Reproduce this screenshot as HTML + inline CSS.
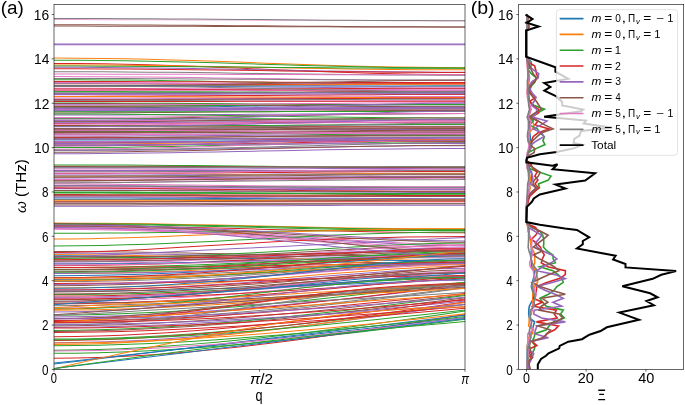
<!DOCTYPE html><html><head><meta charset="utf-8"><style>html,body{margin:0;padding:0;background:#fff;overflow:hidden}svg{display:block;will-change:transform}</style></head><body><svg width="685" height="405" viewBox="0 0 685 405" font-family='"Liberation Sans", sans-serif'>
<rect x="0" y="0" width="685" height="405" fill="#fff"/>
<defs>
<clipPath id="ca"><rect x="54.0" y="4.5" width="411.0" height="364.9"/></clipPath>
<clipPath id="cb"><rect x="518.7" y="4.5" width="165.0" height="364.9"/></clipPath>
</defs>
<g clip-path="url(#ca)" stroke="none">
<path d="M53.0,20.10 77.8,20.11 101.9,20.14 125.4,20.19 148.5,20.25 171.2,20.32 193.5,20.40 215.7,20.49 237.6,20.58 259.5,20.67 281.4,20.77 303.3,20.86 325.5,20.95 347.8,21.03 370.5,21.10 393.6,21.16 417.1,21.21 441.2,21.24 466.0,21.25 466.0,20.25 441.2,20.24 417.1,20.21 393.6,20.16 370.5,20.10 347.8,20.03 325.5,19.95 303.3,19.86 281.4,19.77 259.5,19.68 237.6,19.58 215.7,19.49 193.5,19.40 171.2,19.32 148.5,19.25 125.4,19.19 101.9,19.14 77.8,19.11 53.0,19.10Z" fill="#e9a8d8"/>
<path d="M53.0,19.00 77.8,19.02 101.9,19.08 125.4,19.16 148.5,19.28 171.2,19.41 193.5,19.57 215.7,19.74 237.6,19.92 259.5,20.10 281.4,20.28 303.3,20.46 325.5,20.63 347.8,20.79 370.5,20.92 393.6,21.04 417.1,21.12 441.2,21.18 466.0,21.20 466.0,20.20 441.2,20.18 417.1,20.12 393.6,20.04 370.5,19.92 347.8,19.79 325.5,19.63 303.3,19.46 281.4,19.28 259.5,19.10 237.6,18.92 215.7,18.74 193.5,18.57 171.2,18.41 148.5,18.28 125.4,18.16 101.9,18.08 77.8,18.02 53.0,18.00Z" fill="#7f7f7f"/>
<path d="M53.0,25.30 77.8,25.32 101.9,25.37 125.4,25.46 148.5,25.57 171.2,25.70 193.5,25.84 215.7,26.01 237.6,26.18 259.5,26.35 281.4,26.52 303.3,26.69 325.5,26.86 347.8,27.00 370.5,27.13 393.6,27.24 417.1,27.33 441.2,27.38 466.0,27.40 466.0,26.40 441.2,26.38 417.1,26.33 393.6,26.24 370.5,26.13 347.8,26.00 325.5,25.86 303.3,25.69 281.4,25.52 259.5,25.35 237.6,25.18 215.7,25.01 193.5,24.84 171.2,24.70 148.5,24.57 125.4,24.46 101.9,24.37 77.8,24.32 53.0,24.30Z" fill="#8c564b"/>
<path d="M53.0,26.60 77.8,26.61 101.9,26.63 125.4,26.67 148.5,26.73 171.2,26.79 193.5,26.86 215.7,26.94 237.6,27.02 259.5,27.10 281.4,27.18 303.3,27.26 325.5,27.34 347.8,27.41 370.5,27.47 393.6,27.53 417.1,27.57 441.2,27.59 466.0,27.60 466.0,26.60 441.2,26.59 417.1,26.57 393.6,26.53 370.5,26.47 347.8,26.41 325.5,26.34 303.3,26.26 281.4,26.18 259.5,26.10 237.6,26.02 215.7,25.94 193.5,25.86 171.2,25.79 148.5,25.73 125.4,25.67 101.9,25.63 77.8,25.61 53.0,25.60Z" fill="#8c564b"/>
<path d="M53.0,44.50 77.8,44.50 101.9,44.50 125.4,44.50 148.5,44.50 171.2,44.50 193.5,44.50 215.7,44.50 237.6,44.50 259.5,44.50 281.4,44.50 303.3,44.50 325.5,44.50 347.8,44.50 370.5,44.50 393.6,44.50 417.1,44.50 441.2,44.50 466.0,44.50 466.0,43.50 441.2,43.50 417.1,43.50 393.6,43.50 370.5,43.50 347.8,43.50 325.5,43.50 303.3,43.50 281.4,43.50 259.5,43.50 237.6,43.50 215.7,43.50 193.5,43.50 171.2,43.50 148.5,43.50 125.4,43.50 101.9,43.50 77.8,43.50 53.0,43.50Z" fill="#9467bd"/>
<path d="M53.0,45.35 77.8,45.35 101.9,45.35 125.4,45.35 148.5,45.34 171.2,45.34 193.5,45.34 215.7,45.33 237.6,45.33 259.5,45.32 281.4,45.32 303.3,45.32 325.5,45.31 347.8,45.31 370.5,45.31 393.6,45.30 417.1,45.30 441.2,45.30 466.0,45.30 466.0,44.30 441.2,44.30 417.1,44.30 393.6,44.30 370.5,44.31 347.8,44.31 325.5,44.31 303.3,44.32 281.4,44.32 259.5,44.33 237.6,44.33 215.7,44.33 193.5,44.34 171.2,44.34 148.5,44.34 125.4,44.35 101.9,44.35 77.8,44.35 53.0,44.35Z" fill="#9467bd"/>
<path d="M53.0,58.60 77.8,58.69 101.9,58.93 125.4,59.31 148.5,59.81 171.2,60.41 193.5,61.09 215.6,61.83 237.6,62.60 259.5,63.40 281.4,64.20 303.3,64.97 325.4,65.71 347.8,66.39 370.5,66.99 393.6,67.49 417.1,67.87 441.2,68.11 466.0,68.20 466.0,67.20 441.2,67.11 417.1,66.87 393.6,66.49 370.5,65.99 347.8,65.39 325.5,64.71 303.4,63.97 281.4,63.20 259.5,62.40 237.6,61.60 215.7,60.83 193.6,60.09 171.2,59.41 148.5,58.81 125.4,58.31 101.9,57.93 77.8,57.69 53.0,57.60Z" fill="#ff7f0e"/>
<path d="M53.0,60.70 77.8,60.77 101.9,60.97 125.4,61.28 148.5,61.69 171.2,62.19 193.5,62.74 215.6,63.35 237.6,63.99 259.5,64.64 281.4,65.30 303.3,65.93 325.4,66.54 347.8,67.10 370.5,67.59 393.6,68.00 417.1,68.31 441.2,68.51 466.0,68.58 466.0,67.58 441.2,67.51 417.1,67.31 393.6,67.00 370.5,66.59 347.8,66.10 325.5,65.54 303.4,64.93 281.4,64.30 259.5,63.64 237.6,62.99 215.7,62.35 193.6,61.74 171.2,61.19 148.5,60.70 125.4,60.28 101.9,59.97 77.8,59.77 53.0,59.70Z" fill="#2ca02c"/>
<path d="M53.0,63.90 77.8,64.00 101.9,64.29 125.4,64.73 148.5,65.32 171.2,66.02 193.5,66.82 215.6,67.68 237.6,68.59 259.5,69.53 281.4,70.46 303.3,71.37 325.4,72.23 347.8,73.03 370.5,73.73 393.6,74.32 417.1,74.77 441.2,75.05 466.0,75.15 466.0,74.15 441.2,74.05 417.1,73.77 393.6,73.32 370.5,72.73 347.8,72.03 325.5,71.24 303.4,70.37 281.4,69.46 259.5,68.53 237.6,67.59 215.7,66.68 193.6,65.82 171.2,65.02 148.5,64.32 125.4,63.73 101.9,63.29 77.8,63.00 53.0,62.90Z" fill="#d62728"/>
<path d="M53.0,65.40 77.8,65.44 101.9,65.57 125.4,65.76 148.5,66.02 171.2,66.33 193.5,66.67 215.7,67.05 237.6,67.45 259.5,67.86 281.4,68.27 303.3,68.66 325.5,69.04 347.8,69.39 370.5,69.70 393.6,69.95 417.1,70.15 441.2,70.27 466.0,70.32 466.0,69.32 441.2,69.27 417.1,69.15 393.6,68.95 370.5,68.70 347.8,68.39 325.5,68.04 303.3,67.66 281.4,67.27 259.5,66.86 237.6,66.45 215.7,66.05 193.5,65.67 171.2,65.33 148.5,65.02 125.4,64.76 101.9,64.57 77.8,64.44 53.0,64.40Z" fill="#ff7f0e"/>
<path d="M53.0,66.60 77.8,66.62 101.9,66.68 125.4,66.76 148.5,66.88 171.2,67.02 193.5,67.17 215.7,67.34 237.6,67.52 259.5,67.71 281.4,67.89 303.3,68.07 325.5,68.24 347.8,68.39 370.5,68.53 393.6,68.65 417.1,68.74 441.2,68.79 466.0,68.81 466.0,67.81 441.2,67.79 417.1,67.74 393.6,67.65 370.5,67.53 347.8,67.39 325.5,67.24 303.3,67.07 281.4,66.89 259.5,66.71 237.6,66.52 215.7,66.34 193.5,66.17 171.2,66.02 148.5,65.88 125.4,65.76 101.9,65.68 77.8,65.62 53.0,65.60Z" fill="#2ca02c"/>
<path d="M53.0,67.80 77.8,67.84 101.9,67.97 125.4,68.16 148.5,68.42 171.2,68.73 193.5,69.07 215.7,69.45 237.6,69.85 259.5,70.25 281.4,70.66 303.3,71.06 325.5,71.43 347.8,71.78 370.5,72.09 393.6,72.34 417.1,72.54 441.2,72.66 466.0,72.71 466.0,71.71 441.2,71.66 417.1,71.54 393.6,71.34 370.5,71.09 347.8,70.78 325.5,70.43 303.3,70.06 281.4,69.66 259.5,69.25 237.6,68.85 215.7,68.45 193.5,68.07 171.2,67.73 148.5,67.42 125.4,67.16 101.9,66.97 77.8,66.84 53.0,66.80Z" fill="#9467bd"/>
<path d="M53.0,69.30 77.8,69.33 101.9,69.42 125.4,69.57 148.5,69.76 171.2,69.98 193.5,70.24 215.7,70.51 237.6,70.81 259.5,71.11 281.4,71.41 303.3,71.70 325.5,71.98 347.8,72.23 370.5,72.46 393.6,72.65 417.1,72.79 441.2,72.88 466.0,72.91 466.0,71.91 441.2,71.88 417.1,71.79 393.6,71.65 370.5,71.46 347.8,71.23 325.5,70.98 303.3,70.70 281.4,70.41 259.5,70.11 237.6,69.81 215.7,69.51 193.5,69.24 171.2,68.98 148.5,68.76 125.4,68.57 101.9,68.42 77.8,68.33 53.0,68.30Z" fill="#d62728"/>
<path d="M53.0,72.20 77.8,72.23 101.9,72.32 125.4,72.46 148.5,72.64 171.2,72.85 193.5,73.10 215.7,73.36 237.6,73.64 259.5,73.93 281.4,74.21 303.3,74.49 325.5,74.76 347.8,75.00 370.5,75.22 393.6,75.40 417.1,75.54 441.2,75.63 466.0,75.66 466.0,74.66 441.2,74.63 417.1,74.54 393.6,74.40 370.5,74.22 347.8,74.00 325.5,73.76 303.3,73.49 281.4,73.21 259.5,72.93 237.6,72.64 215.7,72.36 193.5,72.10 171.2,71.85 148.5,71.64 125.4,71.46 101.9,71.32 77.8,71.23 53.0,71.20Z" fill="#7f7f7f"/>
<path d="M53.0,74.60 77.8,74.61 101.9,74.63 125.4,74.65 148.5,74.69 171.2,74.74 193.5,74.79 215.7,74.85 237.6,74.91 259.5,74.97 281.4,75.03 303.3,75.09 325.5,75.15 347.8,75.20 370.5,75.25 393.6,75.28 417.1,75.31 441.2,75.33 466.0,75.34 466.0,74.34 441.2,74.33 417.1,74.31 393.6,74.28 370.5,74.25 347.8,74.20 325.5,74.15 303.3,74.09 281.4,74.03 259.5,73.97 237.6,73.91 215.7,73.85 193.5,73.79 171.2,73.74 148.5,73.69 125.4,73.65 101.9,73.63 77.8,73.61 53.0,73.60Z" fill="#e377c2"/>
<path d="M53.0,77.10 77.8,77.13 101.9,77.23 125.4,77.38 148.5,77.58 171.2,77.82 193.5,78.09 215.7,78.39 237.6,78.70 259.5,79.02 281.4,79.33 303.3,79.64 325.5,79.94 347.8,80.21 370.5,80.45 393.6,80.65 417.1,80.80 441.2,80.90 466.0,80.93 466.0,79.93 441.2,79.90 417.1,79.80 393.6,79.65 370.5,79.45 347.8,79.21 325.5,78.94 303.3,78.64 281.4,78.33 259.5,78.02 237.6,77.70 215.7,77.39 193.5,77.09 171.2,76.82 148.5,76.58 125.4,76.38 101.9,76.23 77.8,76.13 53.0,76.10Z" fill="#e377c2"/>
<path d="M53.0,79.00 77.8,79.01 101.9,79.06 125.4,79.12 148.5,79.20 171.2,79.31 193.5,79.42 215.7,79.55 237.6,79.68 259.5,79.81 281.4,79.95 303.3,80.08 325.5,80.20 347.8,80.32 370.5,80.42 393.6,80.50 417.1,80.57 441.2,80.61 466.0,80.62 466.0,79.62 441.2,79.61 417.1,79.57 393.6,79.50 370.5,79.42 347.8,79.32 325.5,79.20 303.3,79.08 281.4,78.95 259.5,78.81 237.6,78.68 215.7,78.55 193.5,78.42 171.2,78.31 148.5,78.20 125.4,78.12 101.9,78.06 77.8,78.01 53.0,78.00Z" fill="#7f7f7f"/>
<path d="M53.0,80.20 77.8,80.25 101.9,80.38 125.4,80.59 148.5,80.86 171.2,81.19 193.5,81.56 215.7,81.96 237.6,82.39 259.5,82.83 281.4,83.26 303.3,83.69 325.4,84.09 347.8,84.46 370.5,84.79 393.6,85.06 417.1,85.27 441.2,85.40 466.0,85.45 466.0,84.45 441.2,84.40 417.1,84.27 393.6,84.06 370.5,83.79 347.8,83.46 325.5,83.09 303.3,82.69 281.4,82.26 259.5,81.83 237.6,81.39 215.7,80.97 193.6,80.56 171.2,80.19 148.5,79.86 125.4,79.59 101.9,79.38 77.8,79.25 53.0,79.20Z" fill="#2ca02c"/>
<path d="M53.0,82.00 77.8,82.01 101.9,82.04 125.4,82.08 148.5,82.14 171.2,82.21 193.5,82.29 215.7,82.37 237.6,82.46 259.5,82.55 281.4,82.65 303.3,82.74 325.5,82.82 347.8,82.90 370.5,82.97 393.6,83.03 417.1,83.07 441.2,83.10 466.0,83.11 466.0,82.11 441.2,82.10 417.1,82.07 393.6,82.03 370.5,81.97 347.8,81.90 325.5,81.82 303.3,81.74 281.4,81.65 259.5,81.55 237.6,81.46 215.7,81.37 193.5,81.29 171.2,81.21 148.5,81.14 125.4,81.08 101.9,81.04 77.8,81.01 53.0,81.00Z" fill="#d62728"/>
<path d="M53.0,84.10 77.8,84.10 101.9,84.11 125.4,84.13 148.5,84.15 171.2,84.17 193.5,84.20 215.7,84.23 237.6,84.26 259.5,84.29 281.4,84.32 303.3,84.35 325.5,84.38 347.8,84.41 370.5,84.43 393.6,84.45 417.1,84.47 441.2,84.48 466.0,84.48 466.0,83.48 441.2,83.48 417.1,83.47 393.6,83.45 370.5,83.43 347.8,83.41 325.5,83.38 303.3,83.35 281.4,83.32 259.5,83.29 237.6,83.26 215.7,83.23 193.5,83.20 171.2,83.17 148.5,83.15 125.4,83.13 101.9,83.11 77.8,83.10 53.0,83.10Z" fill="#7f7f7f"/>
<path d="M53.0,86.10 77.8,86.12 101.9,86.19 125.4,86.29 148.5,86.43 171.2,86.60 193.5,86.78 215.7,86.98 237.6,87.20 259.5,87.41 281.4,87.63 303.3,87.84 325.5,88.05 347.8,88.23 370.5,88.40 393.6,88.53 417.1,88.64 441.2,88.70 466.0,88.73 466.0,87.73 441.2,87.70 417.1,87.64 393.6,87.53 370.5,87.40 347.8,87.23 325.5,87.05 303.3,86.84 281.4,86.63 259.5,86.41 237.6,86.20 215.7,85.98 193.5,85.78 171.2,85.60 148.5,85.43 125.4,85.29 101.9,85.19 77.8,85.12 53.0,85.10Z" fill="#9467bd"/>
<path d="M53.0,88.80 77.8,88.81 101.9,88.85 125.4,88.90 148.5,88.98 171.2,89.06 193.5,89.16 215.7,89.27 237.6,89.38 259.5,89.50 281.4,89.62 303.3,89.73 325.5,89.84 347.8,89.94 370.5,90.02 393.6,90.10 417.1,90.15 441.2,90.19 466.0,90.20 466.0,89.20 441.2,89.19 417.1,89.15 393.6,89.10 370.5,89.02 347.8,88.94 325.5,88.84 303.3,88.73 281.4,88.62 259.5,88.50 237.6,88.38 215.7,88.27 193.5,88.16 171.2,88.06 148.5,87.98 125.4,87.90 101.9,87.85 77.8,87.81 53.0,87.80Z" fill="#e377c2"/>
<path d="M53.0,90.70 77.8,90.68 101.9,90.63 125.4,90.55 148.5,90.45 171.2,90.32 193.5,90.18 215.7,90.02 237.6,89.86 259.5,89.69 281.4,89.52 303.3,89.36 325.5,89.20 347.8,89.06 370.5,88.93 393.6,88.83 417.1,88.75 441.2,88.70 466.0,88.68 466.0,87.68 441.2,87.70 417.1,87.75 393.6,87.83 370.5,87.93 347.8,88.06 325.5,88.20 303.3,88.36 281.4,88.52 259.5,88.69 237.6,88.86 215.7,89.02 193.5,89.18 171.2,89.32 148.5,89.45 125.4,89.55 101.9,89.63 77.8,89.68 53.0,89.70Z" fill="#d62728"/>
<path d="M53.0,92.30 77.8,92.31 101.9,92.34 125.4,92.38 148.5,92.44 171.2,92.51 193.5,92.58 215.7,92.67 237.6,92.75 259.5,92.85 281.4,92.94 303.3,93.02 325.5,93.11 347.8,93.18 370.5,93.25 393.6,93.31 417.1,93.35 441.2,93.38 466.0,93.39 466.0,92.39 441.2,92.38 417.1,92.35 393.6,92.31 370.5,92.25 347.8,92.18 325.5,92.11 303.3,92.02 281.4,91.94 259.5,91.85 237.6,91.75 215.7,91.67 193.5,91.58 171.2,91.51 148.5,91.44 125.4,91.38 101.9,91.34 77.8,91.31 53.0,91.30Z" fill="#2ca02c"/>
<path d="M53.0,93.80 77.8,93.78 101.9,93.73 125.4,93.65 148.5,93.55 171.2,93.43 193.5,93.29 215.7,93.14 237.6,92.98 259.5,92.81 281.4,92.65 303.3,92.49 325.5,92.34 347.8,92.20 370.5,92.07 393.6,91.97 417.1,91.89 441.2,91.84 466.0,91.83 466.0,90.83 441.2,90.84 417.1,90.89 393.6,90.97 370.5,91.07 347.8,91.20 325.5,91.34 303.3,91.49 281.4,91.65 259.5,91.81 237.6,91.98 215.7,92.14 193.5,92.29 171.2,92.43 148.5,92.55 125.4,92.65 101.9,92.73 77.8,92.78 53.0,92.80Z" fill="#8c564b"/>
<path d="M53.0,95.30 77.8,95.32 101.9,95.36 125.4,95.43 148.5,95.53 171.2,95.64 193.5,95.76 215.7,95.90 237.6,96.05 259.5,96.19 281.4,96.34 303.3,96.49 325.5,96.63 347.8,96.75 370.5,96.86 393.6,96.96 417.1,97.03 441.2,97.07 466.0,97.09 466.0,96.09 441.2,96.07 417.1,96.03 393.6,95.96 370.5,95.86 347.8,95.75 325.5,95.63 303.3,95.49 281.4,95.34 259.5,95.20 237.6,95.05 215.7,94.90 193.5,94.76 171.2,94.64 148.5,94.53 125.4,94.43 101.9,94.36 77.8,94.32 53.0,94.30Z" fill="#e377c2"/>
<path d="M53.0,96.90 77.8,96.88 101.9,96.83 125.4,96.76 148.5,96.65 171.2,96.53 193.5,96.40 215.7,96.25 237.6,96.09 259.5,95.93 281.4,95.77 303.3,95.61 325.5,95.46 347.8,95.32 370.5,95.20 393.6,95.10 417.1,95.02 441.2,94.97 466.0,94.95 466.0,93.95 441.2,93.97 417.1,94.02 393.6,94.10 370.5,94.20 347.8,94.32 325.5,94.46 303.3,94.61 281.4,94.77 259.5,94.93 237.6,95.09 215.7,95.25 193.5,95.40 171.2,95.53 148.5,95.65 125.4,95.76 101.9,95.83 77.8,95.88 53.0,95.90Z" fill="#d62728"/>
<path d="M53.0,98.50 77.8,98.50 101.9,98.50 125.4,98.49 148.5,98.48 171.2,98.48 193.5,98.47 215.7,98.46 237.6,98.45 259.5,98.44 281.4,98.43 303.3,98.42 325.5,98.41 347.8,98.40 370.5,98.39 393.6,98.39 417.1,98.38 441.2,98.38 466.0,98.38 466.0,97.38 441.2,97.38 417.1,97.38 393.6,97.39 370.5,97.39 347.8,97.40 325.5,97.41 303.3,97.42 281.4,97.43 259.5,97.44 237.6,97.45 215.7,97.46 193.5,97.47 171.2,97.48 148.5,97.48 125.4,97.49 101.9,97.50 77.8,97.50 53.0,97.50Z" fill="#e377c2"/>
<path d="M53.0,100.10 77.8,100.08 101.9,100.01 125.4,99.91 148.5,99.78 171.2,99.62 193.5,99.45 215.7,99.25 237.6,99.05 259.5,98.84 281.4,98.63 303.3,98.43 325.5,98.23 347.8,98.05 370.5,97.90 393.6,97.76 417.1,97.66 441.2,97.60 466.0,97.58 466.0,96.58 441.2,96.60 417.1,96.66 393.6,96.76 370.5,96.90 347.8,97.05 325.5,97.23 303.3,97.43 281.4,97.63 259.5,97.84 237.6,98.05 215.7,98.25 193.5,98.45 171.2,98.62 148.5,98.78 125.4,98.91 101.9,99.01 77.8,99.08 53.0,99.10Z" fill="#e377c2"/>
<path d="M53.0,101.60 77.8,101.60 101.9,101.59 125.4,101.58 148.5,101.57 171.2,101.55 193.5,101.53 215.7,101.51 237.6,101.48 259.5,101.46 281.4,101.44 303.3,101.42 325.5,101.40 347.8,101.38 370.5,101.36 393.6,101.34 417.1,101.33 441.2,101.33 466.0,101.32 466.0,100.32 441.2,100.33 417.1,100.33 393.6,100.34 370.5,100.36 347.8,100.38 325.5,100.40 303.3,100.42 281.4,100.44 259.5,100.46 237.6,100.48 215.7,100.51 193.5,100.53 171.2,100.55 148.5,100.57 125.4,100.58 101.9,100.59 77.8,100.60 53.0,100.60Z" fill="#e377c2"/>
<path d="M53.0,103.50 77.8,103.52 101.9,103.56 125.4,103.64 148.5,103.73 171.2,103.85 193.5,103.98 215.7,104.12 237.6,104.27 259.5,104.43 281.4,104.58 303.3,104.73 325.5,104.88 347.8,105.01 370.5,105.12 393.6,105.22 417.1,105.29 441.2,105.34 466.0,105.36 466.0,104.36 441.2,104.34 417.1,104.29 393.6,104.22 370.5,104.12 347.8,104.01 325.5,103.88 303.3,103.73 281.4,103.58 259.5,103.43 237.6,103.27 215.7,103.12 193.5,102.98 171.2,102.85 148.5,102.73 125.4,102.64 101.9,102.56 77.8,102.52 53.0,102.50Z" fill="#2ca02c"/>
<path d="M53.0,105.30 77.8,105.31 101.9,105.35 125.4,105.40 148.5,105.48 171.2,105.56 193.5,105.66 215.7,105.77 237.6,105.88 259.5,105.99 281.4,106.11 303.3,106.22 325.5,106.33 347.8,106.43 370.5,106.51 393.6,106.59 417.1,106.64 441.2,106.68 466.0,106.69 466.0,105.69 441.2,105.68 417.1,105.64 393.6,105.59 370.5,105.51 347.8,105.43 325.5,105.33 303.3,105.22 281.4,105.11 259.5,104.99 237.6,104.88 215.7,104.77 193.5,104.66 171.2,104.56 148.5,104.48 125.4,104.40 101.9,104.35 77.8,104.31 53.0,104.30Z" fill="#9467bd"/>
<path d="M53.0,107.00 77.8,106.98 101.9,106.92 125.4,106.83 148.5,106.72 171.2,106.57 193.5,106.41 215.7,106.24 237.6,106.06 259.5,105.87 281.4,105.68 303.3,105.50 325.5,105.33 347.8,105.17 370.5,105.03 393.6,104.91 417.1,104.82 441.2,104.76 466.0,104.74 466.0,103.74 441.2,103.76 417.1,103.82 393.6,103.91 370.5,104.03 347.8,104.17 325.5,104.33 303.3,104.50 281.4,104.68 259.5,104.87 237.6,105.06 215.7,105.24 193.5,105.41 171.2,105.57 148.5,105.72 125.4,105.83 101.9,105.92 77.8,105.98 53.0,106.00Z" fill="#d62728"/>
<path d="M53.0,108.40 77.8,108.37 101.9,108.27 125.4,108.13 148.5,107.94 171.2,107.71 193.5,107.45 215.7,107.16 237.6,106.87 259.5,106.56 281.4,106.26 303.3,105.96 325.5,105.68 347.8,105.42 370.5,105.19 393.6,105.00 417.1,104.85 441.2,104.76 466.0,104.72 466.0,103.72 441.2,103.76 417.1,103.85 393.6,104.00 370.5,104.19 347.8,104.42 325.5,104.68 303.3,104.96 281.4,105.26 259.5,105.56 237.6,105.87 215.7,106.16 193.5,106.45 171.2,106.71 148.5,106.94 125.4,107.13 101.9,107.27 77.8,107.37 53.0,107.40Z" fill="#1f77b4"/>
<path d="M53.0,110.00 77.8,110.00 101.9,110.02 125.4,110.04 148.5,110.06 171.2,110.09 193.5,110.12 215.7,110.16 237.6,110.20 259.5,110.24 281.4,110.28 303.3,110.32 325.5,110.36 347.8,110.39 370.5,110.42 393.6,110.45 417.1,110.47 441.2,110.48 466.0,110.48 466.0,109.48 441.2,109.48 417.1,109.47 393.6,109.45 370.5,109.42 347.8,109.39 325.5,109.36 303.3,109.32 281.4,109.28 259.5,109.24 237.6,109.20 215.7,109.16 193.5,109.12 171.2,109.09 148.5,109.06 125.4,109.04 101.9,109.02 77.8,109.00 53.0,109.00Z" fill="#e377c2"/>
<path d="M53.0,111.60 77.8,111.58 101.9,111.52 125.4,111.43 148.5,111.30 171.2,111.16 193.5,110.99 215.7,110.81 237.6,110.62 259.5,110.43 281.4,110.23 303.3,110.04 325.5,109.86 347.8,109.69 370.5,109.55 393.6,109.42 417.1,109.33 441.2,109.27 466.0,109.25 466.0,108.25 441.2,108.27 417.1,108.33 393.6,108.42 370.5,108.55 347.8,108.69 325.5,108.86 303.3,109.04 281.4,109.23 259.5,109.43 237.6,109.62 215.7,109.81 193.5,109.99 171.2,110.16 148.5,110.30 125.4,110.43 101.9,110.52 77.8,110.58 53.0,110.60Z" fill="#9467bd"/>
<path d="M53.0,113.40 77.8,113.38 101.9,113.31 125.4,113.21 148.5,113.08 171.2,112.92 193.5,112.75 215.7,112.55 237.6,112.35 259.5,112.14 281.4,111.93 303.3,111.73 325.5,111.53 347.8,111.35 370.5,111.20 393.6,111.06 417.1,110.96 441.2,110.90 466.0,110.88 466.0,109.88 441.2,109.90 417.1,109.96 393.6,110.06 370.5,110.20 347.8,110.35 325.5,110.53 303.3,110.73 281.4,110.93 259.5,111.14 237.6,111.35 215.7,111.55 193.5,111.75 171.2,111.92 148.5,112.08 125.4,112.21 101.9,112.31 77.8,112.38 53.0,112.40Z" fill="#8c564b"/>
<path d="M53.0,115.50 77.8,115.49 101.9,115.45 125.4,115.40 148.5,115.32 171.2,115.24 193.5,115.14 215.7,115.03 237.6,114.92 259.5,114.80 281.4,114.68 303.3,114.57 325.5,114.46 347.8,114.36 370.5,114.28 393.6,114.20 417.1,114.15 441.2,114.11 466.0,114.10 466.0,113.10 441.2,113.11 417.1,113.15 393.6,113.20 370.5,113.28 347.8,113.36 325.5,113.46 303.3,113.57 281.4,113.68 259.5,113.80 237.6,113.92 215.7,114.03 193.5,114.14 171.2,114.24 148.5,114.32 125.4,114.40 101.9,114.45 77.8,114.49 53.0,114.50Z" fill="#9467bd"/>
<path d="M53.0,119.30 77.8,119.25 101.9,119.12 125.4,118.91 148.5,118.64 171.2,118.32 193.6,117.95 215.7,117.55 237.6,117.13 259.5,116.70 281.4,116.27 303.3,115.85 325.5,115.45 347.8,115.08 370.5,114.76 393.6,114.49 417.1,114.28 441.2,114.15 466.0,114.10 466.0,113.10 441.2,113.15 417.1,113.28 393.6,113.49 370.5,113.76 347.8,114.08 325.4,114.45 303.3,114.85 281.4,115.27 259.5,115.70 237.6,116.13 215.7,116.55 193.5,116.95 171.2,117.32 148.5,117.64 125.4,117.91 101.9,118.12 77.8,118.25 53.0,118.30Z" fill="#8c564b"/>
<path d="M53.0,120.90 77.8,120.91 101.9,120.92 125.4,120.95 148.5,120.98 171.2,121.02 193.5,121.07 215.7,121.12 237.6,121.17 259.5,121.23 281.4,121.28 303.3,121.34 325.5,121.39 347.8,121.43 370.5,121.48 393.6,121.51 417.1,121.54 441.2,121.55 466.0,121.56 466.0,120.56 441.2,120.55 417.1,120.54 393.6,120.51 370.5,120.48 347.8,120.43 325.5,120.39 303.3,120.34 281.4,120.28 259.5,120.23 237.6,120.17 215.7,120.12 193.5,120.07 171.2,120.02 148.5,119.98 125.4,119.95 101.9,119.92 77.8,119.91 53.0,119.90Z" fill="#e377c2"/>
<path d="M53.0,122.20 77.8,122.21 101.9,122.24 125.4,122.28 148.5,122.34 171.2,122.42 193.5,122.50 215.7,122.59 237.6,122.68 259.5,122.77 281.4,122.87 303.3,122.96 325.5,123.05 347.8,123.13 370.5,123.20 393.6,123.26 417.1,123.31 441.2,123.34 466.0,123.35 466.0,122.35 441.2,122.34 417.1,122.31 393.6,122.26 370.5,122.20 347.8,122.13 325.5,122.05 303.3,121.96 281.4,121.87 259.5,121.77 237.6,121.68 215.7,121.59 193.5,121.50 171.2,121.42 148.5,121.34 125.4,121.28 101.9,121.24 77.8,121.21 53.0,121.20Z" fill="#7f7f7f"/>
<path d="M53.0,123.90 77.8,123.89 101.9,123.86 125.4,123.82 148.5,123.76 171.2,123.70 193.5,123.62 215.7,123.54 237.6,123.45 259.5,123.36 281.4,123.27 303.3,123.18 325.5,123.10 347.8,123.02 370.5,122.96 393.6,122.90 417.1,122.86 441.2,122.83 466.0,122.82 466.0,121.82 441.2,121.83 417.1,121.86 393.6,121.90 370.5,121.96 347.8,122.02 325.5,122.10 303.3,122.18 281.4,122.27 259.5,122.36 237.6,122.45 215.7,122.54 193.5,122.62 171.2,122.70 148.5,122.76 125.4,122.82 101.9,122.86 77.8,122.89 53.0,122.90Z" fill="#d62728"/>
<path d="M53.0,125.60 77.8,125.57 101.9,125.50 125.4,125.37 148.5,125.21 171.2,125.02 193.5,124.81 215.7,124.57 237.6,124.33 259.5,124.07 281.4,123.82 303.3,123.57 325.5,123.34 347.8,123.12 370.5,122.93 393.6,122.77 417.1,122.65 441.2,122.58 466.0,122.55 466.0,121.55 441.2,121.58 417.1,121.65 393.6,121.77 370.5,121.93 347.8,122.12 325.5,122.34 303.3,122.57 281.4,122.82 259.5,123.07 237.6,123.33 215.7,123.57 193.5,123.81 171.2,124.02 148.5,124.21 125.4,124.37 101.9,124.50 77.8,124.57 53.0,124.60Z" fill="#e377c2"/>
<path d="M53.0,127.00 77.8,126.98 101.9,126.94 125.4,126.87 148.5,126.78 171.2,126.67 193.5,126.55 215.7,126.42 237.6,126.28 259.5,126.14 281.4,125.99 303.3,125.85 325.5,125.72 347.8,125.60 370.5,125.49 393.6,125.40 417.1,125.33 441.2,125.29 466.0,125.27 466.0,124.27 441.2,124.29 417.1,124.33 393.6,124.40 370.5,124.49 347.8,124.60 325.5,124.72 303.3,124.85 281.4,124.99 259.5,125.14 237.6,125.28 215.7,125.42 193.5,125.55 171.2,125.67 148.5,125.78 125.4,125.87 101.9,125.94 77.8,125.98 53.0,126.00Z" fill="#9467bd"/>
<path d="M53.0,129.00 77.8,129.01 101.9,129.06 125.4,129.12 148.5,129.21 171.2,129.31 193.5,129.43 215.7,129.56 237.6,129.70 259.5,129.83 281.4,129.97 303.3,130.11 325.5,130.24 347.8,130.35 370.5,130.46 393.6,130.55 417.1,130.61 441.2,130.65 466.0,130.67 466.0,129.67 441.2,129.65 417.1,129.61 393.6,129.55 370.5,129.46 347.8,129.35 325.5,129.24 303.3,129.11 281.4,128.97 259.5,128.83 237.6,128.70 215.7,128.56 193.5,128.43 171.2,128.31 148.5,128.21 125.4,128.12 101.9,128.06 77.8,128.01 53.0,128.00Z" fill="#9467bd"/>
<path d="M53.0,130.70 77.8,130.69 101.9,130.66 125.4,130.62 148.5,130.56 171.2,130.50 193.5,130.42 215.7,130.34 237.6,130.25 259.5,130.16 281.4,130.07 303.3,129.98 325.5,129.90 347.8,129.82 370.5,129.75 393.6,129.70 417.1,129.65 441.2,129.63 466.0,129.62 466.0,128.62 441.2,128.63 417.1,128.65 393.6,128.70 370.5,128.75 347.8,128.82 325.5,128.90 303.3,128.98 281.4,129.07 259.5,129.16 237.6,129.25 215.7,129.34 193.5,129.42 171.2,129.50 148.5,129.56 125.4,129.62 101.9,129.66 77.8,129.69 53.0,129.70Z" fill="#d62728"/>
<path d="M53.0,132.00 77.8,132.01 101.9,132.03 125.4,132.07 148.5,132.13 171.2,132.19 193.5,132.26 215.7,132.34 237.6,132.42 259.5,132.50 281.4,132.58 303.3,132.66 325.5,132.74 347.8,132.81 370.5,132.87 393.6,132.92 417.1,132.96 441.2,132.99 466.0,133.00 466.0,132.00 441.2,131.99 417.1,131.96 393.6,131.92 370.5,131.87 347.8,131.81 325.5,131.74 303.3,131.66 281.4,131.58 259.5,131.50 237.6,131.42 215.7,131.34 193.5,131.26 171.2,131.19 148.5,131.13 125.4,131.07 101.9,131.03 77.8,131.01 53.0,131.00Z" fill="#8c564b"/>
<path d="M53.0,133.80 77.8,133.79 101.9,133.75 125.4,133.69 148.5,133.61 171.2,133.51 193.5,133.41 215.7,133.29 237.6,133.17 259.5,133.04 281.4,132.92 303.3,132.80 325.5,132.68 347.8,132.57 370.5,132.48 393.6,132.40 417.1,132.34 441.2,132.30 466.0,132.29 466.0,131.29 441.2,131.30 417.1,131.34 393.6,131.40 370.5,131.48 347.8,131.57 325.5,131.68 303.3,131.80 281.4,131.92 259.5,132.04 237.6,132.17 215.7,132.29 193.5,132.41 171.2,132.51 148.5,132.61 125.4,132.69 101.9,132.75 77.8,132.79 53.0,132.80Z" fill="#e377c2"/>
<path d="M53.0,135.10 77.8,135.09 101.9,135.05 125.4,134.99 148.5,134.92 171.2,134.83 193.5,134.73 215.7,134.62 237.6,134.50 259.5,134.39 281.4,134.27 303.3,134.15 325.5,134.04 347.8,133.94 370.5,133.85 393.6,133.78 417.1,133.72 441.2,133.69 466.0,133.67 466.0,132.67 441.2,132.69 417.1,132.72 393.6,132.78 370.5,132.85 347.8,132.94 325.5,133.04 303.3,133.15 281.4,133.27 259.5,133.39 237.6,133.50 215.7,133.62 193.5,133.73 171.2,133.83 148.5,133.92 125.4,133.99 101.9,134.05 77.8,134.09 53.0,134.10Z" fill="#7f7f7f"/>
<path d="M53.0,136.50 77.8,136.49 101.9,136.45 125.4,136.40 148.5,136.33 171.2,136.24 193.5,136.15 215.7,136.04 237.6,135.93 259.5,135.82 281.4,135.70 303.3,135.59 325.5,135.49 347.8,135.39 370.5,135.31 393.6,135.24 417.1,135.18 441.2,135.15 466.0,135.14 466.0,134.14 441.2,134.15 417.1,134.18 393.6,134.24 370.5,134.31 347.8,134.39 325.5,134.49 303.3,134.59 281.4,134.70 259.5,134.82 237.6,134.93 215.7,135.04 193.5,135.15 171.2,135.24 148.5,135.33 125.4,135.40 101.9,135.45 77.8,135.49 53.0,135.50Z" fill="#9467bd"/>
<path d="M53.0,137.90 77.8,137.89 101.9,137.85 125.4,137.78 148.5,137.70 171.2,137.61 193.5,137.50 215.7,137.38 237.6,137.25 259.5,137.12 281.4,136.99 303.3,136.86 325.5,136.74 347.8,136.63 370.5,136.54 393.6,136.46 417.1,136.39 441.2,136.35 466.0,136.34 466.0,135.34 441.2,135.35 417.1,135.39 393.6,135.46 370.5,135.54 347.8,135.63 325.5,135.74 303.3,135.86 281.4,135.99 259.5,136.12 237.6,136.25 215.7,136.38 193.5,136.50 171.2,136.61 148.5,136.70 125.4,136.78 101.9,136.85 77.8,136.89 53.0,136.90Z" fill="#8c564b"/>
<path d="M53.0,139.30 77.8,139.29 101.9,139.26 125.4,139.21 148.5,139.14 171.2,139.06 193.5,138.97 215.7,138.87 237.6,138.77 259.5,138.66 281.4,138.56 303.3,138.46 325.5,138.36 347.8,138.27 370.5,138.19 393.6,138.12 417.1,138.07 441.2,138.04 466.0,138.03 466.0,137.03 441.2,137.04 417.1,137.07 393.6,137.12 370.5,137.19 347.8,137.27 325.5,137.36 303.3,137.46 281.4,137.56 259.5,137.66 237.6,137.77 215.7,137.87 193.5,137.97 171.2,138.06 148.5,138.14 125.4,138.21 101.9,138.26 77.8,138.29 53.0,138.30Z" fill="#e377c2"/>
<path d="M53.0,140.60 77.8,140.60 101.9,140.59 125.4,140.58 148.5,140.57 171.2,140.55 193.5,140.53 215.7,140.52 237.6,140.49 259.5,140.47 281.4,140.45 303.3,140.43 325.5,140.41 347.8,140.40 370.5,140.38 393.6,140.37 417.1,140.36 441.2,140.35 466.0,140.35 466.0,139.35 441.2,139.35 417.1,139.36 393.6,139.37 370.5,139.38 347.8,139.40 325.5,139.41 303.3,139.43 281.4,139.45 259.5,139.47 237.6,139.49 215.7,139.52 193.5,139.53 171.2,139.55 148.5,139.57 125.4,139.58 101.9,139.59 77.8,139.60 53.0,139.60Z" fill="#1f77b4"/>
<path d="M53.0,141.90 77.8,141.90 101.9,141.90 125.4,141.91 148.5,141.91 171.2,141.92 193.5,141.92 215.7,141.93 237.6,141.94 259.5,141.94 281.4,141.95 303.3,141.96 325.5,141.96 347.8,141.97 370.5,141.98 393.6,141.98 417.1,141.98 441.2,141.99 466.0,141.99 466.0,140.99 441.2,140.99 417.1,140.98 393.6,140.98 370.5,140.98 347.8,140.97 325.5,140.96 303.3,140.96 281.4,140.95 259.5,140.94 237.6,140.94 215.7,140.93 193.5,140.92 171.2,140.92 148.5,140.91 125.4,140.91 101.9,140.90 77.8,140.90 53.0,140.90Z" fill="#e377c2"/>
<path d="M53.0,143.30 77.8,143.27 101.9,143.20 125.4,143.08 148.5,142.92 171.2,142.73 193.5,142.52 215.7,142.29 237.6,142.04 259.5,141.79 281.4,141.54 303.3,141.30 325.5,141.06 347.8,140.85 370.5,140.66 393.6,140.51 417.1,140.39 441.2,140.31 466.0,140.28 466.0,139.28 441.2,139.31 417.1,139.39 393.6,139.51 370.5,139.66 347.8,139.85 325.5,140.06 303.3,140.30 281.4,140.54 259.5,140.79 237.6,141.04 215.7,141.29 193.5,141.52 171.2,141.73 148.5,141.92 125.4,142.08 101.9,142.20 77.8,142.27 53.0,142.30Z" fill="#d62728"/>
<path d="M53.0,144.70 77.8,144.66 101.9,144.53 125.4,144.33 148.5,144.07 171.2,143.75 193.5,143.40 215.7,143.01 237.6,142.61 259.5,142.19 281.4,141.77 303.3,141.37 325.5,140.98 347.8,140.63 370.5,140.31 393.6,140.05 417.1,139.85 441.2,139.72 466.0,139.68 466.0,138.68 441.2,138.72 417.1,138.85 393.6,139.05 370.5,139.31 347.8,139.63 325.5,139.98 303.3,140.37 281.4,140.77 259.5,141.19 237.6,141.61 215.7,142.01 193.5,142.40 171.2,142.75 148.5,143.07 125.4,143.33 101.9,143.53 77.8,143.66 53.0,143.70Z" fill="#ff7f0e"/>
<path d="M53.0,146.30 77.8,146.26 101.9,146.13 125.4,145.94 148.5,145.68 171.2,145.38 193.5,145.03 215.7,144.66 237.6,144.26 259.5,143.86 281.4,143.45 303.3,143.06 325.5,142.68 347.8,142.34 370.5,142.03 393.6,141.78 417.1,141.59 441.2,141.46 466.0,141.42 466.0,140.42 441.2,140.46 417.1,140.59 393.6,140.78 370.5,141.03 347.8,141.34 325.5,141.68 303.3,142.06 281.4,142.45 259.5,142.86 237.6,143.26 215.7,143.66 193.5,144.03 171.2,144.38 148.5,144.68 125.4,144.94 101.9,145.13 77.8,145.26 53.0,145.30Z" fill="#d62728"/>
<path d="M53.0,148.10 77.8,148.05 101.9,147.90 125.4,147.66 148.5,147.35 171.2,146.98 193.6,146.57 215.7,146.11 237.6,145.63 259.5,145.14 281.4,144.65 303.3,144.17 325.5,143.71 347.8,143.30 370.5,142.93 393.6,142.62 417.1,142.38 441.2,142.23 466.0,142.18 466.0,141.18 441.2,141.23 417.1,141.38 393.6,141.62 370.5,141.93 347.8,142.30 325.4,142.72 303.3,143.17 281.4,143.65 259.5,144.14 237.6,144.63 215.7,145.11 193.5,145.57 171.2,145.98 148.5,146.35 125.4,146.66 101.9,146.90 77.8,147.05 53.0,147.10Z" fill="#2ca02c"/>
<path d="M53.0,149.70 77.8,149.62 101.9,149.41 125.4,149.06 148.5,148.62 171.2,148.08 193.6,147.47 215.7,146.82 237.6,146.12 259.5,145.41 281.4,144.70 303.4,144.00 325.5,143.34 347.8,142.74 370.5,142.20 393.6,141.75 417.1,141.41 441.2,141.19 466.0,141.12 466.0,140.12 441.2,140.19 417.1,140.41 393.6,140.75 370.5,141.20 347.8,141.74 325.4,142.34 303.3,143.00 281.4,143.70 259.5,144.41 237.6,145.12 215.6,145.82 193.5,146.48 171.2,147.08 148.5,147.62 125.4,148.06 101.9,148.41 77.8,148.62 53.0,148.70Z" fill="#e377c2"/>
<path d="M53.0,151.00 77.8,150.96 101.9,150.84 125.4,150.64 148.5,150.39 171.2,150.09 193.5,149.75 215.7,149.38 237.6,148.99 259.5,148.59 281.4,148.20 303.3,147.81 325.5,147.44 347.8,147.10 370.5,146.80 393.6,146.55 417.1,146.35 441.2,146.23 466.0,146.19 466.0,145.19 441.2,145.23 417.1,145.35 393.6,145.55 370.5,145.80 347.8,146.10 325.5,146.44 303.3,146.81 281.4,147.20 259.5,147.59 237.6,147.99 215.7,148.38 193.5,148.75 171.2,149.09 148.5,149.39 125.4,149.64 101.9,149.84 77.8,149.96 53.0,150.00Z" fill="#9467bd"/>
<path d="M53.0,152.70 77.8,152.64 101.9,152.47 125.4,152.19 148.5,151.84 171.2,151.41 193.6,150.93 215.7,150.40 237.6,149.85 259.5,149.29 281.4,148.72 303.4,148.17 325.5,147.64 347.8,147.16 370.5,146.73 393.6,146.38 417.1,146.11 441.2,145.93 466.0,145.87 466.0,144.87 441.2,144.93 417.1,145.11 393.6,145.38 370.5,145.73 347.8,146.16 325.4,146.64 303.3,147.17 281.4,147.72 259.5,148.29 237.6,148.85 215.6,149.41 193.5,149.93 171.2,150.41 148.5,150.84 125.4,151.19 101.9,151.47 77.8,151.64 53.0,151.70Z" fill="#8c564b"/>
<path d="M53.0,154.20 77.8,154.15 101.9,154.02 125.4,153.81 148.5,153.54 171.2,153.22 193.6,152.85 215.7,152.45 237.6,152.03 259.5,151.60 281.4,151.17 303.3,150.75 325.5,150.35 347.8,149.98 370.5,149.66 393.6,149.39 417.1,149.18 441.2,149.05 466.0,149.00 466.0,148.00 441.2,148.05 417.1,148.18 393.6,148.39 370.5,148.66 347.8,148.98 325.4,149.35 303.3,149.75 281.4,150.17 259.5,150.60 237.6,151.03 215.7,151.45 193.5,151.85 171.2,152.22 148.5,152.54 125.4,152.81 101.9,153.02 77.8,153.15 53.0,153.20Z" fill="#9467bd"/>
<path d="M53.0,83.25 77.8,83.27 101.9,83.31 125.4,83.38 148.5,83.46 171.2,83.56 193.5,83.68 215.7,83.81 237.6,83.94 259.5,84.08 281.4,84.21 303.3,84.35 325.5,84.47 347.8,84.59 370.5,84.69 393.6,84.78 417.1,84.84 441.2,84.89 466.0,84.90 466.0,83.90 441.2,83.89 417.1,83.84 393.6,83.78 370.5,83.69 347.8,83.59 325.5,83.47 303.3,83.35 281.4,83.21 259.5,83.08 237.6,82.94 215.7,82.81 193.5,82.68 171.2,82.56 148.5,82.46 125.4,82.38 101.9,82.31 77.8,82.27 53.0,82.25Z" fill="#e377c2"/>
<path d="M53.0,83.06 77.8,83.10 101.9,83.20 125.4,83.37 148.5,83.59 171.2,83.86 193.5,84.16 215.7,84.48 237.6,84.83 259.5,85.18 281.4,85.53 303.3,85.87 325.5,86.20 347.8,86.50 370.5,86.76 393.6,86.99 417.1,87.15 441.2,87.26 466.0,87.30 466.0,86.30 441.2,86.26 417.1,86.15 393.6,85.99 370.5,85.76 347.8,85.50 325.5,85.20 303.3,84.87 281.4,84.53 259.5,84.18 237.6,83.83 215.7,83.48 193.5,83.16 171.2,82.86 148.5,82.59 125.4,82.37 101.9,82.20 77.8,82.10 53.0,82.06Z" fill="#e377c2"/>
<path d="M53.0,101.60 77.8,101.56 101.9,101.47 125.4,101.33 148.5,101.14 171.2,100.92 193.5,100.66 215.7,100.39 237.6,100.10 259.5,99.80 281.4,99.50 303.3,99.21 325.5,98.93 347.8,98.68 370.5,98.45 393.6,98.27 417.1,98.12 441.2,98.03 466.0,98.00 466.0,97.00 441.2,97.03 417.1,97.12 393.6,97.27 370.5,97.45 347.8,97.68 325.5,97.93 303.3,98.21 281.4,98.50 259.5,98.80 237.6,99.10 215.7,99.39 193.5,99.66 171.2,99.92 148.5,100.14 125.4,100.33 101.9,100.47 77.8,100.56 53.0,100.60Z" fill="#7f7f7f"/>
<path d="M53.0,106.58 77.8,106.57 101.9,106.53 125.4,106.46 148.5,106.38 171.2,106.28 193.5,106.17 215.7,106.05 237.6,105.92 259.5,105.79 281.4,105.66 303.3,105.53 325.5,105.41 347.8,105.30 370.5,105.20 393.6,105.12 417.1,105.05 441.2,105.01 466.0,105.00 466.0,104.00 441.2,104.01 417.1,104.05 393.6,104.12 370.5,104.20 347.8,104.30 325.5,104.41 303.3,104.53 281.4,104.66 259.5,104.79 237.6,104.92 215.7,105.05 193.5,105.17 171.2,105.28 148.5,105.38 125.4,105.46 101.9,105.53 77.8,105.57 53.0,105.58Z" fill="#2ca02c"/>
<path d="M53.0,117.97 77.8,117.93 101.9,117.83 125.4,117.67 148.5,117.46 171.2,117.20 193.5,116.91 215.7,116.60 237.6,116.27 259.5,115.93 281.4,115.60 303.3,115.27 325.5,114.95 347.8,114.67 370.5,114.41 393.6,114.20 417.1,114.04 441.2,113.94 466.0,113.90 466.0,112.90 441.2,112.94 417.1,113.04 393.6,113.20 370.5,113.41 347.8,113.67 325.5,113.96 303.3,114.27 281.4,114.60 259.5,114.93 237.6,115.27 215.7,115.60 193.5,115.91 171.2,116.20 148.5,116.46 125.4,116.67 101.9,116.83 77.8,116.93 53.0,116.97Z" fill="#e377c2"/>
<path d="M53.0,114.47 77.8,114.50 101.9,114.60 125.4,114.77 148.5,114.98 171.2,115.23 193.5,115.51 215.7,115.82 237.6,116.15 259.5,116.48 281.4,116.82 303.3,117.14 325.5,117.45 347.8,117.74 370.5,117.99 393.6,118.20 417.1,118.36 441.2,118.46 466.0,118.50 466.0,117.50 441.2,117.46 417.1,117.36 393.6,117.20 370.5,116.99 347.8,116.74 325.5,116.45 303.3,116.14 281.4,115.82 259.5,115.48 237.6,115.15 215.7,114.82 193.5,114.51 171.2,114.23 148.5,113.98 125.4,113.77 101.9,113.61 77.8,113.50 53.0,113.47Z" fill="#2ca02c"/>
<path d="M53.0,126.08 77.8,126.09 101.9,126.13 125.4,126.18 148.5,126.26 171.2,126.35 193.5,126.45 215.7,126.56 237.6,126.67 259.5,126.79 281.4,126.91 303.3,127.02 325.5,127.13 347.8,127.23 370.5,127.32 393.6,127.39 417.1,127.45 441.2,127.49 466.0,127.50 466.0,126.50 441.2,126.49 417.1,126.45 393.6,126.39 370.5,126.32 347.8,126.23 325.5,126.13 303.3,126.02 281.4,125.91 259.5,125.79 237.6,125.67 215.7,125.56 193.5,125.45 171.2,125.35 148.5,125.26 125.4,125.18 101.9,125.13 77.8,125.09 53.0,125.08Z" fill="#d62728"/>
<path d="M53.0,131.22 77.8,131.27 101.9,131.39 125.4,131.59 148.5,131.85 171.2,132.16 193.5,132.51 215.7,132.89 237.6,133.30 259.5,133.71 281.4,134.12 303.3,134.53 325.5,134.91 347.8,135.26 370.5,135.57 393.6,135.83 417.1,136.03 441.2,136.16 466.0,136.20 466.0,135.20 441.2,135.16 417.1,135.03 393.6,134.83 370.5,134.57 347.8,134.26 325.5,133.91 303.3,133.53 281.4,133.12 259.5,132.71 237.6,132.30 215.7,131.89 193.5,131.51 171.2,131.16 148.5,130.85 125.4,130.59 101.9,130.39 77.8,130.27 53.0,130.22Z" fill="#2ca02c"/>
<path d="M53.0,145.20 77.8,145.19 101.9,145.16 125.4,145.11 148.5,145.05 171.2,144.97 193.5,144.89 215.7,144.80 237.6,144.70 259.5,144.60 281.4,144.50 303.3,144.40 325.5,144.31 347.8,144.23 370.5,144.15 393.6,144.09 417.1,144.04 441.2,144.01 466.0,144.00 466.0,143.00 441.2,143.01 417.1,143.04 393.6,143.09 370.5,143.15 347.8,143.23 325.5,143.31 303.3,143.40 281.4,143.50 259.5,143.60 237.6,143.70 215.7,143.80 193.5,143.89 171.2,143.97 148.5,144.05 125.4,144.11 101.9,144.16 77.8,144.19 53.0,144.20Z" fill="#9467bd"/>
<path d="M53.0,85.82 83.4,85.80 112.7,85.75 141.0,85.68 168.2,85.58 194.4,85.47 219.7,85.34 244.1,85.20 267.6,85.05 290.3,84.89 312.3,84.74 333.6,84.59 354.1,84.45 374.1,84.32 393.5,84.21 412.3,84.11 430.6,84.04 448.5,83.99 466.0,83.97 466.0,82.97 448.5,82.99 430.6,83.04 412.3,83.11 393.5,83.21 374.1,83.32 354.1,83.45 333.6,83.59 312.3,83.74 290.3,83.89 267.6,84.05 244.0,84.20 219.7,84.34 194.4,84.47 168.2,84.58 141.0,84.68 112.7,84.75 83.4,84.80 53.0,84.82Z" fill="#d62728"/>
<path d="M53.0,86.91 77.8,86.89 101.9,86.83 125.4,86.73 148.5,86.61 171.2,86.47 193.5,86.30 215.7,86.12 237.6,85.93 259.5,85.73 281.4,85.54 303.3,85.35 325.5,85.17 347.8,85.00 370.5,84.86 393.6,84.74 417.1,84.64 441.2,84.58 466.0,84.56 466.0,83.56 441.2,83.58 417.1,83.64 393.6,83.74 370.5,83.86 347.8,84.00 325.5,84.17 303.3,84.35 281.4,84.54 259.5,84.73 237.6,84.93 215.7,85.12 193.5,85.30 171.2,85.47 148.5,85.61 125.4,85.73 101.9,85.83 77.8,85.89 53.0,85.91Z" fill="#ff7f0e"/>
<path d="M53.0,89.41 77.8,89.43 101.9,89.50 125.4,89.60 148.5,89.73 171.2,89.89 193.5,90.07 215.7,90.26 237.6,90.47 259.5,90.68 281.4,90.89 303.3,91.10 325.5,91.29 347.8,91.47 370.5,91.63 393.6,91.76 417.1,91.86 441.2,91.93 466.0,91.95 466.0,90.95 441.2,90.93 417.1,90.86 393.6,90.76 370.5,90.63 347.8,90.47 325.5,90.29 303.3,90.10 281.4,89.89 259.5,89.68 237.6,89.47 215.7,89.26 193.5,89.07 171.2,88.89 148.5,88.73 125.4,88.60 101.9,88.50 77.8,88.43 53.0,88.41Z" fill="#d62728"/>
<path d="M53.0,90.75 83.4,90.75 112.7,90.76 141.0,90.76 168.2,90.77 194.4,90.78 219.7,90.80 244.1,90.81 267.6,90.82 290.3,90.84 312.3,90.85 333.6,90.87 354.1,90.88 374.1,90.89 393.5,90.90 412.3,90.91 430.6,90.92 448.5,90.93 466.0,90.93 466.0,89.93 448.5,89.93 430.6,89.92 412.3,89.91 393.5,89.90 374.1,89.89 354.1,89.88 333.6,89.87 312.3,89.85 290.3,89.84 267.6,89.82 244.1,89.81 219.7,89.80 194.4,89.78 168.2,89.77 141.0,89.76 112.7,89.76 83.4,89.75 53.0,89.75Z" fill="#e377c2"/>
<path d="M53.0,92.29 77.8,92.30 101.9,92.32 125.4,92.36 148.5,92.41 171.2,92.46 193.5,92.53 215.7,92.60 237.6,92.67 259.5,92.75 281.4,92.83 303.3,92.90 325.5,92.97 347.8,93.04 370.5,93.09 393.6,93.14 417.1,93.18 441.2,93.20 466.0,93.21 466.0,92.21 441.2,92.20 417.1,92.18 393.6,92.14 370.5,92.09 347.8,92.04 325.5,91.97 303.3,91.90 281.4,91.83 259.5,91.75 237.6,91.67 215.7,91.60 193.5,91.53 171.2,91.46 148.5,91.41 125.4,91.36 101.9,91.32 77.8,91.30 53.0,91.29Z" fill="#2ca02c"/>
<path d="M53.0,94.39 83.4,94.37 112.7,94.32 141.0,94.22 168.2,94.10 194.4,93.96 219.7,93.79 244.1,93.61 267.6,93.42 290.3,93.23 312.3,93.04 333.6,92.85 354.1,92.67 374.1,92.51 393.5,92.36 412.3,92.24 430.6,92.15 448.5,92.09 466.0,92.07 466.0,91.07 448.5,91.09 430.6,91.15 412.3,91.24 393.5,91.36 374.1,91.51 354.1,91.67 333.5,91.85 312.3,92.04 290.3,92.23 267.6,92.42 244.0,92.61 219.7,92.79 194.4,92.96 168.2,93.10 141.0,93.22 112.7,93.32 83.4,93.37 53.0,93.39Z" fill="#7f7f7f"/>
<path d="M53.0,94.90 77.8,94.89 101.9,94.87 125.4,94.84 148.5,94.81 171.2,94.76 193.5,94.71 215.7,94.66 237.6,94.60 259.5,94.55 281.4,94.49 303.3,94.43 325.5,94.38 347.8,94.33 370.5,94.28 393.6,94.25 417.1,94.22 441.2,94.20 466.0,94.19 466.0,93.19 441.2,93.20 417.1,93.22 393.6,93.25 370.5,93.28 347.8,93.33 325.5,93.38 303.3,93.43 281.4,93.49 259.5,93.55 237.6,93.60 215.7,93.66 193.5,93.71 171.2,93.76 148.5,93.81 125.4,93.84 101.9,93.87 77.8,93.89 53.0,93.90Z" fill="#9467bd"/>
<path d="M53.0,97.02 77.8,97.03 101.9,97.06 125.4,97.10 148.5,97.16 171.2,97.23 193.5,97.30 215.7,97.39 237.6,97.48 259.5,97.57 281.4,97.66 303.3,97.75 325.5,97.83 347.8,97.91 370.5,97.97 393.6,98.03 417.1,98.07 441.2,98.10 466.0,98.11 466.0,97.11 441.2,97.10 417.1,97.07 393.6,97.03 370.5,96.97 347.8,96.91 325.5,96.83 303.3,96.75 281.4,96.66 259.5,96.57 237.6,96.48 215.7,96.39 193.5,96.30 171.2,96.23 148.5,96.16 125.4,96.10 101.9,96.06 77.8,96.03 53.0,96.02Z" fill="#ff7f0e"/>
<path d="M53.0,99.77 77.8,99.77 101.9,99.74 125.4,99.71 148.5,99.66 171.2,99.61 193.5,99.55 215.7,99.48 237.6,99.41 259.5,99.34 281.4,99.27 303.3,99.20 325.5,99.13 347.8,99.07 370.5,99.01 393.6,98.97 417.1,98.93 441.2,98.91 466.0,98.90 466.0,97.90 441.2,97.91 417.1,97.93 393.6,97.97 370.5,98.01 347.8,98.07 325.5,98.13 303.3,98.20 281.4,98.27 259.5,98.34 237.6,98.41 215.7,98.48 193.5,98.55 171.2,98.61 148.5,98.66 125.4,98.71 101.9,98.74 77.8,98.77 53.0,98.77Z" fill="#9467bd"/>
<path d="M53.0,100.37 77.8,100.35 101.9,100.31 125.4,100.24 148.5,100.15 171.2,100.05 193.5,99.93 215.7,99.80 237.6,99.66 259.5,99.52 281.4,99.38 303.3,99.24 325.5,99.12 347.8,99.00 370.5,98.89 393.6,98.80 417.1,98.74 441.2,98.69 466.0,98.68 466.0,97.68 441.2,97.69 417.1,97.74 393.6,97.80 370.5,97.89 347.8,98.00 325.5,98.12 303.3,98.25 281.4,98.38 259.5,98.52 237.6,98.66 215.7,98.80 193.5,98.93 171.2,99.05 148.5,99.15 125.4,99.24 101.9,99.31 77.8,99.35 53.0,99.37Z" fill="#d62728"/>
<path d="M53.0,101.94 77.8,101.94 101.9,101.94 125.4,101.93 148.5,101.92 171.2,101.91 193.5,101.89 215.7,101.88 237.6,101.86 259.5,101.85 281.4,101.83 303.3,101.82 325.5,101.80 347.8,101.79 370.5,101.78 393.6,101.77 417.1,101.76 441.2,101.75 466.0,101.75 466.0,100.75 441.2,100.75 417.1,100.76 393.6,100.77 370.5,100.78 347.8,100.79 325.5,100.80 303.3,100.82 281.4,100.83 259.5,100.85 237.6,100.86 215.7,100.88 193.5,100.89 171.2,100.91 148.5,100.92 125.4,100.93 101.9,100.94 77.8,100.94 53.0,100.94Z" fill="#d62728"/>
<path d="M53.0,103.98 77.8,104.01 101.9,104.09 125.4,104.22 148.5,104.40 171.2,104.61 193.5,104.84 215.7,105.10 237.6,105.37 259.5,105.65 281.4,105.93 303.3,106.20 325.5,106.46 347.8,106.69 370.5,106.90 393.6,107.08 417.1,107.21 441.2,107.29 466.0,107.32 466.0,106.32 441.2,106.29 417.1,106.21 393.6,106.08 370.5,105.90 347.8,105.69 325.5,105.46 303.3,105.20 281.4,104.93 259.5,104.65 237.6,104.37 215.7,104.10 193.5,103.84 171.2,103.61 148.5,103.40 125.4,103.22 101.9,103.09 77.8,103.01 53.0,102.98Z" fill="#8c564b"/>
<path d="M53.0,105.68 77.8,105.66 101.9,105.60 125.4,105.50 148.5,105.37 171.2,105.22 193.5,105.05 215.7,104.86 237.6,104.67 259.5,104.46 281.4,104.26 303.3,104.07 325.5,103.88 347.8,103.71 370.5,103.55 393.6,103.43 417.1,103.33 441.2,103.27 466.0,103.25 466.0,102.25 441.2,102.27 417.1,102.33 393.6,102.43 370.5,102.55 347.8,102.71 325.5,102.88 303.3,103.07 281.4,103.26 259.5,103.46 237.6,103.67 215.7,103.86 193.5,104.05 171.2,104.22 148.5,104.37 125.4,104.50 101.9,104.60 77.8,104.66 53.0,104.68Z" fill="#e377c2"/>
<path d="M53.0,108.21 77.8,108.23 101.9,108.26 125.4,108.32 148.5,108.39 171.2,108.47 193.5,108.57 215.7,108.68 237.6,108.79 259.5,108.90 281.4,109.02 303.3,109.13 325.5,109.23 347.8,109.33 370.5,109.42 393.6,109.49 417.1,109.54 441.2,109.58 466.0,109.59 466.0,108.59 441.2,108.58 417.1,108.54 393.6,108.49 370.5,108.42 347.8,108.33 325.5,108.23 303.3,108.13 281.4,108.02 259.5,107.90 237.6,107.79 215.7,107.68 193.5,107.57 171.2,107.47 148.5,107.39 125.4,107.32 101.9,107.26 77.8,107.23 53.0,107.21Z" fill="#8c564b"/>
<path d="M53.0,109.29 77.8,109.28 101.9,109.26 125.4,109.22 148.5,109.18 171.2,109.13 193.5,109.07 215.7,109.01 237.6,108.94 259.5,108.88 281.4,108.81 303.3,108.74 325.5,108.68 347.8,108.62 370.5,108.57 393.6,108.53 417.1,108.49 441.2,108.47 466.0,108.47 466.0,107.47 441.2,107.47 417.1,107.49 393.6,107.53 370.5,107.57 347.8,107.62 325.5,107.68 303.3,107.74 281.4,107.81 259.5,107.88 237.6,107.94 215.7,108.01 193.5,108.07 171.2,108.13 148.5,108.18 125.4,108.22 101.9,108.26 77.8,108.28 53.0,108.29Z" fill="#9467bd"/>
<path d="M53.0,111.29 77.8,111.26 101.9,111.18 125.4,111.05 148.5,110.87 171.2,110.67 193.5,110.44 215.7,110.18 237.6,109.92 259.5,109.64 281.4,109.37 303.3,109.10 325.5,108.85 347.8,108.61 370.5,108.41 393.6,108.24 417.1,108.11 441.2,108.02 466.0,107.99 466.0,106.99 441.2,107.02 417.1,107.11 393.6,107.24 370.5,107.41 347.8,107.61 325.5,107.85 303.3,108.10 281.4,108.37 259.5,108.64 237.6,108.92 215.7,109.18 193.5,109.44 171.2,109.67 148.5,109.87 125.4,110.05 101.9,110.18 77.8,110.26 53.0,110.29Z" fill="#9467bd"/>
<path d="M53.0,112.25 83.4,112.24 112.7,112.24 141.0,112.23 168.2,112.21 194.4,112.19 219.7,112.17 244.1,112.15 267.6,112.13 290.3,112.10 312.3,112.08 333.6,112.05 354.1,112.03 374.1,112.01 393.5,111.99 412.3,111.98 430.6,111.97 448.5,111.96 466.0,111.96 466.0,110.96 448.5,110.96 430.6,110.97 412.3,110.98 393.5,110.99 374.1,111.01 354.1,111.03 333.6,111.05 312.3,111.08 290.3,111.10 267.6,111.13 244.1,111.15 219.7,111.17 194.4,111.19 168.2,111.21 141.0,111.23 112.7,111.24 83.4,111.24 53.0,111.25Z" fill="#2ca02c"/>
<path d="M53.0,118.91 83.4,118.92 112.7,118.95 141.0,118.99 168.2,119.05 194.4,119.12 219.7,119.19 244.1,119.28 267.6,119.37 290.3,119.46 312.3,119.55 333.6,119.64 354.1,119.72 374.1,119.80 393.5,119.87 412.3,119.93 430.6,119.97 448.5,120.00 466.0,120.01 466.0,119.01 448.5,119.00 430.6,118.97 412.3,118.93 393.5,118.87 374.1,118.80 354.1,118.72 333.6,118.64 312.3,118.55 290.3,118.46 267.6,118.37 244.1,118.28 219.7,118.19 194.4,118.12 168.2,118.05 141.0,117.99 112.7,117.95 83.4,117.92 53.0,117.91Z" fill="#2ca02c"/>
<path d="M53.0,119.24 77.8,119.25 101.9,119.29 125.4,119.34 148.5,119.42 171.2,119.51 193.5,119.62 215.7,119.73 237.6,119.85 259.5,119.97 281.4,120.09 303.3,120.21 325.5,120.32 347.8,120.43 370.5,120.52 393.6,120.60 417.1,120.65 441.2,120.69 466.0,120.70 466.0,119.70 441.2,119.69 417.1,119.65 393.6,119.60 370.5,119.52 347.8,119.43 325.5,119.32 303.3,119.21 281.4,119.09 259.5,118.97 237.6,118.85 215.7,118.73 193.5,118.62 171.2,118.51 148.5,118.42 125.4,118.34 101.9,118.29 77.8,118.25 53.0,118.24Z" fill="#7f7f7f"/>
<path d="M53.0,122.37 77.8,122.34 101.9,122.24 125.4,122.08 148.5,121.88 171.2,121.63 193.5,121.35 215.7,121.05 237.6,120.73 259.5,120.41 281.4,120.08 303.3,119.76 325.5,119.46 347.8,119.18 370.5,118.94 393.6,118.73 417.1,118.58 441.2,118.48 466.0,118.44 466.0,117.44 441.2,117.48 417.1,117.58 393.6,117.73 370.5,117.94 347.8,118.18 325.5,118.46 303.3,118.76 281.4,119.08 259.5,119.41 237.6,119.73 215.7,120.05 193.5,120.35 171.2,120.63 148.5,120.88 125.4,121.08 101.9,121.24 77.8,121.34 53.0,121.37Z" fill="#8c564b"/>
<path d="M53.0,123.35 77.8,123.33 101.9,123.26 125.4,123.16 148.5,123.03 171.2,122.87 193.5,122.68 215.7,122.48 237.6,122.28 259.5,122.06 281.4,121.85 303.3,121.64 325.5,121.44 347.8,121.26 370.5,121.10 393.6,120.96 417.1,120.86 441.2,120.79 466.0,120.77 466.0,119.77 441.2,119.79 417.1,119.86 393.6,119.96 370.5,120.10 347.8,120.26 325.5,120.44 303.3,120.64 281.4,120.85 259.5,121.06 237.6,121.28 215.7,121.48 193.5,121.68 171.2,121.87 148.5,122.03 125.4,122.16 101.9,122.26 77.8,122.33 53.0,122.35Z" fill="#9467bd"/>
<path d="M53.0,124.41 77.8,124.38 101.9,124.28 125.4,124.14 148.5,123.95 171.2,123.73 193.5,123.47 215.7,123.20 237.6,122.91 259.5,122.61 281.4,122.31 303.3,122.02 325.5,121.74 347.8,121.49 370.5,121.26 393.6,121.07 417.1,120.93 441.2,120.84 466.0,120.81 466.0,119.81 441.2,119.84 417.1,119.93 393.6,120.07 370.5,120.26 347.8,120.49 325.5,120.74 303.3,121.02 281.4,121.31 259.5,121.61 237.6,121.91 215.7,122.20 193.5,122.47 171.2,122.73 148.5,122.95 125.4,123.14 101.9,123.28 77.8,123.38 53.0,123.41Z" fill="#e377c2"/>
<path d="M53.0,126.64 83.4,126.62 112.7,126.58 141.0,126.50 168.2,126.41 194.4,126.30 219.7,126.18 244.1,126.04 267.6,125.90 290.3,125.75 312.3,125.61 333.6,125.46 354.1,125.33 374.1,125.20 393.5,125.09 412.3,125.00 430.6,124.93 448.5,124.89 466.0,124.87 466.0,123.87 448.5,123.89 430.6,123.93 412.3,124.00 393.5,124.09 374.1,124.20 354.1,124.33 333.6,124.46 312.3,124.61 290.3,124.75 267.6,124.90 244.0,125.04 219.7,125.18 194.4,125.30 168.2,125.41 141.0,125.50 112.7,125.58 83.4,125.62 53.0,125.64Z" fill="#2ca02c"/>
<path d="M53.0,128.94 77.8,128.93 101.9,128.88 125.4,128.81 148.5,128.72 171.2,128.61 193.5,128.48 215.7,128.35 237.6,128.20 259.5,128.06 281.4,127.91 303.3,127.76 325.5,127.63 347.8,127.50 370.5,127.39 393.6,127.30 417.1,127.23 441.2,127.18 466.0,127.17 466.0,126.17 441.2,126.18 417.1,126.23 393.6,126.30 370.5,126.39 347.8,126.50 325.5,126.63 303.3,126.76 281.4,126.91 259.5,127.06 237.6,127.20 215.7,127.35 193.5,127.48 171.2,127.61 148.5,127.72 125.4,127.81 101.9,127.88 77.8,127.93 53.0,127.94Z" fill="#8c564b"/>
<path d="M53.0,130.66 77.8,130.66 101.9,130.64 125.4,130.60 148.5,130.56 171.2,130.51 193.5,130.45 215.7,130.39 237.6,130.32 259.5,130.26 281.4,130.19 303.3,130.12 325.5,130.06 347.8,130.00 370.5,129.95 393.6,129.91 417.1,129.88 441.2,129.86 466.0,129.85 466.0,128.85 441.2,128.86 417.1,128.88 393.6,128.91 370.5,128.95 347.8,129.00 325.5,129.06 303.3,129.12 281.4,129.19 259.5,129.26 237.6,129.32 215.7,129.39 193.5,129.45 171.2,129.51 148.5,129.56 125.4,129.60 101.9,129.64 77.8,129.66 53.0,129.66Z" fill="#9467bd"/>
<path d="M53.0,131.34 77.8,131.31 101.9,131.25 125.4,131.16 148.5,131.04 171.2,130.89 193.5,130.72 215.7,130.54 237.6,130.35 259.5,130.16 281.4,129.96 303.3,129.77 325.5,129.59 347.8,129.42 370.5,129.28 393.6,129.15 417.1,129.06 441.2,129.00 466.0,128.98 466.0,127.98 441.2,128.00 417.1,128.06 393.6,128.15 370.5,128.28 347.8,128.42 325.5,128.59 303.3,128.77 281.4,128.96 259.5,129.16 237.6,129.35 215.7,129.54 193.5,129.72 171.2,129.89 148.5,130.04 125.4,130.16 101.9,130.25 77.8,130.31 53.0,130.34Z" fill="#8c564b"/>
<path d="M53.0,133.08 77.8,133.06 101.9,133.00 125.4,132.91 148.5,132.79 171.2,132.64 193.5,132.48 215.7,132.31 237.6,132.12 259.5,131.93 281.4,131.74 303.3,131.55 325.5,131.38 347.8,131.22 370.5,131.07 393.6,130.95 417.1,130.86 441.2,130.80 466.0,130.78 466.0,129.78 441.2,129.80 417.1,129.86 393.6,129.95 370.5,130.07 347.8,130.22 325.5,130.38 303.3,130.55 281.4,130.74 259.5,130.93 237.6,131.12 215.7,131.31 193.5,131.48 171.2,131.64 148.5,131.79 125.4,131.91 101.9,132.00 77.8,132.06 53.0,132.08Z" fill="#8c564b"/>
<path d="M53.0,135.30 77.8,135.29 101.9,135.25 125.4,135.19 148.5,135.10 171.2,135.00 193.5,134.89 215.7,134.77 237.6,134.64 259.5,134.50 281.4,134.37 303.3,134.24 325.5,134.12 347.8,134.00 370.5,133.90 393.6,133.82 417.1,133.76 441.2,133.72 466.0,133.70 466.0,132.70 441.2,132.72 417.1,132.76 393.6,132.82 370.5,132.90 347.8,133.00 325.5,133.12 303.3,133.24 281.4,133.37 259.5,133.50 237.6,133.64 215.7,133.77 193.5,133.89 171.2,134.00 148.5,134.10 125.4,134.19 101.9,134.25 77.8,134.29 53.0,134.30Z" fill="#e377c2"/>
<path d="M53.0,137.63 77.8,137.67 101.9,137.77 125.4,137.92 148.5,138.13 171.2,138.38 193.5,138.66 215.7,138.96 237.6,139.28 259.5,139.61 281.4,139.94 303.3,140.26 325.5,140.56 347.8,140.84 370.5,141.09 393.6,141.29 417.1,141.45 441.2,141.55 466.0,141.59 466.0,140.59 441.2,140.55 417.1,140.45 393.6,140.29 370.5,140.09 347.8,139.84 325.5,139.56 303.3,139.26 281.4,138.94 259.5,138.61 237.6,138.28 215.7,137.96 193.5,137.66 171.2,137.38 148.5,137.13 125.4,136.92 101.9,136.77 77.8,136.67 53.0,136.63Z" fill="#d62728"/>
<path d="M53.0,138.67 77.8,138.64 101.9,138.56 125.4,138.44 148.5,138.27 171.2,138.07 193.5,137.85 215.7,137.61 237.6,137.35 259.5,137.09 281.4,136.82 303.3,136.57 325.5,136.32 347.8,136.10 370.5,135.90 393.6,135.73 417.1,135.61 441.2,135.53 466.0,135.50 466.0,134.50 441.2,134.53 417.1,134.61 393.6,134.73 370.5,134.90 347.8,135.10 325.5,135.32 303.3,135.57 281.4,135.82 259.5,136.09 237.6,136.35 215.7,136.61 193.5,136.85 171.2,137.07 148.5,137.27 125.4,137.44 101.9,137.56 77.8,137.64 53.0,137.67Z" fill="#8c564b"/>
<path d="M53.0,139.75 77.8,139.74 101.9,139.69 125.4,139.62 148.5,139.53 171.2,139.42 193.5,139.30 215.7,139.16 237.6,139.02 259.5,138.87 281.4,138.72 303.3,138.58 325.5,138.44 347.8,138.32 370.5,138.21 393.6,138.12 417.1,138.05 441.2,138.00 466.0,137.98 466.0,136.98 441.2,137.00 417.1,137.05 393.6,137.12 370.5,137.21 347.8,137.32 325.5,137.44 303.3,137.58 281.4,137.72 259.5,137.87 237.6,138.02 215.7,138.16 193.5,138.30 171.2,138.42 148.5,138.53 125.4,138.62 101.9,138.69 77.8,138.74 53.0,138.75Z" fill="#7f7f7f"/>
<path d="M53.0,142.45 83.4,142.43 112.7,142.39 141.0,142.31 168.2,142.22 194.4,142.10 219.7,141.98 244.1,141.84 267.6,141.69 290.3,141.54 312.3,141.39 333.6,141.24 354.1,141.10 374.1,140.97 393.5,140.86 412.3,140.76 430.6,140.69 448.5,140.64 466.0,140.63 466.0,139.63 448.5,139.64 430.6,139.69 412.3,139.76 393.5,139.86 374.1,139.97 354.1,140.10 333.6,140.24 312.3,140.39 290.3,140.54 267.6,140.69 244.0,140.84 219.7,140.98 194.4,141.10 168.2,141.22 141.0,141.31 112.7,141.39 83.4,141.43 53.0,141.45Z" fill="#9467bd"/>
<path d="M53.0,144.08 77.8,144.02 101.9,143.86 125.4,143.61 148.5,143.28 171.2,142.89 193.6,142.44 215.7,141.95 237.6,141.44 259.5,140.92 281.4,140.39 303.4,139.88 325.5,139.39 347.8,138.95 370.5,138.55 393.6,138.22 417.1,137.97 441.2,137.81 466.0,137.75 466.0,136.75 441.2,136.81 417.1,136.97 393.6,137.22 370.5,137.55 347.8,137.95 325.4,138.39 303.3,138.88 281.4,139.39 259.5,139.92 237.6,140.44 215.6,140.95 193.5,141.44 171.2,141.89 148.5,142.28 125.4,142.61 101.9,142.86 77.8,143.02 53.0,143.08Z" fill="#9467bd"/>
<path d="M53.0,146.40 77.8,146.33 101.9,146.13 125.4,145.82 148.5,145.42 171.2,144.93 193.6,144.39 215.7,143.79 237.6,143.16 259.5,142.52 281.4,141.88 303.4,141.25 325.5,140.65 347.8,140.10 370.5,139.62 393.6,139.22 417.1,138.91 441.2,138.71 466.0,138.64 466.0,137.64 441.2,137.71 417.1,137.91 393.6,138.22 370.5,138.62 347.8,139.11 325.4,139.65 303.3,140.25 281.4,140.88 259.5,141.52 237.6,142.16 215.6,142.79 193.5,143.39 171.2,143.93 148.5,144.42 125.4,144.82 101.9,145.13 77.8,145.33 53.0,145.40Z" fill="#9467bd"/>
<path d="M53.0,86.50 83.4,86.45 112.7,86.30 141.0,86.06 168.2,85.75 194.4,85.38 219.7,84.96 244.1,84.51 267.6,84.03 290.3,83.54 312.3,83.04 333.6,82.56 354.1,82.11 374.1,81.69 393.5,81.32 412.3,81.01 430.6,80.78 448.5,80.63 466.0,80.57 466.0,79.57 448.5,79.63 430.6,79.78 412.3,80.01 393.5,80.32 374.1,80.69 354.1,81.11 333.5,81.56 312.3,82.04 290.3,82.54 267.6,83.03 244.0,83.51 219.7,83.96 194.4,84.38 168.2,84.75 140.9,85.06 112.7,85.30 83.4,85.45 53.0,85.50Z" fill="#8c564b"/>
<path d="M53.0,86.50 83.4,86.50 112.7,86.50 141.0,86.50 168.2,86.50 194.4,86.51 219.7,86.51 244.1,86.51 267.6,86.52 290.3,86.52 312.3,86.52 333.6,86.53 354.1,86.53 374.1,86.53 393.5,86.53 412.3,86.53 430.6,86.54 448.5,86.54 466.0,86.54 466.0,85.54 448.5,85.54 430.6,85.54 412.3,85.53 393.5,85.53 374.1,85.53 354.1,85.53 333.6,85.53 312.3,85.52 290.3,85.52 267.6,85.52 244.1,85.51 219.7,85.51 194.4,85.51 168.2,85.50 141.0,85.50 112.7,85.50 83.4,85.50 53.0,85.50Z" fill="#1f77b4"/>
<path d="M53.0,86.50 83.4,86.55 112.7,86.70 140.9,86.94 168.2,87.24 194.4,87.61 219.7,88.03 244.0,88.48 267.6,88.96 290.3,89.45 312.3,89.94 333.5,90.42 354.1,90.87 374.1,91.29 393.5,91.66 412.3,91.97 430.6,92.20 448.5,92.35 466.0,92.40 466.0,91.40 448.5,91.35 430.6,91.20 412.3,90.97 393.5,90.66 374.1,90.29 354.1,89.87 333.6,89.42 312.3,88.94 290.3,88.45 267.6,87.96 244.1,87.48 219.7,87.03 194.4,86.61 168.2,86.24 141.0,85.94 112.7,85.70 83.4,85.55 53.0,85.50Z" fill="#7f7f7f"/>
<path d="M53.0,93.70 83.4,93.70 112.7,93.69 141.0,93.67 168.2,93.65 194.4,93.63 219.7,93.61 244.1,93.58 267.6,93.55 290.3,93.52 312.3,93.49 333.6,93.46 354.1,93.43 374.1,93.41 393.5,93.38 412.3,93.36 430.6,93.35 448.5,93.34 466.0,93.34 466.0,92.34 448.5,92.34 430.6,92.35 412.3,92.36 393.5,92.38 374.1,92.41 354.1,92.43 333.6,92.46 312.3,92.49 290.3,92.52 267.6,92.55 244.1,92.58 219.7,92.61 194.4,92.63 168.2,92.65 141.0,92.67 112.7,92.69 83.4,92.70 53.0,92.70Z" fill="#9467bd"/>
<path d="M53.0,100.64 83.4,100.63 112.7,100.60 141.0,100.56 168.2,100.51 194.4,100.45 219.7,100.37 244.1,100.29 267.6,100.21 290.3,100.13 312.3,100.04 333.6,99.96 354.1,99.88 374.1,99.81 393.5,99.75 412.3,99.69 430.6,99.65 448.5,99.63 466.0,99.62 466.0,98.62 448.5,98.63 430.6,98.65 412.3,98.69 393.5,98.75 374.1,98.81 354.1,98.88 333.6,98.96 312.3,99.04 290.3,99.13 267.6,99.21 244.1,99.29 219.7,99.37 194.4,99.45 168.2,99.51 141.0,99.56 112.7,99.60 83.4,99.63 53.0,99.64Z" fill="#7f7f7f"/>
<path d="M53.0,110.81 83.4,110.74 112.7,110.56 141.0,110.27 168.2,109.90 194.4,109.45 219.7,108.94 244.1,108.38 267.6,107.80 290.3,107.20 312.3,106.60 333.6,106.02 354.2,105.46 374.1,104.95 393.5,104.50 412.3,104.13 430.6,103.84 448.5,103.66 466.0,103.59 466.0,102.59 448.5,102.66 430.6,102.84 412.3,103.13 393.5,103.50 374.1,103.95 354.1,104.46 333.5,105.02 312.3,105.60 290.3,106.20 267.6,106.80 244.0,107.38 219.7,107.94 194.4,108.45 168.2,108.90 140.9,109.27 112.7,109.56 83.4,109.74 53.0,109.81Z" fill="#9467bd"/>
<path d="M53.0,108.82 83.4,108.81 112.7,108.78 141.0,108.75 168.2,108.70 194.4,108.65 219.7,108.58 244.1,108.51 267.6,108.44 290.3,108.37 312.3,108.29 333.6,108.22 354.1,108.15 374.1,108.09 393.5,108.03 412.3,107.98 430.6,107.95 448.5,107.93 466.0,107.92 466.0,106.92 448.5,106.93 430.6,106.95 412.3,106.98 393.5,107.03 374.1,107.09 354.1,107.15 333.6,107.22 312.3,107.29 290.3,107.37 267.6,107.44 244.1,107.51 219.7,107.58 194.4,107.65 168.2,107.70 141.0,107.75 112.7,107.78 83.4,107.81 53.0,107.82Z" fill="#9467bd"/>
<path d="M53.0,120.87 83.4,120.79 112.7,120.56 141.0,120.19 168.2,119.71 194.4,119.14 219.7,118.48 244.1,117.78 267.6,117.03 290.3,116.26 312.3,115.50 333.6,114.75 354.2,114.04 374.1,113.39 393.5,112.82 412.3,112.34 430.6,111.97 448.5,111.74 466.0,111.66 466.0,110.66 448.5,110.74 430.6,110.97 412.3,111.34 393.5,111.82 374.1,112.39 354.1,113.05 333.5,113.75 312.3,114.50 290.3,115.26 267.6,116.03 244.0,116.78 219.6,117.48 194.4,118.14 168.1,118.71 140.9,119.19 112.7,119.56 83.4,119.79 53.0,119.87Z" fill="#9467bd"/>
<path d="M53.0,127.29 83.4,127.22 112.7,127.02 141.0,126.72 168.2,126.32 194.4,125.85 219.7,125.31 244.1,124.72 267.6,124.11 290.3,123.48 312.3,122.84 333.6,122.23 354.2,121.64 374.1,121.10 393.5,120.63 412.3,120.23 430.6,119.93 448.5,119.73 466.0,119.67 466.0,118.67 448.5,118.73 430.6,118.93 412.3,119.23 393.5,119.63 374.1,120.10 354.1,120.64 333.5,121.23 312.3,121.84 290.3,122.48 267.6,123.11 244.0,123.73 219.7,124.31 194.4,124.85 168.1,125.32 140.9,125.72 112.7,126.02 83.4,126.22 53.0,126.29Z" fill="#9467bd"/>
<path d="M53.0,129.75 83.4,129.69 112.7,129.54 141.0,129.30 168.2,128.98 194.4,128.60 219.7,128.17 244.1,127.70 267.6,127.21 290.3,126.70 312.3,126.20 333.6,125.70 354.1,125.23 374.1,124.80 393.5,124.42 412.3,124.11 430.6,123.86 448.5,123.71 466.0,123.65 466.0,122.65 448.5,122.71 430.6,122.86 412.3,123.11 393.5,123.42 374.1,123.80 354.1,124.23 333.5,124.70 312.3,125.20 290.3,125.70 267.6,126.21 244.0,126.70 219.7,127.17 194.4,127.60 168.2,127.98 140.9,128.30 112.7,128.54 83.4,128.69 53.0,128.75Z" fill="#7f7f7f"/>
<path d="M53.0,129.72 83.4,129.71 112.7,129.68 141.0,129.62 168.2,129.55 194.4,129.47 219.7,129.38 244.1,129.28 267.6,129.17 290.3,129.06 312.3,128.95 333.6,128.84 354.1,128.74 374.1,128.65 393.5,128.56 412.3,128.50 430.6,128.44 448.5,128.41 466.0,128.40 466.0,127.40 448.5,127.41 430.6,127.44 412.3,127.50 393.5,127.56 374.1,127.65 354.1,127.74 333.6,127.84 312.3,127.95 290.3,128.06 267.6,128.17 244.0,128.28 219.7,128.38 194.4,128.47 168.2,128.55 141.0,128.62 112.7,128.68 83.4,128.71 53.0,128.72Z" fill="#8c564b"/>
<path d="M53.0,133.39 83.4,133.37 112.7,133.32 141.0,133.24 168.2,133.13 194.4,133.01 219.7,132.87 244.1,132.71 267.6,132.55 290.3,132.39 312.3,132.22 333.6,132.06 354.1,131.90 374.1,131.76 393.5,131.64 412.3,131.53 430.6,131.46 448.5,131.40 466.0,131.39 466.0,130.39 448.5,130.40 430.6,130.46 412.3,130.53 393.5,130.64 374.1,130.76 354.1,130.90 333.5,131.06 312.3,131.22 290.3,131.39 267.6,131.55 244.0,131.71 219.7,131.87 194.4,132.01 168.2,132.13 141.0,132.24 112.7,132.32 83.4,132.37 53.0,132.39Z" fill="#8c564b"/>
<path d="M53.0,130.63 83.4,130.66 112.7,130.75 141.0,130.89 168.2,131.07 194.4,131.29 219.7,131.54 244.0,131.81 267.6,132.10 290.3,132.39 312.3,132.68 333.5,132.97 354.1,133.24 374.1,133.49 393.5,133.70 412.3,133.89 430.6,134.03 448.5,134.12 466.0,134.15 466.0,133.15 448.5,133.12 430.6,133.03 412.3,132.89 393.5,132.71 374.1,132.49 354.1,132.24 333.6,131.97 312.3,131.68 290.3,131.39 267.6,131.10 244.1,130.81 219.7,130.54 194.4,130.29 168.2,130.07 141.0,129.89 112.7,129.75 83.4,129.66 53.0,129.63Z" fill="#e377c2"/>
<path d="M53.0,139.63 83.4,139.62 112.7,139.59 141.0,139.55 168.2,139.49 194.4,139.42 219.7,139.34 244.1,139.25 267.6,139.16 290.3,139.06 312.3,138.97 333.6,138.87 354.1,138.79 374.1,138.71 393.5,138.63 412.3,138.58 430.6,138.53 448.5,138.50 466.0,138.49 466.0,137.49 448.5,137.50 430.6,137.53 412.3,137.58 393.5,137.63 374.1,137.71 354.1,137.79 333.6,137.87 312.3,137.97 290.3,138.06 267.6,138.16 244.1,138.25 219.7,138.34 194.4,138.42 168.2,138.49 141.0,138.55 112.7,138.59 83.4,138.62 53.0,138.63Z" fill="#9467bd"/>
<path d="M53.0,150.50 83.4,150.43 112.7,150.24 141.0,149.95 168.2,149.56 194.4,149.09 219.7,148.56 244.1,147.99 267.6,147.38 290.3,146.76 312.3,146.14 333.6,145.54 354.2,144.97 374.1,144.44 393.5,143.97 412.3,143.58 430.6,143.29 448.5,143.10 466.0,143.03 466.0,142.03 448.5,142.10 430.6,142.29 412.3,142.58 393.5,142.97 374.1,143.44 354.1,143.97 333.5,144.54 312.3,145.14 290.3,145.76 267.6,146.38 244.0,146.99 219.7,147.56 194.4,148.09 168.2,148.56 140.9,148.95 112.7,149.24 83.4,149.43 53.0,149.50Z" fill="#7f7f7f"/>
<path d="M53.0,165.40 77.8,165.42 101.9,165.49 125.4,165.60 148.5,165.75 171.2,165.92 193.5,166.12 215.7,166.33 237.6,166.55 259.5,166.78 281.4,167.01 303.3,167.24 325.5,167.45 347.8,167.64 370.5,167.82 393.6,167.96 417.1,168.07 441.2,168.14 466.0,168.17 466.0,167.17 441.2,167.14 417.1,167.07 393.6,166.96 370.5,166.82 347.8,166.64 325.5,166.45 303.3,166.24 281.4,166.01 259.5,165.78 237.6,165.55 215.7,165.33 193.5,165.12 171.2,164.92 148.5,164.75 125.4,164.60 101.9,164.49 77.8,164.42 53.0,164.40Z" fill="#2ca02c"/>
<path d="M53.0,166.70 77.8,166.71 101.9,166.73 125.4,166.76 148.5,166.80 171.2,166.86 193.5,166.91 215.7,166.98 237.6,167.04 259.5,167.11 281.4,167.18 303.3,167.25 325.5,167.31 347.8,167.37 370.5,167.42 393.6,167.46 417.1,167.49 441.2,167.52 466.0,167.52 466.0,166.52 441.2,166.52 417.1,166.49 393.6,166.46 370.5,166.42 347.8,166.37 325.5,166.31 303.3,166.25 281.4,166.18 259.5,166.11 237.6,166.04 215.7,165.98 193.5,165.91 171.2,165.86 148.5,165.80 125.4,165.76 101.9,165.73 77.8,165.71 53.0,165.70Z" fill="#8c564b"/>
<path d="M53.0,168.20 77.8,168.21 101.9,168.23 125.4,168.27 148.5,168.32 171.2,168.38 193.5,168.44 215.7,168.52 237.6,168.59 259.5,168.67 281.4,168.75 303.3,168.83 325.5,168.90 347.8,168.96 370.5,169.02 393.6,169.07 417.1,169.11 441.2,169.13 466.0,169.14 466.0,168.14 441.2,168.13 417.1,168.11 393.6,168.07 370.5,168.02 347.8,167.96 325.5,167.90 303.3,167.83 281.4,167.75 259.5,167.67 237.6,167.59 215.7,167.52 193.5,167.44 171.2,167.38 148.5,167.32 125.4,167.27 101.9,167.23 77.8,167.21 53.0,167.20Z" fill="#9467bd"/>
<path d="M53.0,169.40 77.8,169.42 101.9,169.48 125.4,169.56 148.5,169.68 171.2,169.82 193.5,169.98 215.7,170.15 237.6,170.33 259.5,170.51 281.4,170.69 303.3,170.87 325.5,171.04 347.8,171.20 370.5,171.34 393.6,171.46 417.1,171.54 441.2,171.60 466.0,171.62 466.0,170.62 441.2,170.60 417.1,170.54 393.6,170.46 370.5,170.34 347.8,170.20 325.5,170.04 303.3,169.87 281.4,169.69 259.5,169.51 237.6,169.33 215.7,169.15 193.5,168.98 171.2,168.82 148.5,168.68 125.4,168.56 101.9,168.48 77.8,168.42 53.0,168.40Z" fill="#e377c2"/>
<path d="M53.0,171.00 77.8,171.00 101.9,171.00 125.4,171.00 148.5,171.00 171.2,171.00 193.5,171.01 215.7,171.01 237.6,171.01 259.5,171.01 281.4,171.01 303.3,171.01 325.5,171.01 347.8,171.02 370.5,171.02 393.6,171.02 417.1,171.02 441.2,171.02 466.0,171.02 466.0,170.02 441.2,170.02 417.1,170.02 393.6,170.02 370.5,170.02 347.8,170.02 325.5,170.01 303.3,170.01 281.4,170.01 259.5,170.01 237.6,170.01 215.7,170.01 193.5,170.01 171.2,170.00 148.5,170.00 125.4,170.00 101.9,170.00 77.8,170.00 53.0,170.00Z" fill="#9467bd"/>
<path d="M53.0,172.50 77.8,172.49 101.9,172.46 125.4,172.42 148.5,172.36 171.2,172.29 193.5,172.21 215.7,172.13 237.6,172.04 259.5,171.95 281.4,171.85 303.3,171.77 325.5,171.68 347.8,171.60 370.5,171.53 393.6,171.48 417.1,171.43 441.2,171.40 466.0,171.39 466.0,170.39 441.2,170.40 417.1,170.43 393.6,170.48 370.5,170.53 347.8,170.60 325.5,170.68 303.3,170.77 281.4,170.85 259.5,170.95 237.6,171.04 215.7,171.13 193.5,171.21 171.2,171.29 148.5,171.36 125.4,171.42 101.9,171.46 77.8,171.49 53.0,171.50Z" fill="#e377c2"/>
<path d="M53.0,174.10 77.8,174.08 101.9,174.03 125.4,173.95 148.5,173.84 171.2,173.71 193.5,173.56 215.7,173.41 237.6,173.24 259.5,173.07 281.4,172.90 303.3,172.73 325.5,172.57 347.8,172.42 370.5,172.29 393.6,172.19 417.1,172.10 441.2,172.05 466.0,172.03 466.0,171.03 441.2,171.05 417.1,171.10 393.6,171.19 370.5,171.29 347.8,171.42 325.5,171.57 303.3,171.73 281.4,171.90 259.5,172.07 237.6,172.24 215.7,172.41 193.5,172.56 171.2,172.71 148.5,172.84 125.4,172.95 101.9,173.03 77.8,173.08 53.0,173.10Z" fill="#d62728"/>
<path d="M53.0,175.60 77.8,175.58 101.9,175.54 125.4,175.48 148.5,175.39 171.2,175.28 193.5,175.16 215.7,175.03 237.6,174.90 259.5,174.76 281.4,174.62 303.3,174.48 325.5,174.35 347.8,174.23 370.5,174.13 393.6,174.04 417.1,173.97 441.2,173.93 466.0,173.91 466.0,172.91 441.2,172.93 417.1,172.97 393.6,173.04 370.5,173.13 347.8,173.23 325.5,173.35 303.3,173.48 281.4,173.62 259.5,173.76 237.6,173.90 215.7,174.03 193.5,174.16 171.2,174.28 148.5,174.39 125.4,174.48 101.9,174.54 77.8,174.58 53.0,174.60Z" fill="#9467bd"/>
<path d="M53.0,176.80 77.8,176.77 101.9,176.69 125.4,176.57 148.5,176.41 171.2,176.22 193.5,176.01 215.7,175.77 237.6,175.52 259.5,175.27 281.4,175.01 303.3,174.76 325.5,174.53 347.8,174.31 370.5,174.12 393.6,173.96 417.1,173.84 441.2,173.76 466.0,173.73 466.0,172.73 441.2,172.76 417.1,172.84 393.6,172.96 370.5,173.12 347.8,173.31 325.5,173.53 303.3,173.76 281.4,174.01 259.5,174.27 237.6,174.52 215.7,174.77 193.5,175.01 171.2,175.22 148.5,175.41 125.4,175.57 101.9,175.69 77.8,175.77 53.0,175.80Z" fill="#ff7f0e"/>
<path d="M53.0,178.40 77.8,178.39 101.9,178.35 125.4,178.29 148.5,178.21 171.2,178.12 193.5,178.02 215.7,177.90 237.6,177.78 259.5,177.66 281.4,177.54 303.3,177.42 325.5,177.31 347.8,177.20 370.5,177.11 393.6,177.03 417.1,176.97 441.2,176.94 466.0,176.92 466.0,175.92 441.2,175.94 417.1,175.97 393.6,176.03 370.5,176.11 347.8,176.20 325.5,176.31 303.3,176.42 281.4,176.54 259.5,176.66 237.6,176.78 215.7,176.90 193.5,177.02 171.2,177.12 148.5,177.21 125.4,177.29 101.9,177.35 77.8,177.39 53.0,177.40Z" fill="#9467bd"/>
<path d="M53.0,180.00 70.5,179.98 88.4,179.92 106.7,179.83 125.5,179.71 144.9,179.56 164.9,179.40 185.5,179.22 206.7,179.04 228.7,178.85 251.4,178.65 275.0,178.47 299.3,178.29 324.6,178.13 350.8,177.98 378.0,177.86 406.3,177.77 435.6,177.71 466.0,177.69 466.0,176.69 435.6,176.71 406.3,176.77 378.0,176.86 350.8,176.98 324.6,177.13 299.3,177.29 274.9,177.47 251.4,177.65 228.7,177.85 206.7,178.04 185.4,178.22 164.9,178.40 144.9,178.56 125.5,178.71 106.7,178.83 88.4,178.92 70.5,178.98 53.0,179.00Z" fill="#e377c2"/>
<path d="M53.0,181.50 70.5,181.47 88.4,181.38 106.7,181.24 125.5,181.06 144.9,180.84 164.9,180.60 185.5,180.33 206.7,180.05 228.7,179.76 251.4,179.47 275.0,179.19 299.3,178.92 324.6,178.68 350.8,178.46 378.0,178.28 406.3,178.14 435.6,178.05 466.0,178.02 466.0,177.02 435.6,177.05 406.3,177.14 378.0,177.28 350.8,177.46 324.6,177.68 299.3,177.92 274.9,178.19 251.4,178.47 228.7,178.76 206.7,179.05 185.4,179.33 164.9,179.60 144.9,179.84 125.5,180.06 106.7,180.24 88.4,180.38 70.5,180.47 53.0,180.50Z" fill="#8c564b"/>
<path d="M53.0,183.30 70.5,183.26 88.4,183.15 106.7,182.97 125.5,182.73 144.9,182.45 164.9,182.13 185.5,181.78 206.7,181.42 228.7,181.04 251.4,180.67 275.0,180.30 299.3,179.96 324.6,179.64 350.8,179.36 378.1,179.12 406.3,178.94 435.6,178.83 466.0,178.79 466.0,177.79 435.6,177.83 406.3,177.94 378.0,178.12 350.8,178.36 324.6,178.64 299.3,178.96 274.9,179.30 251.4,179.67 228.7,180.04 206.7,180.42 185.4,180.78 164.9,181.13 144.9,181.45 125.5,181.73 106.7,181.97 88.4,182.15 70.5,182.26 53.0,182.30Z" fill="#e377c2"/>
<path d="M53.0,184.60 70.5,184.62 88.4,184.69 106.7,184.80 125.5,184.94 144.9,185.11 164.9,185.30 185.4,185.51 206.7,185.73 228.7,185.95 251.4,186.17 274.9,186.39 299.3,186.60 324.6,186.79 350.8,186.96 378.0,187.10 406.3,187.21 435.6,187.28 466.0,187.30 466.0,186.30 435.6,186.28 406.3,186.21 378.0,186.10 350.8,185.96 324.6,185.79 299.3,185.60 275.0,185.39 251.4,185.17 228.7,184.95 206.7,184.73 185.5,184.51 164.9,184.30 144.9,184.11 125.5,183.94 106.7,183.80 88.4,183.69 70.5,183.62 53.0,183.60Z" fill="#e377c2"/>
<path d="M53.0,186.20 70.5,186.22 88.4,186.27 106.7,186.35 125.5,186.45 144.9,186.58 164.9,186.72 185.4,186.87 206.7,187.03 228.7,187.20 251.4,187.37 274.9,187.53 299.3,187.68 324.6,187.82 350.8,187.95 378.0,188.05 406.3,188.13 435.6,188.18 466.0,188.20 466.0,187.20 435.6,187.18 406.3,187.13 378.0,187.05 350.8,186.95 324.6,186.82 299.3,186.68 275.0,186.53 251.4,186.37 228.7,186.20 206.7,186.03 185.5,185.87 164.9,185.72 144.9,185.58 125.5,185.45 106.7,185.35 88.4,185.27 70.5,185.22 53.0,185.20Z" fill="#7f7f7f"/>
<path d="M53.0,187.40 70.5,187.42 88.4,187.47 106.7,187.54 125.5,187.65 144.9,187.77 164.9,187.91 185.4,188.06 206.7,188.21 228.7,188.38 251.4,188.54 274.9,188.70 299.3,188.85 324.6,188.99 350.8,189.11 378.0,189.21 406.3,189.29 435.6,189.34 466.0,189.35 466.0,188.35 435.6,188.34 406.3,188.29 378.0,188.21 350.8,188.11 324.6,187.99 299.3,187.85 275.0,187.70 251.4,187.54 228.7,187.38 206.7,187.21 185.5,187.06 164.9,186.91 144.9,186.77 125.5,186.65 106.7,186.54 88.4,186.47 70.5,186.42 53.0,186.40Z" fill="#e377c2"/>
<path d="M53.0,189.10 70.5,189.11 88.4,189.14 106.7,189.19 125.5,189.26 144.9,189.33 164.9,189.42 185.4,189.51 206.7,189.61 228.7,189.72 251.4,189.82 274.9,189.92 299.3,190.01 324.6,190.10 350.8,190.18 378.0,190.24 406.3,190.29 435.6,190.32 466.0,190.33 466.0,189.33 435.6,189.32 406.3,189.29 378.0,189.24 350.8,189.18 324.6,189.10 299.3,189.01 275.0,188.92 251.4,188.82 228.7,188.72 206.7,188.61 185.4,188.51 164.9,188.42 144.9,188.33 125.5,188.26 106.7,188.19 88.4,188.14 70.5,188.11 53.0,188.10Z" fill="#9467bd"/>
<path d="M53.0,190.70 77.8,190.72 101.9,190.78 125.4,190.87 148.5,190.99 171.2,191.14 193.5,191.30 215.7,191.48 237.6,191.67 259.5,191.87 281.4,192.06 303.3,192.25 325.5,192.43 347.8,192.59 370.5,192.74 393.6,192.86 417.1,192.95 441.2,193.01 466.0,193.03 466.0,192.03 441.2,192.01 417.1,191.95 393.6,191.86 370.5,191.74 347.8,191.59 325.5,191.43 303.3,191.25 281.4,191.06 259.5,190.87 237.6,190.67 215.7,190.48 193.5,190.30 171.2,190.14 148.5,189.99 125.4,189.87 101.9,189.78 77.8,189.72 53.0,189.70Z" fill="#9467bd"/>
<path d="M53.0,192.40 77.8,192.43 101.9,192.50 125.4,192.61 148.5,192.76 171.2,192.94 193.5,193.14 215.7,193.35 237.6,193.58 259.5,193.82 281.4,194.05 303.3,194.28 325.5,194.50 347.8,194.70 370.5,194.88 393.6,195.03 417.1,195.14 441.2,195.21 466.0,195.24 466.0,194.24 441.2,194.21 417.1,194.14 393.6,194.03 370.5,193.88 347.8,193.70 325.5,193.50 303.3,193.28 281.4,193.05 259.5,192.82 237.6,192.58 215.7,192.35 193.5,192.14 171.2,191.94 148.5,191.76 125.4,191.61 101.9,191.50 77.8,191.43 53.0,191.40Z" fill="#2ca02c"/>
<path d="M53.0,193.60 77.8,193.61 101.9,193.62 125.4,193.65 148.5,193.68 171.2,193.73 193.5,193.77 215.7,193.83 237.6,193.88 259.5,193.94 281.4,193.99 303.3,194.05 325.5,194.10 347.8,194.15 370.5,194.19 393.6,194.22 417.1,194.25 441.2,194.27 466.0,194.27 466.0,193.27 441.2,193.27 417.1,193.25 393.6,193.22 370.5,193.19 347.8,193.15 325.5,193.10 303.3,193.05 281.4,192.99 259.5,192.94 237.6,192.88 215.7,192.83 193.5,192.77 171.2,192.73 148.5,192.68 125.4,192.65 101.9,192.62 77.8,192.61 53.0,192.60Z" fill="#2ca02c"/>
<path d="M53.0,195.10 77.8,195.11 101.9,195.13 125.4,195.16 148.5,195.21 171.2,195.26 193.5,195.32 215.7,195.39 237.6,195.46 259.5,195.53 281.4,195.60 303.3,195.67 325.5,195.74 347.8,195.80 370.5,195.85 393.6,195.90 417.1,195.93 441.2,195.95 466.0,195.96 466.0,194.96 441.2,194.95 417.1,194.93 393.6,194.90 370.5,194.85 347.8,194.80 325.5,194.74 303.3,194.67 281.4,194.60 259.5,194.53 237.6,194.46 215.7,194.39 193.5,194.32 171.2,194.26 148.5,194.21 125.4,194.16 101.9,194.13 77.8,194.11 53.0,194.10Z" fill="#d62728"/>
<path d="M53.0,196.50 77.8,196.50 101.9,196.51 125.4,196.53 148.5,196.55 171.2,196.57 193.5,196.60 215.7,196.63 237.6,196.66 259.5,196.70 281.4,196.73 303.3,196.76 325.5,196.79 347.8,196.82 370.5,196.84 393.6,196.86 417.1,196.88 441.2,196.89 466.0,196.89 466.0,195.89 441.2,195.89 417.1,195.88 393.6,195.86 370.5,195.84 347.8,195.82 325.5,195.79 303.3,195.76 281.4,195.73 259.5,195.70 237.6,195.66 215.7,195.63 193.5,195.60 171.2,195.57 148.5,195.55 125.4,195.53 101.9,195.51 77.8,195.50 53.0,195.50Z" fill="#d62728"/>
<path d="M53.0,198.50 77.8,198.51 101.9,198.54 125.4,198.59 148.5,198.66 171.2,198.73 193.5,198.82 215.7,198.92 237.6,199.02 259.5,199.12 281.4,199.22 303.3,199.32 325.5,199.42 347.8,199.51 370.5,199.58 393.6,199.65 417.1,199.70 441.2,199.73 466.0,199.74 466.0,198.74 441.2,198.73 417.1,198.70 393.6,198.65 370.5,198.58 347.8,198.51 325.5,198.42 303.3,198.32 281.4,198.22 259.5,198.12 237.6,198.02 215.7,197.92 193.5,197.82 171.2,197.73 148.5,197.66 125.4,197.59 101.9,197.54 77.8,197.51 53.0,197.50Z" fill="#1f77b4"/>
<path d="M53.0,200.00 77.8,200.00 101.9,200.01 125.4,200.02 148.5,200.04 171.2,200.05 193.5,200.07 215.7,200.10 237.6,200.12 259.5,200.14 281.4,200.17 303.3,200.19 325.5,200.21 347.8,200.23 370.5,200.25 393.6,200.27 417.1,200.28 441.2,200.29 466.0,200.29 466.0,199.29 441.2,199.29 417.1,199.28 393.6,199.27 370.5,199.25 347.8,199.23 325.5,199.21 303.3,199.19 281.4,199.17 259.5,199.14 237.6,199.12 215.7,199.10 193.5,199.07 171.2,199.05 148.5,199.04 125.4,199.02 101.9,199.01 77.8,199.00 53.0,199.00Z" fill="#7f7f7f"/>
<path d="M53.0,202.20 77.8,202.20 101.9,202.20 125.4,202.20 148.5,202.20 171.2,202.19 193.5,202.19 215.7,202.19 237.6,202.19 259.5,202.18 281.4,202.18 303.3,202.18 325.5,202.18 347.8,202.17 370.5,202.17 393.6,202.17 417.1,202.17 441.2,202.17 466.0,202.17 466.0,201.17 441.2,201.17 417.1,201.17 393.6,201.17 370.5,201.17 347.8,201.17 325.5,201.18 303.3,201.18 281.4,201.18 259.5,201.18 237.6,201.19 215.7,201.19 193.5,201.19 171.2,201.19 148.5,201.20 125.4,201.20 101.9,201.20 77.8,201.20 53.0,201.20Z" fill="#d62728"/>
<path d="M53.0,204.00 77.8,204.00 101.9,204.01 125.4,204.03 148.5,204.05 171.2,204.07 193.5,204.10 215.7,204.12 237.6,204.15 259.5,204.19 281.4,204.22 303.3,204.25 325.5,204.27 347.8,204.30 370.5,204.32 393.6,204.34 417.1,204.36 441.2,204.37 466.0,204.37 466.0,203.37 441.2,203.37 417.1,203.36 393.6,203.34 370.5,203.32 347.8,203.30 325.5,203.27 303.3,203.25 281.4,203.22 259.5,203.19 237.6,203.15 215.7,203.12 193.5,203.10 171.2,203.07 148.5,203.05 125.4,203.03 101.9,203.01 77.8,203.00 53.0,203.00Z" fill="#d62728"/>
<path d="M53.0,205.50 77.8,205.49 101.9,205.45 125.4,205.39 148.5,205.32 171.2,205.23 193.5,205.13 215.7,205.02 237.6,204.90 259.5,204.78 281.4,204.66 303.3,204.55 325.5,204.44 347.8,204.34 370.5,204.25 393.6,204.17 417.1,204.11 441.2,204.08 466.0,204.06 466.0,203.06 441.2,203.08 417.1,203.11 393.6,203.17 370.5,203.25 347.8,203.34 325.5,203.44 303.3,203.55 281.4,203.66 259.5,203.78 237.6,203.90 215.7,204.02 193.5,204.13 171.2,204.23 148.5,204.32 125.4,204.39 101.9,204.45 77.8,204.49 53.0,204.50Z" fill="#8c564b"/>
<path d="M53.0,206.80 77.8,206.79 101.9,206.76 125.4,206.71 148.5,206.65 171.2,206.58 193.5,206.50 215.7,206.41 237.6,206.32 259.5,206.22 281.4,206.13 303.3,206.03 325.5,205.94 347.8,205.86 370.5,205.79 393.6,205.73 417.1,205.68 441.2,205.65 466.0,205.64 466.0,204.64 441.2,204.65 417.1,204.68 393.6,204.73 370.5,204.79 347.8,204.86 325.5,204.94 303.3,205.03 281.4,205.13 259.5,205.22 237.6,205.32 215.7,205.41 193.5,205.50 171.2,205.58 148.5,205.65 125.4,205.71 101.9,205.76 77.8,205.79 53.0,205.80Z" fill="#9467bd"/>
<path d="M53.0,167.10 77.8,167.11 101.9,167.13 125.4,167.18 148.5,167.23 171.2,167.30 193.5,167.37 215.7,167.45 237.6,167.53 259.5,167.62 281.4,167.71 303.3,167.79 325.5,167.87 347.8,167.94 370.5,168.01 393.6,168.06 417.1,168.11 441.2,168.13 466.0,168.14 466.0,167.14 441.2,167.13 417.1,167.11 393.6,167.06 370.5,167.01 347.8,166.94 325.5,166.87 303.3,166.79 281.4,166.71 259.5,166.62 237.6,166.53 215.7,166.45 193.5,166.37 171.2,166.30 148.5,166.23 125.4,166.18 101.9,166.13 77.8,166.11 53.0,166.10Z" fill="#8c564b"/>
<path d="M53.0,168.35 77.8,168.34 101.9,168.30 125.4,168.25 148.5,168.18 171.2,168.10 193.5,168.00 215.7,167.90 237.6,167.79 259.5,167.68 281.4,167.57 303.3,167.46 325.5,167.36 347.8,167.26 370.5,167.18 393.6,167.11 417.1,167.05 441.2,167.02 466.0,167.01 466.0,166.01 441.2,166.02 417.1,166.05 393.6,166.11 370.5,166.18 347.8,166.26 325.5,166.36 303.3,166.46 281.4,166.57 259.5,166.68 237.6,166.79 215.7,166.90 193.5,167.00 171.2,167.10 148.5,167.18 125.4,167.25 101.9,167.30 77.8,167.34 53.0,167.35Z" fill="#7f7f7f"/>
<path d="M53.0,172.31 77.8,172.30 101.9,172.27 125.4,172.22 148.5,172.16 171.2,172.08 193.5,171.99 215.7,171.90 237.6,171.80 259.5,171.70 281.4,171.59 303.3,171.49 325.5,171.40 347.8,171.31 370.5,171.24 393.6,171.17 417.1,171.12 441.2,171.09 466.0,171.08 466.0,170.08 441.2,170.09 417.1,170.12 393.6,170.17 370.5,170.24 347.8,170.31 325.5,170.40 303.3,170.49 281.4,170.59 259.5,170.70 237.6,170.80 215.7,170.90 193.5,170.99 171.2,171.08 148.5,171.16 125.4,171.22 101.9,171.27 77.8,171.30 53.0,171.31Z" fill="#7f7f7f"/>
<path d="M53.0,174.33 77.8,174.29 101.9,174.17 125.4,173.98 148.5,173.74 171.2,173.44 193.5,173.11 215.7,172.75 237.6,172.37 259.5,171.98 281.4,171.59 303.3,171.21 325.5,170.85 347.8,170.51 370.5,170.22 393.6,169.98 417.1,169.79 441.2,169.67 466.0,169.63 466.0,168.63 441.2,168.67 417.1,168.79 393.6,168.98 370.5,169.22 347.8,169.51 325.5,169.85 303.3,170.21 281.4,170.59 259.5,170.98 237.6,171.37 215.7,171.75 193.5,172.11 171.2,172.44 148.5,172.74 125.4,172.98 101.9,173.17 77.8,173.29 53.0,173.33Z" fill="#e377c2"/>
<path d="M53.0,176.46 77.8,176.44 101.9,176.39 125.4,176.31 148.5,176.21 171.2,176.09 193.5,175.95 215.7,175.79 237.6,175.63 259.5,175.47 281.4,175.30 303.3,175.14 325.5,174.99 347.8,174.85 370.5,174.72 393.6,174.62 417.1,174.54 441.2,174.49 466.0,174.47 466.0,173.47 441.2,173.49 417.1,173.54 393.6,173.62 370.5,173.72 347.8,173.85 325.5,173.99 303.3,174.14 281.4,174.30 259.5,174.47 237.6,174.63 215.7,174.79 193.5,174.95 171.2,175.09 148.5,175.21 125.4,175.31 101.9,175.39 77.8,175.44 53.0,175.46Z" fill="#7f7f7f"/>
<path d="M53.0,177.69 77.8,177.67 101.9,177.60 125.4,177.50 148.5,177.37 171.2,177.21 193.5,177.03 215.7,176.83 237.6,176.62 259.5,176.41 281.4,176.20 303.3,175.99 325.5,175.79 347.8,175.61 370.5,175.45 393.6,175.32 417.1,175.22 441.2,175.15 466.0,175.13 466.0,174.13 441.2,174.15 417.1,174.22 393.6,174.32 370.5,174.45 347.8,174.61 325.5,174.79 303.3,174.99 281.4,175.20 259.5,175.41 237.6,175.62 215.7,175.83 193.5,176.03 171.2,176.21 148.5,176.37 125.4,176.50 101.9,176.60 77.8,176.67 53.0,176.69Z" fill="#8c564b"/>
<path d="M53.0,181.22 70.5,181.18 88.4,181.09 106.7,180.94 125.5,180.75 144.9,180.52 164.9,180.27 185.5,179.98 206.7,179.69 228.7,179.38 251.4,179.08 275.0,178.78 299.3,178.50 324.6,178.24 350.8,178.01 378.0,177.82 406.3,177.68 435.6,177.58 466.0,177.55 466.0,176.55 435.6,176.58 406.3,176.68 378.0,176.82 350.8,177.01 324.6,177.24 299.3,177.50 274.9,177.78 251.4,178.08 228.7,178.38 206.7,178.69 185.4,178.98 164.9,179.27 144.9,179.52 125.5,179.75 106.7,179.94 88.4,180.09 70.5,180.18 53.0,180.22Z" fill="#8c564b"/>
<path d="M53.0,183.44 70.5,183.41 88.4,183.32 106.7,183.19 125.5,183.02 144.9,182.81 164.9,182.57 185.5,182.32 206.7,182.05 228.7,181.77 251.4,181.49 275.0,181.22 299.3,180.97 324.6,180.73 350.8,180.52 378.0,180.35 406.3,180.21 435.6,180.13 466.0,180.10 466.0,179.10 435.6,179.13 406.3,179.21 378.0,179.35 350.8,179.52 324.6,179.73 299.3,179.97 274.9,180.22 251.4,180.49 228.7,180.77 206.7,181.05 185.4,181.32 164.9,181.57 144.9,181.81 125.5,182.02 106.7,182.19 88.4,182.32 70.5,182.41 53.0,182.44Z" fill="#7f7f7f"/>
<path d="M53.0,185.99 70.5,186.02 88.4,186.12 106.7,186.27 125.5,186.48 144.9,186.72 164.9,186.99 185.4,187.29 206.7,187.60 228.7,187.93 251.4,188.25 274.9,188.56 299.3,188.86 324.6,189.14 350.8,189.38 378.0,189.58 406.3,189.73 435.6,189.83 466.0,189.87 466.0,188.87 435.6,188.83 406.3,188.73 378.0,188.58 350.8,188.38 324.6,188.14 299.3,187.86 275.0,187.56 251.4,187.25 228.7,186.93 206.7,186.60 185.5,186.29 164.9,185.99 144.9,185.72 125.5,185.48 106.7,185.27 88.4,185.12 70.5,185.02 53.0,184.99Z" fill="#9467bd"/>
<path d="M53.0,186.42 70.5,186.43 88.4,186.46 106.7,186.51 125.5,186.58 144.9,186.67 164.9,186.76 185.4,186.86 206.7,186.97 228.7,187.08 251.4,187.19 274.9,187.29 299.3,187.40 324.6,187.49 350.8,187.57 378.0,187.64 406.3,187.69 435.6,187.73 466.0,187.74 466.0,186.74 435.6,186.73 406.3,186.69 378.0,186.64 350.8,186.57 324.6,186.49 299.3,186.40 275.0,186.29 251.4,186.19 228.7,186.08 206.7,185.97 185.4,185.86 164.9,185.76 144.9,185.67 125.5,185.58 106.7,185.51 88.4,185.46 70.5,185.43 53.0,185.42Z" fill="#7f7f7f"/>
<path d="M53.0,188.37 70.5,188.40 88.4,188.48 106.7,188.62 125.5,188.79 144.9,189.01 164.9,189.25 185.4,189.51 206.7,189.78 228.7,190.07 251.4,190.35 274.9,190.62 299.3,190.89 324.6,191.13 350.8,191.34 378.0,191.52 406.3,191.65 435.6,191.74 466.0,191.77 466.0,190.77 435.6,190.74 406.3,190.65 378.0,190.52 350.8,190.34 324.6,190.13 299.3,189.89 275.0,189.62 251.4,189.35 228.7,189.07 206.7,188.78 185.5,188.51 164.9,188.25 144.9,188.01 125.5,187.79 106.7,187.62 88.4,187.48 70.5,187.40 53.0,187.37Z" fill="#d62728"/>
<path d="M53.0,190.93 77.8,190.94 101.9,190.98 125.4,191.03 148.5,191.09 171.2,191.17 193.5,191.26 215.7,191.35 237.6,191.45 259.5,191.56 281.4,191.66 303.3,191.76 325.5,191.86 347.8,191.94 370.5,192.02 393.6,192.09 417.1,192.14 441.2,192.17 466.0,192.18 466.0,191.18 441.2,191.17 417.1,191.14 393.6,191.09 370.5,191.02 347.8,190.94 325.5,190.86 303.3,190.76 281.4,190.66 259.5,190.56 237.6,190.45 215.7,190.35 193.5,190.26 171.2,190.17 148.5,190.09 125.4,190.03 101.9,189.98 77.8,189.94 53.0,189.93Z" fill="#8c564b"/>
<path d="M53.0,193.00 77.8,193.01 101.9,193.03 125.4,193.07 148.5,193.12 171.2,193.19 193.5,193.26 215.7,193.34 237.6,193.42 259.5,193.50 281.4,193.58 303.3,193.67 325.5,193.74 347.8,193.81 370.5,193.88 393.6,193.93 417.1,193.97 441.2,193.99 466.0,194.00 466.0,193.00 441.2,192.99 417.1,192.97 393.6,192.93 370.5,192.88 347.8,192.81 325.5,192.74 303.3,192.67 281.4,192.58 259.5,192.50 237.6,192.42 215.7,192.34 193.5,192.26 171.2,192.19 148.5,192.12 125.4,192.07 101.9,192.03 77.8,192.01 53.0,192.00Z" fill="#2ca02c"/>
<path d="M53.0,195.68 77.8,195.70 101.9,195.73 125.4,195.78 148.5,195.85 171.2,195.92 193.5,196.02 215.7,196.11 237.6,196.22 259.5,196.32 281.4,196.43 303.3,196.53 325.5,196.63 347.8,196.72 370.5,196.80 393.6,196.87 417.1,196.92 441.2,196.95 466.0,196.96 466.0,195.96 441.2,195.95 417.1,195.92 393.6,195.87 370.5,195.80 347.8,195.72 325.5,195.63 303.3,195.53 281.4,195.43 259.5,195.32 237.6,195.22 215.7,195.11 193.5,195.02 171.2,194.92 148.5,194.85 125.4,194.78 101.9,194.73 77.8,194.70 53.0,194.68Z" fill="#8c564b"/>
<path d="M53.0,197.45 77.8,197.47 101.9,197.51 125.4,197.58 148.5,197.66 171.2,197.77 193.5,197.89 215.7,198.02 237.6,198.16 259.5,198.30 281.4,198.44 303.3,198.58 325.5,198.71 347.8,198.83 370.5,198.93 393.6,199.02 417.1,199.09 441.2,199.13 466.0,199.15 466.0,198.15 441.2,198.13 417.1,198.09 393.6,198.02 370.5,197.93 347.8,197.83 325.5,197.71 303.3,197.58 281.4,197.44 259.5,197.30 237.6,197.16 215.7,197.02 193.5,196.89 171.2,196.77 148.5,196.66 125.4,196.58 101.9,196.51 77.8,196.47 53.0,196.45Z" fill="#9467bd"/>
<path d="M53.0,201.29 77.8,201.29 101.9,201.27 125.4,201.24 148.5,201.19 171.2,201.15 193.5,201.09 215.7,201.03 237.6,200.96 259.5,200.90 281.4,200.83 303.3,200.77 325.5,200.71 347.8,200.65 370.5,200.60 393.6,200.56 417.1,200.53 441.2,200.51 466.0,200.50 466.0,199.50 441.2,199.51 417.1,199.53 393.6,199.56 370.5,199.60 347.8,199.65 325.5,199.71 303.3,199.77 281.4,199.83 259.5,199.90 237.6,199.96 215.7,200.03 193.5,200.09 171.2,200.15 148.5,200.19 125.4,200.24 101.9,200.27 77.8,200.29 53.0,200.29Z" fill="#ff7f0e"/>
<path d="M53.0,202.52 77.8,202.51 101.9,202.46 125.4,202.39 148.5,202.30 171.2,202.18 193.5,202.06 215.7,201.92 237.6,201.77 259.5,201.63 281.4,201.48 303.3,201.33 325.5,201.19 347.8,201.07 370.5,200.96 393.6,200.86 417.1,200.79 441.2,200.74 466.0,200.73 466.0,199.73 441.2,199.74 417.1,199.79 393.6,199.86 370.5,199.96 347.8,200.07 325.5,200.19 303.3,200.33 281.4,200.48 259.5,200.63 237.6,200.77 215.7,200.92 193.5,201.06 171.2,201.18 148.5,201.30 125.4,201.39 101.9,201.46 77.8,201.51 53.0,201.52Z" fill="#8c564b"/>
<path d="M53.0,204.31 77.8,204.31 101.9,204.31 125.4,204.30 148.5,204.30 171.2,204.29 193.5,204.28 215.7,204.27 237.6,204.26 259.5,204.25 281.4,204.24 303.3,204.23 325.5,204.23 347.8,204.22 370.5,204.21 393.6,204.20 417.1,204.20 441.2,204.20 466.0,204.20 466.0,203.20 441.2,203.20 417.1,203.20 393.6,203.20 370.5,203.21 347.8,203.22 325.5,203.23 303.3,203.23 281.4,203.24 259.5,203.25 237.6,203.26 215.7,203.27 193.5,203.28 171.2,203.29 148.5,203.30 125.4,203.30 101.9,203.31 77.8,203.31 53.0,203.31Z" fill="#7f7f7f"/>
<path d="M53.0,223.60 77.8,223.65 101.9,223.80 125.4,224.04 148.5,224.34 171.2,224.71 193.5,225.13 215.7,225.58 237.6,226.06 259.5,226.55 281.4,227.04 303.3,227.52 325.4,227.97 347.8,228.39 370.5,228.76 393.6,229.06 417.1,229.30 441.2,229.45 466.0,229.50 466.0,228.50 441.2,228.45 417.1,228.30 393.6,228.06 370.5,227.76 347.8,227.39 325.5,226.97 303.3,226.52 281.4,226.04 259.5,225.55 237.6,225.06 215.7,224.58 193.6,224.13 171.2,223.71 148.5,223.34 125.4,223.04 101.9,222.80 77.8,222.65 53.0,222.60Z" fill="#ff7f0e"/>
<path d="M53.0,224.10 77.8,224.15 101.9,224.31 125.4,224.54 148.5,224.86 171.2,225.23 193.5,225.66 215.7,226.12 237.6,226.60 259.5,227.10 281.4,227.60 303.3,228.08 325.4,228.54 347.8,228.97 370.5,229.34 393.6,229.66 417.1,229.89 441.2,230.05 466.0,230.10 466.0,229.10 441.2,229.05 417.1,228.89 393.6,228.66 370.5,228.34 347.8,227.97 325.5,227.54 303.3,227.08 281.4,226.60 259.5,226.10 237.6,225.60 215.7,225.12 193.6,224.66 171.2,224.23 148.5,223.86 125.4,223.54 101.9,223.31 77.8,223.15 53.0,223.10Z" fill="#2ca02c"/>
<path d="M53.0,224.80 77.8,224.86 101.9,225.02 125.4,225.27 148.5,225.59 171.2,225.99 193.5,226.43 215.6,226.92 237.6,227.43 259.5,227.95 281.4,228.47 303.3,228.98 325.4,229.47 347.8,229.91 370.5,230.30 393.6,230.63 417.1,230.88 441.2,231.04 466.0,231.10 466.0,230.10 441.2,230.04 417.1,229.88 393.6,229.63 370.5,229.31 347.8,228.91 325.5,228.47 303.4,227.98 281.4,227.47 259.5,226.95 237.6,226.43 215.7,225.92 193.6,225.43 171.2,224.99 148.5,224.60 125.4,224.27 101.9,224.02 77.8,223.86 53.0,223.80Z" fill="#2ca02c"/>
<path d="M53.0,226.10 77.8,226.16 101.9,226.34 125.4,226.63 148.5,227.00 171.2,227.44 193.5,227.94 215.6,228.49 237.6,229.06 259.5,229.65 281.4,230.24 303.3,230.81 325.4,231.36 347.8,231.86 370.5,232.30 393.6,232.67 417.1,232.96 441.2,233.14 466.0,233.20 466.0,232.20 441.2,232.14 417.1,231.96 393.6,231.67 370.5,231.30 347.8,230.86 325.5,230.36 303.4,229.81 281.4,229.24 259.5,228.65 237.6,228.06 215.7,227.49 193.6,226.94 171.2,226.44 148.5,226.00 125.4,225.63 101.9,225.34 77.8,225.16 53.0,225.10Z" fill="#d62728"/>
<path d="M53.0,227.30 83.4,227.46 112.7,227.92 140.9,228.63 168.1,229.57 194.4,230.69 219.6,231.97 244.0,233.35 267.6,234.81 290.3,236.30 312.3,237.79 333.5,239.25 354.1,240.63 374.1,241.90 393.4,243.03 412.3,243.97 430.6,244.68 448.5,245.14 466.0,245.30 466.0,244.30 448.5,244.14 430.6,243.68 412.3,242.97 393.5,242.03 374.1,240.91 354.2,239.63 333.6,238.25 312.3,236.79 290.4,235.30 267.6,233.81 244.1,232.35 219.7,230.97 194.4,229.70 168.2,228.57 141.0,227.63 112.7,226.92 83.4,226.46 53.0,226.30Z" fill="#e377c2"/>
<path d="M53.0,228.50 83.4,228.66 112.7,229.12 140.9,229.83 168.1,230.77 194.4,231.89 219.6,233.17 244.0,234.55 267.6,236.01 290.3,237.50 312.3,238.99 333.5,240.45 354.1,241.83 374.1,243.10 393.4,244.23 412.3,245.17 430.6,245.88 448.5,246.34 466.0,246.50 466.0,245.50 448.5,245.34 430.6,244.88 412.3,244.17 393.5,243.23 374.1,242.11 354.2,240.83 333.6,239.45 312.3,237.99 290.4,236.50 267.6,235.01 244.1,233.55 219.7,232.17 194.4,230.90 168.2,229.77 141.0,228.83 112.7,228.12 83.4,227.66 53.0,227.50Z" fill="#9467bd"/>
<path d="M53.0,229.80 83.4,229.98 112.7,230.50 140.9,231.31 168.1,232.37 194.4,233.65 219.6,235.09 244.0,236.65 267.6,238.31 290.3,240.00 312.3,241.69 333.5,243.34 354.1,244.91 374.1,246.35 393.4,247.62 412.3,248.69 430.6,249.50 448.5,250.02 466.0,250.20 466.0,249.20 448.5,249.02 430.7,248.50 412.3,247.69 393.5,246.63 374.1,245.35 354.2,243.91 333.6,242.35 312.3,240.69 290.4,239.00 267.6,237.31 244.1,235.66 219.7,234.09 194.4,232.65 168.2,231.37 141.0,230.31 112.7,229.50 83.4,228.98 53.0,228.80Z" fill="#e377c2"/>
<path d="M53.0,233.80 70.5,233.77 88.4,233.69 106.7,233.57 125.5,233.41 144.9,233.22 164.9,233.00 185.5,232.76 206.7,232.51 228.7,232.25 251.4,231.99 275.0,231.74 299.3,231.50 324.6,231.28 350.8,231.09 378.0,230.93 406.3,230.81 435.6,230.73 466.0,230.70 466.0,229.70 435.6,229.73 406.3,229.81 378.0,229.93 350.8,230.09 324.6,230.28 299.3,230.50 274.9,230.74 251.4,230.99 228.7,231.25 206.7,231.51 185.4,231.76 164.9,232.00 144.9,232.22 125.5,232.41 106.7,232.57 88.4,232.69 70.5,232.77 53.0,232.80Z" fill="#2ca02c"/>
<path d="M53.0,239.60 70.5,239.51 88.4,239.24 106.7,238.83 125.6,238.29 144.9,237.64 164.9,236.90 185.5,236.10 206.7,235.26 228.7,234.40 251.4,233.54 275.0,232.69 299.4,231.90 324.6,231.16 350.9,230.51 378.1,229.97 406.3,229.56 435.6,229.29 466.0,229.20 466.0,228.20 435.6,228.29 406.3,228.56 378.0,228.97 350.8,229.51 324.6,230.16 299.3,230.90 274.9,231.70 251.4,232.54 228.7,233.40 206.7,234.26 185.4,235.11 164.8,235.90 144.9,236.64 125.5,237.29 106.7,237.83 88.4,238.24 70.5,238.51 53.0,238.60Z" fill="#ff7f0e"/>
<path d="M53.0,246.40 77.8,246.28 101.9,245.92 125.4,245.37 148.5,244.65 171.2,243.78 193.6,242.80 215.7,241.73 237.6,240.60 259.5,239.45 281.4,238.30 303.4,237.17 325.5,236.10 347.8,235.12 370.5,234.25 393.6,233.53 417.1,232.98 441.3,232.62 466.0,232.50 466.0,231.50 441.2,231.62 417.1,231.98 393.6,232.53 370.5,233.25 347.8,234.12 325.4,235.10 303.3,236.17 281.4,237.30 259.5,238.45 237.6,239.60 215.6,240.73 193.5,241.80 171.2,242.78 148.5,243.65 125.4,244.37 101.9,244.92 77.7,245.28 53.0,245.40Z" fill="#2ca02c"/>
<path d="M53.0,252.00 70.5,252.04 88.4,252.15 106.7,252.33 125.5,252.57 144.9,252.85 164.9,253.17 185.4,253.52 206.7,253.88 228.7,254.25 251.4,254.63 274.9,254.99 299.3,255.34 324.6,255.66 350.8,255.94 378.0,256.18 406.3,256.36 435.6,256.47 466.0,256.51 466.0,255.51 435.6,255.47 406.3,255.36 378.1,255.18 350.8,254.94 324.6,254.66 299.3,254.34 275.0,253.99 251.4,253.63 228.7,253.25 206.7,252.88 185.5,252.52 164.9,252.17 144.9,251.85 125.5,251.57 106.7,251.33 88.4,251.15 70.5,251.04 53.0,251.00Z" fill="#8c564b"/>
<path d="M53.0,253.60 70.5,253.64 88.4,253.76 106.7,253.95 125.5,254.20 144.9,254.50 164.9,254.84 185.4,255.21 206.7,255.59 228.7,255.99 251.4,256.39 274.9,256.77 299.3,257.14 324.6,257.48 350.8,257.78 378.0,258.03 406.3,258.22 435.6,258.34 466.0,258.38 466.0,257.38 435.6,257.34 406.3,257.22 378.1,257.03 350.8,256.78 324.6,256.48 299.3,256.14 275.0,255.77 251.4,255.39 228.7,254.99 206.7,254.59 185.5,254.21 164.9,253.84 144.9,253.50 125.5,253.20 106.7,252.95 88.4,252.76 70.5,252.64 53.0,252.60Z" fill="#9467bd"/>
<path d="M53.0,255.10 70.5,255.15 88.4,255.30 106.7,255.52 125.5,255.82 144.9,256.17 164.9,256.57 185.4,257.01 206.7,257.47 228.7,257.94 251.4,258.42 274.9,258.88 299.3,259.31 324.6,259.72 350.8,260.07 378.0,260.37 406.3,260.59 435.6,260.74 466.0,260.79 466.0,259.79 435.6,259.74 406.3,259.59 378.1,259.37 350.8,259.07 324.6,258.72 299.3,258.31 275.0,257.88 251.4,257.42 228.7,256.94 206.7,256.47 185.5,256.01 164.9,255.57 144.9,255.17 125.5,254.82 106.7,254.52 88.4,254.30 70.5,254.15 53.0,254.10Z" fill="#ff7f0e"/>
<path d="M53.0,256.30 70.5,256.34 88.4,256.46 106.7,256.66 125.5,256.91 144.9,257.21 164.9,257.54 185.4,257.91 206.7,258.30 228.7,258.70 251.4,259.10 274.9,259.49 299.3,259.86 324.6,260.19 350.8,260.49 378.0,260.74 406.3,260.94 435.6,261.06 466.0,261.10 466.0,260.10 435.6,260.06 406.3,259.94 378.1,259.74 350.8,259.49 324.6,259.19 299.3,258.86 275.0,258.49 251.4,258.10 228.7,257.70 206.7,257.30 185.5,256.91 164.9,256.54 144.9,256.21 125.5,255.91 106.7,255.66 88.4,255.46 70.5,255.34 53.0,255.30Z" fill="#1f77b4"/>
<path d="M53.0,257.50 70.5,257.55 88.4,257.70 106.7,257.94 125.5,258.25 144.9,258.62 164.9,259.04 185.4,259.50 206.7,259.98 228.7,260.47 251.4,260.96 274.9,261.44 299.3,261.90 324.6,262.32 350.8,262.69 378.0,263.00 406.3,263.24 435.6,263.39 466.0,263.44 466.0,262.44 435.6,262.39 406.3,262.24 378.1,262.00 350.8,261.69 324.6,261.32 299.3,260.90 275.0,260.44 251.4,259.96 228.7,259.47 206.7,258.98 185.5,258.50 164.9,258.04 144.9,257.62 125.5,257.25 106.7,256.94 88.4,256.70 70.5,256.55 53.0,256.50Z" fill="#8c564b"/>
<path d="M53.0,259.00 83.4,258.86 112.7,258.47 141.0,257.86 168.2,257.05 194.4,256.09 219.7,255.00 244.1,253.82 267.6,252.57 290.4,251.29 312.3,250.01 333.6,248.77 354.2,247.58 374.1,246.49 393.5,245.53 412.3,244.73 430.6,244.12 448.5,243.72 466.0,243.59 466.0,242.59 448.5,242.72 430.6,243.12 412.3,243.73 393.4,244.53 374.1,245.49 354.1,246.58 333.5,247.77 312.3,249.02 290.3,250.29 267.6,251.57 244.0,252.82 219.6,254.00 194.4,255.09 168.1,256.06 140.9,256.86 112.7,257.47 83.4,257.86 53.0,258.00Z" fill="#2ca02c"/>
<path d="M53.0,260.60 83.4,260.47 112.7,260.09 141.0,259.51 168.2,258.73 194.4,257.81 219.7,256.77 244.1,255.63 267.6,254.44 290.4,253.21 312.3,251.98 333.6,250.79 354.2,249.65 374.1,248.61 393.5,247.69 412.3,246.92 430.6,246.33 448.5,245.95 466.0,245.82 466.0,244.82 448.5,244.95 430.6,245.33 412.3,245.92 393.4,246.69 374.1,247.61 354.1,248.65 333.5,249.79 312.3,250.99 290.3,252.21 267.6,253.44 244.0,254.63 219.6,255.77 194.4,256.81 168.1,257.74 140.9,258.51 112.7,259.09 83.4,259.47 53.0,259.60Z" fill="#8c564b"/>
<path d="M53.0,262.50 83.4,262.38 112.7,262.02 141.0,261.47 168.2,260.74 194.4,259.87 219.7,258.89 244.1,257.82 267.6,256.69 290.4,255.54 312.3,254.38 333.6,253.26 354.2,252.19 374.1,251.21 393.5,250.34 412.3,249.61 430.6,249.06 448.5,248.70 466.0,248.58 466.0,247.58 448.5,247.70 430.6,248.06 412.3,248.61 393.4,249.34 374.1,250.21 354.1,251.19 333.5,252.26 312.3,253.39 290.3,254.54 267.6,255.70 244.0,256.82 219.6,257.89 194.4,258.87 168.1,259.74 140.9,260.47 112.7,261.02 83.4,261.38 53.0,261.50Z" fill="#9467bd"/>
<path d="M53.0,264.30 83.4,264.14 112.7,263.67 141.0,262.94 168.2,261.98 194.4,260.83 219.7,259.53 244.1,258.11 267.6,256.62 290.4,255.09 312.3,253.57 333.6,252.08 354.2,250.66 374.1,249.36 393.5,248.21 412.3,247.25 430.7,246.52 448.5,246.05 466.0,245.89 466.0,244.89 448.5,245.05 430.6,245.52 412.3,246.25 393.4,247.21 374.1,248.36 354.1,249.66 333.5,251.08 312.3,252.57 290.3,254.10 267.6,255.62 244.0,257.11 219.6,258.53 194.4,259.83 168.1,260.98 140.9,261.94 112.7,262.67 83.4,263.14 53.0,263.30Z" fill="#e377c2"/>
<path d="M53.0,266.20 83.4,266.05 112.7,265.61 141.0,264.92 168.2,264.02 194.4,262.94 219.7,261.72 244.1,260.39 267.6,258.99 290.4,257.55 312.3,256.12 333.6,254.72 354.2,253.39 374.1,252.17 393.5,251.09 412.3,250.19 430.6,249.50 448.5,249.06 466.0,248.91 466.0,247.91 448.5,248.06 430.6,248.50 412.3,249.19 393.4,250.09 374.1,251.17 354.1,252.39 333.5,253.72 312.3,255.12 290.3,256.55 267.6,257.99 244.0,259.39 219.6,260.72 194.4,261.94 168.1,263.02 140.9,263.92 112.7,264.61 83.4,265.05 53.0,265.20Z" fill="#d62728"/>
<path d="M53.0,268.20 83.4,268.07 112.7,267.70 141.0,267.11 168.2,266.34 194.4,265.43 219.7,264.39 244.1,263.26 267.6,262.07 290.4,260.85 312.3,259.62 333.6,258.43 354.2,257.30 374.1,256.27 393.5,255.35 412.3,254.58 430.6,254.00 448.5,253.62 466.0,253.49 466.0,252.49 448.5,252.62 430.6,253.00 412.3,253.58 393.4,254.35 374.1,255.27 354.1,256.31 333.5,257.44 312.3,258.63 290.3,259.85 267.6,261.07 244.0,262.26 219.6,263.39 194.4,264.43 168.1,265.34 140.9,266.11 112.7,266.70 83.4,267.07 53.0,267.20Z" fill="#2ca02c"/>
<path d="M53.0,269.90 83.4,269.77 112.7,269.41 141.0,268.83 168.2,268.08 194.4,267.18 219.7,266.16 244.1,265.06 267.6,263.89 290.4,262.69 312.3,261.50 333.6,260.33 354.2,259.22 374.1,258.21 393.5,257.31 412.3,256.56 430.6,255.98 448.5,255.62 466.0,255.49 466.0,254.49 448.5,254.62 430.6,254.98 412.3,255.56 393.4,256.31 374.1,257.21 354.1,258.23 333.5,259.33 312.3,260.50 290.3,261.70 267.6,262.89 244.0,264.06 219.6,265.16 194.4,266.18 168.1,267.08 140.9,267.83 112.7,268.41 83.4,268.77 53.0,268.90Z" fill="#d62728"/>
<path d="M53.0,272.20 83.4,272.04 112.7,271.57 141.0,270.85 168.2,269.89 194.4,268.75 219.7,267.46 244.1,266.06 267.6,264.58 290.4,263.07 312.3,261.55 333.6,260.07 354.2,258.67 374.1,257.38 393.5,256.24 412.3,255.29 430.6,254.56 448.5,254.10 466.0,253.94 466.0,252.94 448.5,253.10 430.6,253.56 412.3,254.29 393.4,255.24 374.1,256.38 354.1,257.67 333.5,259.08 312.3,260.55 290.3,262.07 267.6,263.58 244.0,265.06 219.6,266.47 194.4,267.76 168.1,268.90 140.9,269.85 112.7,270.57 83.4,271.04 53.0,271.20Z" fill="#8c564b"/>
<path d="M53.0,274.10 83.4,273.95 112.7,273.51 141.0,272.82 168.2,271.91 194.4,270.83 219.7,269.60 244.1,268.27 267.6,266.87 290.4,265.43 312.3,263.99 333.6,262.59 354.2,261.26 374.1,260.03 393.5,258.95 412.3,258.04 430.6,257.36 448.5,256.92 466.0,256.76 466.0,255.76 448.5,255.92 430.6,256.36 412.3,257.05 393.4,257.95 374.1,259.03 354.1,260.26 333.5,261.59 312.3,262.99 290.3,264.43 267.6,265.87 244.0,267.27 219.6,268.61 194.4,269.83 168.1,270.91 140.9,271.82 112.7,272.51 83.4,272.95 53.0,273.10Z" fill="#ff7f0e"/>
<path d="M53.0,276.20 83.4,276.02 112.7,275.52 141.0,274.72 168.2,273.68 194.4,272.44 219.7,271.03 244.1,269.50 267.6,267.88 290.4,266.23 312.3,264.57 333.6,262.96 354.2,261.43 374.1,260.02 393.5,258.78 412.3,257.74 430.7,256.95 448.5,256.44 466.0,256.26 466.0,255.26 448.5,255.44 430.6,255.95 412.3,256.74 393.4,257.78 374.1,259.02 354.1,260.43 333.5,261.96 312.3,263.58 290.3,265.23 267.6,266.89 244.0,268.50 219.6,270.03 194.4,271.44 168.1,272.68 140.9,273.72 112.7,274.52 83.4,275.02 53.0,275.20Z" fill="#1f77b4"/>
<path d="M53.0,278.10 83.4,277.95 112.7,277.51 141.0,276.82 168.2,275.92 194.4,274.84 219.7,273.62 244.1,272.29 267.6,270.89 290.4,269.46 312.3,268.03 333.6,266.63 354.2,265.30 374.1,264.08 393.5,263.00 412.3,262.10 430.6,261.41 448.5,260.98 466.0,260.82 466.0,259.82 448.5,259.98 430.6,260.41 412.3,261.10 393.4,262.00 374.1,263.08 354.1,264.30 333.5,265.63 312.3,267.03 290.3,268.46 267.6,269.90 244.0,271.29 219.6,272.62 194.4,273.84 168.1,274.92 140.9,275.82 112.7,276.51 83.4,276.95 53.0,277.10Z" fill="#7f7f7f"/>
<path d="M53.0,280.00 83.4,279.85 112.7,279.43 141.0,278.77 168.2,277.91 194.4,276.88 219.7,275.71 244.1,274.43 267.6,273.09 290.4,271.72 312.3,270.35 333.6,269.01 354.2,267.73 374.1,266.56 393.5,265.53 412.3,264.67 430.6,264.01 448.5,263.59 466.0,263.44 466.0,262.44 448.5,262.59 430.6,263.01 412.3,263.67 393.4,264.53 374.1,265.57 354.1,266.74 333.5,268.01 312.3,269.35 290.3,270.72 267.6,272.10 244.0,273.44 219.6,274.71 194.4,275.88 168.1,276.91 140.9,277.77 112.7,278.43 83.4,278.85 53.0,279.00Z" fill="#9467bd"/>
<path d="M53.0,282.10 83.4,281.93 112.7,281.45 141.0,280.69 168.2,279.69 194.4,278.50 219.7,277.15 244.1,275.69 267.6,274.14 290.4,272.56 312.3,270.98 333.6,269.43 354.2,267.97 374.1,266.62 393.5,265.43 412.3,264.44 430.7,263.68 448.5,263.19 466.0,263.02 466.0,262.02 448.5,262.19 430.6,262.68 412.3,263.44 393.4,264.43 374.1,265.62 354.1,266.97 333.5,268.44 312.3,269.98 290.3,271.56 267.6,273.15 244.0,274.69 219.6,276.15 194.4,277.50 168.1,278.69 140.9,279.69 112.7,280.45 83.4,280.93 53.0,281.10Z" fill="#7f7f7f"/>
<path d="M53.0,284.50 83.4,284.33 112.7,283.84 141.0,283.08 168.2,282.09 194.4,280.90 219.7,279.55 244.1,278.08 267.6,276.53 290.4,274.95 312.3,273.36 333.6,271.82 354.2,270.35 374.1,269.00 393.5,267.81 412.3,266.81 430.7,266.05 448.5,265.57 466.0,265.40 466.0,264.40 448.5,264.57 430.6,265.05 412.3,265.81 393.4,266.81 374.1,268.00 354.1,269.35 333.5,270.82 312.3,272.36 290.3,273.95 267.6,275.54 244.0,277.08 219.6,278.55 194.4,279.90 168.1,281.09 140.9,282.09 112.7,282.85 83.4,283.33 53.0,283.50Z" fill="#e377c2"/>
<path d="M53.0,286.20 83.4,285.98 112.7,285.36 141.0,284.38 168.2,283.09 194.4,281.55 219.7,279.82 244.1,277.92 267.6,275.93 290.4,273.89 312.3,271.84 333.6,269.85 354.2,267.96 374.1,266.22 393.5,264.68 412.3,263.40 430.7,262.42 448.5,261.80 466.0,261.58 466.0,260.58 448.5,260.80 430.6,261.42 412.3,262.40 393.4,263.69 374.1,265.22 354.1,266.96 333.5,268.85 312.3,270.85 290.3,272.89 267.5,274.93 244.0,276.93 219.6,278.82 194.3,280.56 168.1,282.09 140.9,283.38 112.7,284.36 83.4,284.98 53.0,285.20Z" fill="#8c564b"/>
<path d="M53.0,288.50 83.4,288.31 112.7,287.76 141.0,286.90 168.2,285.77 194.4,284.41 219.7,282.88 244.1,281.22 267.6,279.47 290.4,277.67 312.3,275.87 333.6,274.12 354.2,272.45 374.1,270.92 393.5,269.57 412.3,268.44 430.7,267.58 448.5,267.03 466.0,266.84 466.0,265.84 448.5,266.03 430.6,266.58 412.3,267.45 393.4,268.58 374.1,269.93 354.1,271.46 333.5,273.12 312.3,274.87 290.3,276.67 267.6,278.47 244.0,280.22 219.6,281.89 194.4,283.42 168.1,284.77 140.9,285.90 112.7,286.76 83.4,287.31 53.0,287.50Z" fill="#ff7f0e"/>
<path d="M53.0,290.40 83.4,290.21 112.7,289.66 141.0,288.80 168.2,287.68 194.4,286.33 219.7,284.80 244.1,283.15 267.6,281.40 290.4,279.61 312.3,277.82 333.6,276.07 354.2,274.42 374.1,272.89 393.5,271.54 412.3,270.42 430.7,269.56 448.5,269.02 466.0,268.82 466.0,267.82 448.5,268.02 430.6,268.56 412.3,269.42 393.4,270.55 374.1,271.89 354.1,273.42 333.5,275.08 312.3,276.82 290.3,278.61 267.6,280.40 244.0,282.15 219.6,283.81 194.4,285.33 168.1,286.68 140.9,287.80 112.7,288.66 83.4,289.21 53.0,289.40Z" fill="#9467bd"/>
<path d="M53.0,295.10 83.4,294.95 112.7,294.54 141.0,293.88 168.2,293.02 194.4,291.99 219.7,290.83 244.1,289.57 267.6,288.23 290.4,286.87 312.3,285.50 333.6,284.17 354.2,282.90 374.1,281.74 393.5,280.71 412.3,279.85 430.6,279.20 448.5,278.78 466.0,278.63 466.0,277.63 448.5,277.78 430.6,278.20 412.3,278.85 393.4,279.71 374.1,280.74 354.1,281.90 333.5,283.17 312.3,284.50 290.3,285.87 267.6,287.23 244.0,288.57 219.6,289.83 194.4,290.99 168.1,292.02 140.9,292.88 112.7,293.54 83.4,293.95 53.0,294.10Z" fill="#2ca02c"/>
<path d="M53.0,296.60 83.4,296.43 112.7,295.93 141.0,295.16 168.2,294.15 194.4,292.93 219.7,291.56 244.1,290.07 267.6,288.49 290.4,286.88 312.3,285.27 333.6,283.70 354.2,282.20 374.1,280.83 393.5,279.62 412.3,278.60 430.7,277.83 448.5,277.34 466.0,277.17 466.0,276.17 448.5,276.34 430.6,276.83 412.3,277.61 393.4,278.62 374.1,279.83 354.1,281.21 333.5,282.70 312.3,284.27 290.3,285.88 267.6,287.50 244.0,289.07 219.6,290.56 194.4,291.94 168.1,293.15 140.9,294.16 112.7,294.93 83.4,295.43 53.0,295.60Z" fill="#d62728"/>
<path d="M53.0,298.40 83.4,298.18 112.7,297.55 141.0,296.56 168.2,295.27 194.4,293.72 219.7,291.97 244.1,290.06 267.6,288.06 290.4,286.00 312.3,283.94 333.6,281.94 354.2,280.03 374.1,278.28 393.5,276.73 412.3,275.44 430.7,274.45 448.5,273.82 466.0,273.60 466.0,272.60 448.5,272.83 430.6,273.45 412.3,274.44 393.4,275.73 374.1,277.28 354.1,279.03 333.5,280.94 312.3,282.95 290.3,285.00 267.5,287.06 244.0,289.07 219.6,290.97 194.3,292.72 168.1,294.27 140.9,295.56 112.7,296.55 83.4,297.18 53.0,297.40Z" fill="#1f77b4"/>
<path d="M53.0,300.30 83.4,300.03 112.7,299.28 141.0,298.09 168.2,296.54 194.4,294.68 219.7,292.58 244.1,290.29 267.6,287.88 290.4,285.41 312.4,282.94 333.6,280.53 354.2,278.24 374.1,276.14 393.5,274.28 412.3,272.73 430.7,271.54 448.5,270.79 466.0,270.52 466.0,269.52 448.5,269.79 430.6,270.54 412.3,271.73 393.4,273.28 374.0,275.14 354.1,277.25 333.5,279.53 312.2,281.94 290.3,284.41 267.5,286.89 244.0,289.29 219.6,291.58 194.3,293.69 168.1,295.54 140.9,297.09 112.7,298.28 83.4,299.03 53.0,299.30Z" fill="#8c564b"/>
<path d="M53.0,302.20 75.8,302.05 98.7,301.63 121.6,300.94 144.5,300.01 167.5,298.85 190.5,297.47 213.5,295.89 236.5,294.14 259.5,292.22 282.6,290.15 305.6,287.95 328.6,285.64 351.6,283.23 374.6,280.74 397.5,278.18 420.4,275.57 443.3,272.93 466.1,270.27 465.9,269.27 443.1,271.93 420.3,274.57 397.4,277.18 374.5,279.74 351.5,282.24 328.5,284.65 305.5,286.96 282.5,289.16 259.5,291.22 236.4,293.14 213.4,294.90 190.4,296.47 167.4,297.85 144.5,299.01 121.5,299.94 98.6,300.63 75.8,301.05 53.0,301.20Z" fill="#e377c2"/>
<path d="M53.0,304.30 75.8,304.17 98.7,303.79 121.6,303.17 144.5,302.33 167.5,301.28 190.5,300.05 213.5,298.63 236.5,297.05 259.5,295.33 282.6,293.47 305.6,291.49 328.6,289.41 351.6,287.24 374.6,285.00 397.5,282.70 420.4,280.35 443.3,277.97 466.1,275.58 465.9,274.59 443.1,276.98 420.3,279.36 397.4,281.70 374.5,284.00 351.5,286.25 328.5,288.41 305.5,290.49 282.5,292.47 259.5,294.33 236.4,296.05 213.4,297.63 190.4,299.05 167.4,300.29 144.5,301.33 121.5,302.17 98.6,302.79 75.8,303.17 53.0,303.30Z" fill="#d62728"/>
<path d="M53.0,306.20 75.8,306.09 98.7,305.78 121.6,305.27 144.5,304.58 167.5,303.72 190.5,302.70 213.5,301.54 236.5,300.24 259.5,298.82 282.6,297.29 305.6,295.67 328.6,293.96 351.6,292.18 374.6,290.33 397.5,288.44 420.4,286.51 443.2,284.56 466.0,282.59 466.0,281.60 443.2,283.56 420.3,285.52 397.4,287.44 374.5,289.34 351.5,291.18 328.5,292.96 305.5,294.67 282.5,296.30 259.5,297.82 236.4,299.24 213.4,300.54 190.4,301.70 167.4,302.72 144.5,303.58 121.5,304.27 98.6,304.78 75.8,305.09 53.0,305.20Z" fill="#7f7f7f"/>
<path d="M53.0,308.50 75.8,308.39 98.7,308.05 121.6,307.52 144.5,306.78 167.5,305.87 190.5,304.79 213.5,303.56 236.5,302.18 259.5,300.68 282.6,299.06 305.6,297.34 328.6,295.52 351.6,293.63 374.6,291.68 397.5,289.67 420.4,287.63 443.2,285.56 466.0,283.48 466.0,282.48 443.2,284.56 420.3,286.63 397.4,288.68 374.5,290.68 351.5,292.64 328.5,294.53 305.5,296.34 282.5,298.06 259.5,299.68 236.4,301.19 213.4,302.56 190.4,303.79 167.4,304.87 144.5,305.78 121.5,306.52 98.6,307.05 75.8,307.39 53.0,307.50Z" fill="#9467bd"/>
<path d="M53.0,310.70 75.8,310.57 98.7,310.20 121.6,309.60 144.5,308.79 167.5,307.77 190.5,306.57 213.5,305.20 236.5,303.67 259.5,301.99 282.6,300.19 305.6,298.27 328.6,296.25 351.6,294.15 374.6,291.97 397.5,289.74 420.4,287.46 443.3,285.16 466.1,282.84 465.9,281.85 443.2,284.16 420.3,286.47 397.4,288.75 374.5,290.98 351.5,293.15 328.5,295.26 305.5,297.28 282.5,299.19 259.5,301.00 236.4,302.67 213.4,304.20 190.4,305.57 167.4,306.77 144.5,307.79 121.5,308.60 98.6,309.20 75.8,309.57 53.0,309.70Z" fill="#ff7f0e"/>
<path d="M53.0,315.60 75.8,315.45 98.7,315.01 121.6,314.31 144.5,313.35 167.5,312.15 190.5,310.73 213.5,309.11 236.5,307.31 259.5,305.33 282.6,303.21 305.6,300.95 328.6,298.57 351.6,296.08 374.6,293.52 397.5,290.89 420.4,288.20 443.3,285.48 466.1,282.75 465.9,281.76 443.1,284.49 420.3,287.21 397.4,289.89 374.5,292.53 351.5,295.09 328.5,297.57 305.5,299.95 282.5,302.21 259.5,304.34 236.4,306.31 213.4,308.12 190.4,309.73 167.4,311.15 144.5,312.35 121.5,313.31 98.6,314.01 75.8,314.45 53.0,314.60Z" fill="#2ca02c"/>
<path d="M53.0,317.40 75.8,317.26 98.7,316.84 121.6,316.16 144.5,315.24 167.5,314.09 190.5,312.73 213.5,311.17 236.5,309.44 259.5,307.54 282.6,305.50 305.6,303.33 328.6,301.04 351.6,298.66 374.6,296.20 397.5,293.67 420.4,291.09 443.3,288.48 466.1,285.85 465.9,284.86 443.1,287.49 420.3,290.10 397.4,292.67 374.5,295.20 351.5,297.66 328.5,300.05 305.5,302.33 282.5,304.50 259.5,306.54 236.4,308.44 213.4,310.17 190.4,311.73 167.4,313.09 144.5,314.24 121.5,315.16 98.6,315.84 75.8,316.26 53.0,316.40Z" fill="#9467bd"/>
<path d="M53.0,319.10 75.8,318.94 98.7,318.49 121.6,317.75 144.5,316.74 167.5,315.49 190.5,314.00 213.5,312.31 236.5,310.42 259.5,308.35 282.6,306.13 305.6,303.76 328.6,301.27 351.6,298.67 374.6,295.98 397.5,293.23 420.4,290.42 443.3,287.57 466.1,284.71 465.9,283.72 443.1,286.58 420.3,289.42 397.4,292.23 374.5,294.99 351.5,297.68 328.5,300.27 305.5,302.76 282.5,305.13 259.5,307.36 236.4,309.42 213.4,311.31 190.4,313.01 167.4,314.49 144.5,315.74 121.5,316.75 98.6,317.49 75.8,317.94 53.0,318.10Z" fill="#d62728"/>
<path d="M53.0,321.50 75.8,321.35 98.7,320.90 121.6,320.17 144.5,319.19 167.5,317.96 190.5,316.50 213.5,314.84 236.5,312.98 259.5,310.96 282.6,308.77 305.6,306.45 328.6,304.01 351.6,301.46 374.6,298.83 397.5,296.12 420.4,293.37 443.3,290.57 466.1,287.77 465.9,286.77 443.1,289.58 420.3,292.37 397.4,295.13 374.5,297.83 351.5,300.47 328.5,303.01 305.5,305.46 282.5,307.78 259.5,309.96 236.4,311.99 213.4,313.84 190.4,315.50 167.4,316.96 144.5,318.19 121.5,319.17 98.6,319.90 75.8,320.35 53.0,320.50Z" fill="#7f7f7f"/>
<path d="M53.0,323.60 75.8,323.44 98.7,322.97 121.6,322.22 144.5,321.19 167.5,319.91 190.5,318.39 213.5,316.65 236.5,314.72 259.5,312.61 282.6,310.33 305.6,307.91 328.6,305.36 351.6,302.70 374.6,299.96 397.5,297.14 420.4,294.26 443.3,291.35 466.1,288.43 465.9,287.43 443.1,290.36 420.3,293.27 397.4,296.14 374.5,298.96 351.5,301.71 328.5,304.37 305.5,306.91 282.5,309.34 259.5,311.61 236.4,313.72 213.4,315.66 190.4,317.39 167.4,318.91 144.5,320.19 121.5,321.22 98.6,321.97 75.8,322.44 53.0,322.60Z" fill="#7f7f7f"/>
<path d="M53.0,326.40 75.8,326.26 98.7,325.84 121.6,325.17 144.5,324.25 167.5,323.11 190.5,321.76 213.5,320.22 236.5,318.50 259.5,316.62 282.6,314.60 305.6,312.44 328.6,310.18 351.6,307.81 374.6,305.37 397.5,302.86 420.4,300.31 443.3,297.72 466.1,295.12 465.9,294.12 443.1,296.73 420.3,299.31 397.4,301.87 374.5,304.38 351.5,306.82 328.5,309.18 305.5,311.45 282.5,313.60 259.5,315.63 236.4,317.51 213.4,319.22 190.4,320.77 167.4,322.12 144.5,323.25 121.5,324.17 98.6,324.84 75.8,325.26 53.0,325.40Z" fill="#8c564b"/>
<path d="M53.0,327.90 75.8,327.78 98.7,327.43 121.6,326.86 144.5,326.09 167.5,325.13 190.5,323.99 213.5,322.69 236.5,321.23 259.5,319.65 282.6,317.94 305.6,316.12 328.6,314.21 351.6,312.21 374.6,310.15 397.5,308.03 420.4,305.88 443.2,303.69 466.0,301.49 466.0,300.50 443.2,302.70 420.3,304.88 397.4,307.04 374.5,309.15 351.5,311.22 328.5,313.21 305.5,315.12 282.5,316.94 259.5,318.65 236.4,320.24 213.4,321.69 190.4,322.99 167.4,324.13 144.5,325.09 121.5,325.86 98.6,326.43 75.8,326.78 53.0,326.90Z" fill="#9467bd"/>
<path d="M53.0,331.00 75.8,330.84 98.7,330.37 121.6,329.62 144.5,328.59 167.5,327.32 190.5,325.80 213.5,324.07 236.5,322.15 259.5,320.04 282.6,317.77 305.6,315.35 328.6,312.81 351.6,310.16 374.6,307.42 397.5,304.61 420.4,301.74 443.3,298.84 466.1,295.92 465.9,294.93 443.1,297.85 420.3,300.75 397.4,303.62 374.5,306.43 351.5,309.17 328.5,311.82 305.5,314.36 282.5,316.77 259.5,319.04 236.4,321.15 213.4,323.08 190.4,324.81 167.4,326.32 144.5,327.60 121.5,328.62 98.6,329.37 75.8,329.84 53.0,330.00Z" fill="#2ca02c"/>
<path d="M53.0,331.90 75.8,331.75 98.7,331.30 121.6,330.57 144.5,329.59 167.5,328.36 190.5,326.90 213.5,325.24 236.5,323.38 259.5,321.36 282.6,319.17 305.6,316.85 328.6,314.41 351.6,311.86 374.6,309.22 397.5,306.52 420.4,303.76 443.3,300.97 466.1,298.16 465.9,297.17 443.1,299.98 420.3,302.77 397.4,305.52 374.5,308.23 351.5,310.86 328.5,313.41 305.5,315.85 282.5,318.18 259.5,320.36 236.4,322.39 213.4,324.24 190.4,325.90 167.4,327.36 144.5,328.59 121.5,329.57 98.6,330.30 75.8,330.75 53.0,330.90Z" fill="#8c564b"/>
<path d="M53.0,337.20 75.8,337.03 98.7,336.53 121.6,335.71 144.5,334.61 167.5,333.23 190.5,331.60 213.5,329.74 236.5,327.66 259.6,325.39 282.6,322.94 305.6,320.34 328.6,317.60 351.6,314.75 374.6,311.80 397.5,308.77 420.4,305.68 443.3,302.56 466.1,299.41 465.9,298.42 443.1,301.57 420.3,304.69 397.4,307.78 374.5,310.81 351.5,313.76 328.5,316.61 305.5,319.35 282.5,321.95 259.4,324.39 236.4,326.67 213.4,328.74 190.4,330.60 167.4,332.23 144.5,333.61 121.5,334.71 98.6,335.53 75.8,336.03 53.0,336.20Z" fill="#d62728"/>
<path d="M53.0,339.60 75.8,339.44 98.7,338.98 121.6,338.23 144.5,337.21 167.5,335.94 190.5,334.44 213.5,332.72 236.5,330.81 259.5,328.72 282.6,326.47 305.6,324.07 328.6,321.55 351.6,318.92 374.6,316.20 397.5,313.41 420.4,310.56 443.3,307.68 466.1,304.78 465.9,303.79 443.1,306.69 420.3,309.57 397.4,312.41 374.5,315.20 351.5,317.92 328.5,320.55 305.5,323.07 282.5,325.47 259.5,327.72 236.4,329.82 213.4,331.73 190.4,333.44 167.4,334.94 144.5,336.21 121.5,337.23 98.6,337.98 75.8,338.44 53.0,338.60Z" fill="#2ca02c"/>
<path d="M53.0,340.90 75.8,340.73 98.7,340.21 121.6,339.38 144.5,338.26 167.5,336.86 190.5,335.19 213.5,333.30 236.5,331.18 259.6,328.87 282.6,326.37 305.6,323.72 328.6,320.93 351.6,318.03 374.6,315.02 397.5,311.93 420.4,308.79 443.3,305.60 466.1,302.40 465.9,301.41 443.1,304.61 420.3,307.80 397.4,310.94 374.5,314.03 351.5,317.03 328.5,319.94 305.5,322.73 282.5,325.38 259.4,327.87 236.4,330.18 213.4,332.30 190.4,334.20 167.4,335.86 144.5,337.26 121.5,338.39 98.6,339.21 75.8,339.73 53.0,339.90Z" fill="#d62728"/>
<path d="M53.0,343.30 75.8,343.12 98.7,342.61 121.6,341.78 144.5,340.64 167.5,339.23 190.5,337.56 213.5,335.65 236.5,333.52 259.6,331.20 282.6,328.69 305.6,326.02 328.6,323.22 351.6,320.29 374.6,317.27 397.5,314.16 420.4,311.00 443.3,307.80 466.1,304.57 465.9,303.58 443.1,306.80 420.3,310.01 397.4,313.17 374.5,316.28 351.5,319.30 328.5,322.22 305.5,325.03 282.5,327.70 259.4,330.20 236.4,332.53 213.4,334.66 190.4,336.56 167.4,338.23 144.5,339.64 121.5,340.78 98.6,341.61 75.8,342.12 53.0,342.30Z" fill="#9467bd"/>
<path d="M53.0,344.90 75.8,344.71 98.7,344.15 121.6,343.24 144.5,342.01 167.5,340.48 190.5,338.66 213.5,336.59 236.5,334.27 259.6,331.74 282.6,329.02 305.6,326.12 328.6,323.07 351.6,319.89 374.6,316.60 397.5,313.22 420.4,309.78 443.3,306.30 466.1,302.79 465.9,301.81 443.1,305.31 420.3,308.79 397.4,312.23 374.4,315.61 351.5,318.90 328.5,322.08 305.5,325.12 282.5,328.02 259.4,330.75 236.4,333.28 213.4,335.59 190.4,337.66 167.4,339.48 144.4,341.01 121.5,342.24 98.6,343.15 75.8,343.71 53.0,343.90Z" fill="#ff7f0e"/>
<path d="M53.0,350.70 75.8,350.52 98.7,350.00 121.6,349.15 144.5,348.00 167.5,346.57 190.5,344.87 213.5,342.94 236.5,340.77 259.6,338.41 282.6,335.87 305.6,333.16 328.6,330.31 351.6,327.34 374.6,324.27 397.5,321.12 420.4,317.90 443.3,314.65 466.1,311.38 465.9,310.39 443.1,313.66 420.3,316.91 397.4,320.13 374.5,323.28 351.5,326.35 328.5,329.32 305.5,332.17 282.5,334.87 259.4,337.42 236.4,339.78 213.4,341.94 190.4,343.88 167.4,345.57 144.5,347.00 121.5,348.15 98.6,349.00 75.8,349.52 53.0,349.70Z" fill="#2ca02c"/>
<path d="M53.0,353.80 75.8,353.64 98.7,353.19 121.6,352.45 144.5,351.45 167.5,350.21 190.5,348.73 213.5,347.04 236.5,345.16 259.5,343.11 282.6,340.89 305.6,338.54 328.6,336.06 351.6,333.48 374.6,330.80 397.5,328.06 420.4,325.27 443.3,322.44 466.1,319.59 465.9,318.60 443.1,321.44 420.3,324.27 397.4,327.07 374.5,329.81 351.5,332.48 328.5,335.07 305.5,337.54 282.5,339.90 259.5,342.11 236.4,344.17 213.4,346.05 190.4,347.73 167.4,349.21 144.5,350.45 121.5,351.45 98.6,352.19 75.8,352.64 53.0,352.80Z" fill="#2ca02c"/>
<path d="M53.0,358.80 75.8,358.60 98.7,358.02 121.6,357.07 144.5,355.79 167.5,354.18 190.5,352.29 213.5,350.12 236.5,347.71 259.6,345.07 282.6,342.22 305.6,339.20 328.6,336.01 351.6,332.69 374.6,329.26 397.5,325.74 420.4,322.15 443.3,318.51 466.1,314.86 465.9,313.87 443.1,317.53 420.3,321.16 397.4,324.75 374.4,328.27 351.5,331.70 328.5,335.02 305.5,338.20 282.5,341.23 259.4,344.07 236.4,346.71 213.4,349.13 190.4,351.29 167.4,353.19 144.4,354.79 121.5,356.07 98.6,357.02 75.8,357.60 53.0,357.80Z" fill="#d62728"/>
<path d="M53.1,363.70 76.0,361.16 99.0,358.62 122.0,356.08 144.9,353.54 167.9,351.00 190.8,348.46 213.7,345.92 236.6,343.39 259.6,340.85 282.5,338.31 305.4,335.77 328.3,333.23 351.2,330.69 374.2,328.15 397.1,325.61 420.1,323.07 443.1,320.54 466.1,318.00 465.9,317.00 443.0,319.54 420.0,322.08 397.0,324.62 374.1,327.16 351.1,329.70 328.2,332.24 305.3,334.78 282.4,337.31 259.4,339.85 236.5,342.39 213.6,344.93 190.7,347.47 167.8,350.01 144.8,352.55 121.9,355.09 98.9,357.63 75.9,360.16 52.9,362.70Z" fill="#1f77b4"/>
<path d="M53.1,364.70 76.1,361.96 99.0,359.23 122.0,356.50 144.9,353.76 167.9,351.03 190.8,348.30 213.7,345.56 236.6,342.83 259.6,340.10 282.5,337.36 305.4,334.63 328.3,331.90 351.2,329.16 374.2,326.43 397.1,323.70 420.1,320.96 443.1,318.23 466.1,315.50 465.9,314.50 442.9,317.24 420.0,319.97 397.0,322.70 374.1,325.44 351.1,328.17 328.2,330.90 305.3,333.64 282.4,336.37 259.4,339.10 236.5,341.84 213.6,344.57 190.7,347.30 167.8,350.04 144.8,352.77 121.9,355.50 98.9,358.24 75.9,360.97 52.9,363.70Z" fill="#1f77b4"/>
<path d="M53.0,252.90 70.5,252.76 88.4,252.35 106.7,251.72 125.6,250.89 144.9,249.90 164.9,248.78 185.5,247.56 206.7,246.27 228.7,244.95 251.4,243.63 275.0,242.34 299.4,241.12 324.6,240.00 350.9,239.01 378.1,238.18 406.3,237.55 435.6,237.14 466.0,237.00 466.0,236.00 435.6,236.14 406.3,236.55 378.0,237.18 350.8,238.01 324.6,239.00 299.3,240.12 274.9,241.34 251.4,242.63 228.6,243.95 206.7,245.27 185.4,246.56 164.8,247.78 144.9,248.90 125.5,249.89 106.7,250.72 88.4,251.35 70.5,251.76 53.0,251.90Z" fill="#d62728"/>
<path d="M53.0,258.00 76.0,256.89 99.0,255.78 122.0,254.67 144.9,253.55 167.8,252.44 190.8,251.33 213.7,250.22 236.6,249.11 259.5,248.00 282.4,246.89 305.4,245.78 328.3,244.67 351.2,243.55 374.2,242.44 397.1,241.33 420.1,240.22 443.0,239.11 466.0,238.00 466.0,237.00 443.0,238.11 420.0,239.22 397.0,240.33 374.1,241.45 351.2,242.56 328.2,243.67 305.3,244.78 282.4,245.89 259.5,247.00 236.6,248.11 213.6,249.22 190.7,250.33 167.8,251.45 144.8,252.56 121.9,253.67 98.9,254.78 76.0,255.89 53.0,257.00Z" fill="#9467bd"/>
<path d="M53.0,257.37 75.8,257.34 98.7,257.25 121.5,257.10 144.5,256.90 167.5,256.65 190.4,256.35 213.5,256.01 236.5,255.63 259.5,255.22 282.5,254.78 305.6,254.30 328.6,253.81 351.6,253.29 374.5,252.75 397.5,252.20 420.4,251.64 443.2,251.07 466.0,250.50 466.0,249.50 443.2,250.07 420.3,250.64 397.4,251.20 374.5,251.75 351.5,252.29 328.6,252.81 305.5,253.30 282.5,253.78 259.5,254.22 236.5,254.63 213.4,255.01 190.4,255.35 167.4,255.65 144.5,255.90 121.5,256.10 98.6,256.25 75.8,256.34 53.0,256.37Z" fill="#8c564b"/>
<path d="M53.0,260.17 83.4,260.08 112.7,259.84 141.0,259.45 168.2,258.95 194.4,258.34 219.7,257.66 244.1,256.92 267.6,256.14 290.3,255.33 312.3,254.53 333.6,253.75 354.2,253.01 374.1,252.32 393.5,251.72 412.3,251.22 430.6,250.83 448.5,250.59 466.0,250.50 466.0,249.50 448.5,249.59 430.6,249.83 412.3,250.22 393.4,250.72 374.1,251.32 354.1,252.01 333.5,252.75 312.3,253.53 290.3,254.33 267.6,255.14 244.0,255.92 219.6,256.66 194.4,257.35 168.1,257.95 140.9,258.45 112.7,258.84 83.4,259.08 53.0,259.17Z" fill="#d62728"/>
<path d="M53.0,261.65 75.8,261.60 98.7,261.45 121.6,261.21 144.5,260.89 167.5,260.48 190.4,260.00 213.5,259.45 236.5,258.84 259.5,258.17 282.5,257.45 305.6,256.68 328.6,255.87 351.6,255.03 374.5,254.16 397.5,253.26 420.4,252.35 443.2,251.43 466.0,250.50 466.0,249.50 443.2,250.43 420.3,251.35 397.4,252.26 374.5,253.16 351.5,254.03 328.5,254.87 305.5,255.68 282.5,256.45 259.5,257.17 236.5,257.84 213.4,258.45 190.4,259.00 167.4,259.48 144.5,259.89 121.5,260.21 98.6,260.45 75.8,260.60 53.0,260.65Z" fill="#8c564b"/>
<path d="M53.0,264.52 75.8,264.47 98.7,264.34 121.6,264.13 144.5,263.84 167.5,263.48 190.4,263.05 213.5,262.56 236.5,262.01 259.5,261.42 282.5,260.78 305.6,260.09 328.6,259.37 351.6,258.62 374.5,257.85 397.5,257.05 420.4,256.24 443.2,255.42 466.0,254.60 466.0,253.60 443.2,254.42 420.3,255.24 397.4,256.05 374.5,256.85 351.5,257.62 328.5,258.37 305.5,259.09 282.5,259.78 259.5,260.42 236.5,261.01 213.4,261.56 190.4,262.05 167.4,262.48 144.5,262.84 121.5,263.13 98.6,263.34 75.8,263.47 53.0,263.52Z" fill="#1f77b4"/>
<path d="M53.0,265.47 83.4,265.38 112.7,265.12 141.0,264.71 168.2,264.18 194.4,263.54 219.7,262.82 244.1,262.04 267.6,261.21 290.3,260.36 312.3,259.52 333.6,258.69 354.2,257.91 374.1,257.19 393.5,256.55 412.3,256.02 430.6,255.61 448.5,255.35 466.0,255.26 466.0,254.26 448.5,254.35 430.6,254.61 412.3,255.02 393.4,255.55 374.1,256.19 354.1,256.91 333.5,257.69 312.3,258.52 290.3,259.36 267.6,260.21 244.0,261.04 219.6,261.82 194.4,262.54 168.1,263.18 140.9,263.71 112.7,264.12 83.4,264.38 53.0,264.47Z" fill="#e377c2"/>
<path d="M53.0,267.94 75.8,267.91 98.7,267.84 121.5,267.72 144.5,267.57 167.4,267.37 190.4,267.14 213.5,266.87 236.5,266.57 259.5,266.25 282.5,265.90 305.6,265.53 328.6,265.14 351.6,264.73 374.5,264.31 397.5,263.88 420.4,263.44 443.2,262.99 466.0,262.54 466.0,261.54 443.2,261.99 420.3,262.44 397.4,262.88 374.5,263.31 351.5,263.73 328.6,264.14 305.5,264.53 282.5,264.90 259.5,265.25 236.5,265.57 213.4,265.87 190.4,266.14 167.4,266.37 144.5,266.57 121.5,266.72 98.6,266.84 75.8,266.91 53.0,266.94Z" fill="#d62728"/>
<path d="M53.0,270.31 83.4,270.14 112.7,269.69 141.0,268.97 168.2,268.03 194.4,266.90 219.7,265.62 244.1,264.24 267.6,262.78 290.4,261.28 312.3,259.78 333.6,258.32 354.2,256.93 374.1,255.66 393.5,254.53 412.3,253.59 430.6,252.87 448.5,252.41 466.0,252.25 466.0,251.25 448.5,251.42 430.6,251.87 412.3,252.59 393.4,253.53 374.1,254.66 354.1,255.94 333.5,257.32 312.3,258.78 290.3,260.28 267.6,261.78 244.0,263.24 219.6,264.63 194.4,265.90 168.1,267.03 140.9,267.97 112.7,268.69 83.4,269.14 53.0,269.31Z" fill="#2ca02c"/>
<path d="M53.0,270.28 75.8,270.24 98.7,270.15 121.5,270.01 144.5,269.81 167.5,269.57 190.4,269.27 213.5,268.94 236.5,268.57 259.5,268.16 282.5,267.73 305.6,267.26 328.6,266.77 351.6,266.26 374.5,265.73 397.5,265.19 420.4,264.64 443.2,264.08 466.0,263.52 466.0,262.52 443.2,263.08 420.3,263.64 397.4,264.19 374.5,264.73 351.5,265.26 328.6,265.77 305.5,266.26 282.5,266.73 259.5,267.16 236.5,267.57 213.4,267.94 190.4,268.27 167.4,268.57 144.5,268.81 121.5,269.01 98.6,269.15 75.8,269.24 53.0,269.28Z" fill="#8c564b"/>
<path d="M53.0,272.81 83.4,272.66 112.7,272.21 141.0,271.52 168.2,270.61 194.4,269.52 219.7,268.29 244.1,266.95 267.6,265.54 290.4,264.10 312.3,262.65 333.6,261.24 354.2,259.90 374.1,258.67 393.5,257.58 412.3,256.68 430.6,255.98 448.5,255.54 466.0,255.39 466.0,254.39 448.5,254.54 430.6,254.98 412.3,255.68 393.4,256.59 374.1,257.67 354.1,258.90 333.5,260.24 312.3,261.65 290.3,263.10 267.6,264.55 244.0,265.96 219.6,267.29 194.4,268.53 168.1,269.61 140.9,270.52 112.7,271.21 83.4,271.66 53.0,271.81Z" fill="#2ca02c"/>
<path d="M53.0,273.88 83.4,273.80 112.7,273.54 141.0,273.14 168.2,272.62 194.4,271.99 219.7,271.28 244.1,270.51 267.6,269.70 290.3,268.87 312.3,268.04 333.6,267.23 354.2,266.46 374.1,265.75 393.5,265.12 412.3,264.60 430.6,264.20 448.5,263.95 466.0,263.86 466.0,262.86 448.5,262.95 430.6,263.20 412.3,263.60 393.4,264.12 374.1,264.75 354.1,265.46 333.5,266.23 312.3,267.04 290.3,267.87 267.6,268.70 244.0,269.51 219.6,270.28 194.4,270.99 168.1,271.62 140.9,272.14 112.7,272.54 83.4,272.80 53.0,272.88Z" fill="#9467bd"/>
<path d="M53.0,278.19 83.4,277.98 112.7,277.37 141.0,276.42 168.2,275.17 194.4,273.68 219.7,271.99 244.1,270.15 267.6,268.22 290.4,266.23 312.3,264.25 333.6,262.31 354.2,260.47 374.1,258.78 393.5,257.29 412.3,256.04 430.7,255.09 448.5,254.49 466.0,254.27 466.0,253.27 448.5,253.49 430.6,254.09 412.3,255.04 393.4,256.29 374.1,257.79 354.1,259.48 333.5,261.31 312.3,263.25 290.3,265.23 267.5,267.22 244.0,269.16 219.6,270.99 194.3,272.68 168.1,274.17 140.9,275.42 112.7,276.37 83.4,276.98 53.0,277.19Z" fill="#d62728"/>
<path d="M53.0,278.82 83.4,278.69 112.7,278.33 141.0,277.77 168.2,277.04 194.4,276.15 219.7,275.16 244.1,274.07 267.6,272.93 290.4,271.76 312.3,270.59 333.6,269.45 354.2,268.36 374.1,267.37 393.5,266.49 412.3,265.75 430.6,265.19 448.5,264.83 466.0,264.71 466.0,263.71 448.5,263.83 430.6,264.19 412.3,264.75 393.4,265.49 374.1,266.37 354.1,267.37 333.5,268.45 312.3,269.59 290.3,270.76 267.6,271.93 244.0,273.07 219.6,274.16 194.4,275.16 168.1,276.04 140.9,276.77 112.7,277.33 83.4,277.69 53.0,277.82Z" fill="#ff7f0e"/>
<path d="M53.0,280.69 83.4,280.51 112.7,280.01 141.0,279.22 168.2,278.18 194.4,276.94 219.7,275.53 244.1,274.01 267.6,272.40 290.4,270.75 312.3,269.10 333.6,267.49 354.2,265.96 374.1,264.56 393.5,263.32 412.3,262.28 430.7,261.49 448.5,260.99 466.0,260.81 466.0,259.81 448.5,259.99 430.6,260.49 412.3,261.28 393.4,262.32 374.1,263.56 354.1,264.97 333.5,266.49 312.3,268.10 290.3,269.75 267.6,271.40 244.0,273.01 219.6,274.54 194.4,275.94 168.1,277.18 140.9,278.22 112.7,279.01 83.4,279.51 53.0,279.69Z" fill="#2ca02c"/>
<path d="M53.0,281.37 75.8,281.23 98.7,280.83 121.6,280.19 144.5,279.31 167.5,278.21 190.5,276.92 213.5,275.43 236.5,273.78 259.5,271.98 282.6,270.03 305.6,267.96 328.6,265.78 351.6,263.51 374.6,261.17 397.5,258.76 420.4,256.30 443.3,253.81 466.1,251.31 465.9,250.32 443.1,252.82 420.3,255.31 397.4,257.76 374.5,260.17 351.5,262.52 328.5,264.79 305.5,266.97 282.5,269.03 259.5,270.98 236.4,272.79 213.4,274.44 190.4,275.92 167.4,277.21 144.5,278.31 121.5,279.19 98.6,279.83 75.8,280.23 53.0,280.37Z" fill="#ff7f0e"/>
<path d="M53.0,283.92 83.4,283.85 112.7,283.65 141.0,283.34 168.2,282.93 194.4,282.44 219.7,281.89 244.1,281.28 267.6,280.65 290.3,280.00 312.3,279.35 333.6,278.72 354.2,278.11 374.1,277.56 393.5,277.07 412.3,276.66 430.6,276.35 448.5,276.15 466.0,276.08 466.0,275.08 448.5,275.15 430.6,275.35 412.3,275.66 393.5,276.07 374.1,276.56 354.1,277.12 333.5,277.72 312.3,278.35 290.3,279.00 267.6,279.65 244.0,280.28 219.7,280.89 194.4,281.44 168.1,281.93 140.9,282.34 112.7,282.65 83.4,282.85 53.0,282.92Z" fill="#d62728"/>
<path d="M53.0,285.01 83.4,284.82 112.7,284.29 141.0,283.45 168.2,282.36 194.4,281.04 219.7,279.56 244.1,277.94 267.6,276.24 290.4,274.50 312.3,272.75 333.6,271.05 354.2,269.44 374.1,267.95 393.5,266.64 412.3,265.54 430.7,264.71 448.5,264.17 466.0,263.99 466.0,262.99 448.5,263.17 430.6,263.71 412.3,264.54 393.4,265.64 374.1,266.95 354.1,268.44 333.5,270.05 312.3,271.76 290.3,273.50 267.6,275.24 244.0,276.95 219.6,278.56 194.4,280.05 168.1,281.36 140.9,282.45 112.7,283.29 83.4,283.82 53.0,284.01Z" fill="#9467bd"/>
<path d="M53.0,288.88 83.4,288.61 112.7,287.86 141.0,286.68 168.2,285.14 194.4,283.29 219.7,281.19 244.1,278.92 267.6,276.52 290.4,274.06 312.4,271.60 333.6,269.20 354.2,266.93 374.1,264.83 393.5,262.98 412.3,261.44 430.7,260.26 448.5,259.51 466.0,259.25 466.0,258.25 448.5,258.51 430.6,259.26 412.3,260.44 393.4,261.99 374.0,263.84 354.1,265.93 333.5,268.21 312.2,270.61 290.3,273.06 267.5,275.52 244.0,277.92 219.6,280.20 194.3,282.29 168.1,284.14 140.9,285.68 112.7,286.86 83.4,287.61 53.0,287.88Z" fill="#1f77b4"/>
<path d="M53.0,290.62 75.8,290.51 98.7,290.19 121.6,289.67 144.5,288.97 167.5,288.09 190.5,287.05 213.5,285.86 236.5,284.54 259.5,283.09 282.6,281.53 305.6,279.88 328.6,278.13 351.6,276.31 374.6,274.43 397.5,272.50 420.4,270.54 443.2,268.54 466.0,266.54 466.0,265.54 443.2,267.55 420.3,269.54 397.4,271.51 374.5,273.44 351.5,275.32 328.5,277.14 305.5,278.88 282.5,280.54 259.5,282.10 236.4,283.54 213.4,284.86 190.4,286.05 167.4,287.09 144.5,287.97 121.5,288.67 98.6,289.19 75.8,289.51 53.0,289.62Z" fill="#d62728"/>
<path d="M53.0,291.79 75.8,291.73 98.7,291.56 121.6,291.30 144.5,290.93 167.5,290.48 190.4,289.95 213.5,289.33 236.5,288.65 259.5,287.91 282.5,287.10 305.6,286.25 328.6,285.35 351.6,284.41 374.5,283.44 397.5,282.44 420.4,281.43 443.2,280.40 466.0,279.37 466.0,278.37 443.2,279.40 420.3,280.43 397.4,281.45 374.5,282.44 351.5,283.41 328.5,284.35 305.5,285.25 282.5,286.10 259.5,286.91 236.5,287.65 213.4,288.33 190.4,288.95 167.4,289.48 144.5,289.93 121.5,290.30 98.6,290.56 75.8,290.73 53.0,290.79Z" fill="#1f77b4"/>
<path d="M53.0,292.46 75.8,292.34 98.7,291.99 121.6,291.42 144.5,290.64 167.5,289.67 190.5,288.53 213.5,287.22 236.5,285.76 259.5,284.16 282.6,282.44 305.6,280.61 328.6,278.69 351.6,276.68 374.6,274.61 397.5,272.48 420.4,270.31 443.2,268.11 466.0,265.90 466.0,264.91 443.2,267.12 420.3,269.31 397.4,271.48 374.5,273.61 351.5,275.69 328.5,277.69 305.5,279.62 282.5,281.45 259.5,283.17 236.4,284.76 213.4,286.22 190.4,287.53 167.4,288.68 144.5,289.64 121.5,290.42 98.6,290.99 75.8,291.34 53.0,291.46Z" fill="#8c564b"/>
<path d="M53.0,294.42 83.4,294.23 112.7,293.69 141.0,292.85 168.2,291.75 194.4,290.43 219.7,288.93 244.1,287.31 267.6,285.60 290.4,283.84 312.3,282.09 333.6,280.37 354.2,278.75 374.1,277.26 393.5,275.94 412.3,274.83 430.7,273.99 448.5,273.46 466.0,273.27 466.0,272.27 448.5,272.46 430.6,272.99 412.3,273.83 393.4,274.94 374.1,276.26 354.1,277.75 333.5,279.38 312.3,281.09 290.3,282.85 267.6,284.60 244.0,286.31 219.6,287.94 194.4,289.43 168.1,290.75 140.9,291.85 112.7,292.69 83.4,293.23 53.0,293.42Z" fill="#8c564b"/>
<path d="M53.0,297.84 83.4,297.66 112.7,297.14 141.0,296.32 168.2,295.26 194.4,293.98 219.7,292.53 244.1,290.95 267.6,289.29 290.4,287.59 312.3,285.89 333.6,284.23 354.2,282.65 374.1,281.21 393.5,279.93 412.3,278.86 430.7,278.04 448.5,277.52 466.0,277.34 466.0,276.34 448.5,276.52 430.6,277.04 412.3,277.86 393.4,278.93 374.1,280.21 354.1,281.66 333.5,283.23 312.3,284.89 290.3,286.59 267.6,288.29 244.0,289.95 219.6,291.53 194.4,292.98 168.1,294.26 140.9,295.32 112.7,296.14 83.4,296.66 53.0,296.84Z" fill="#9467bd"/>
<path d="M53.0,298.46 83.4,298.22 112.7,297.55 141.0,296.50 168.2,295.12 194.4,293.46 219.7,291.59 244.1,289.56 267.6,287.41 290.4,285.22 312.3,283.02 333.6,280.88 354.2,278.84 374.1,276.97 393.5,275.32 412.3,273.94 430.7,272.89 448.5,272.22 466.0,271.98 466.0,270.98 448.5,271.22 430.6,271.89 412.3,272.94 393.4,274.32 374.0,275.98 354.1,277.85 333.5,279.88 312.2,282.03 290.3,284.22 267.5,286.42 244.0,288.56 219.6,290.60 194.3,292.47 168.1,294.12 140.9,295.50 112.7,296.55 83.4,297.22 53.0,297.46Z" fill="#e377c2"/>
<path d="M53.0,299.60 75.8,299.51 98.7,299.22 121.6,298.76 144.5,298.13 167.5,297.34 190.5,296.41 213.5,295.35 236.5,294.16 259.5,292.87 282.6,291.47 305.6,289.99 328.6,288.43 351.6,286.80 374.6,285.12 397.5,283.39 420.4,281.63 443.2,279.85 466.0,278.05 466.0,277.06 443.2,278.85 420.3,280.63 397.4,282.39 374.5,284.12 351.5,285.80 328.5,287.43 305.5,288.99 282.5,290.48 259.5,291.87 236.4,293.17 213.4,294.35 190.4,295.41 167.4,296.34 144.5,297.13 121.5,297.76 98.6,298.22 75.8,298.51 53.0,298.60Z" fill="#d62728"/>
<path d="M53.0,301.68 77.8,301.43 101.9,300.70 125.5,299.57 148.5,298.09 171.2,296.32 193.6,294.31 215.7,292.13 237.7,289.83 259.6,287.47 281.4,285.11 303.4,282.82 325.5,280.63 347.9,278.63 370.5,276.85 393.6,275.37 417.1,274.24 441.3,273.52 466.0,273.27 466.0,272.27 441.2,272.52 417.1,273.25 393.5,274.38 370.5,275.86 347.8,277.63 325.4,279.64 303.3,281.82 281.3,284.12 259.4,286.48 237.6,288.84 215.6,291.13 193.5,293.32 171.1,295.32 148.5,297.09 125.4,298.58 101.9,299.70 77.7,300.43 53.0,300.68Z" fill="#8c564b"/>
<path d="M53.0,303.60 75.8,303.53 98.7,303.32 121.6,302.97 144.5,302.50 167.5,301.92 190.5,301.23 213.5,300.43 236.5,299.55 259.5,298.59 282.6,297.55 305.6,296.44 328.6,295.28 351.6,294.07 374.5,292.81 397.5,291.53 420.4,290.21 443.2,288.89 466.0,287.55 466.0,286.55 443.2,287.89 420.3,289.22 397.4,290.53 374.5,291.81 351.5,293.07 328.5,294.28 305.5,295.44 282.5,296.55 259.5,297.59 236.5,298.55 213.4,299.43 190.4,300.23 167.4,300.92 144.5,301.50 121.5,301.97 98.6,302.32 75.8,302.53 53.0,302.60Z" fill="#8c564b"/>
<path d="M53.0,305.26 76.0,303.49 99.0,301.73 122.0,299.96 144.9,298.20 167.8,296.43 190.8,294.67 213.7,292.91 236.6,291.14 259.5,289.38 282.5,287.61 305.4,285.85 328.3,284.08 351.2,282.32 374.2,280.55 397.1,278.79 420.1,277.02 443.0,275.26 466.0,273.49 466.0,272.50 443.0,274.26 420.0,276.03 397.0,277.79 374.1,279.56 351.2,281.32 328.2,283.09 305.3,284.85 282.4,286.61 259.5,288.38 236.5,290.14 213.6,291.91 190.7,293.67 167.8,295.44 144.8,297.20 121.9,298.97 98.9,300.73 76.0,302.50 53.0,304.26Z" fill="#1f77b4"/>
<path d="M53.0,308.21 76.0,306.88 99.0,305.55 122.0,304.22 144.9,302.89 167.8,301.56 190.8,300.23 213.7,298.90 236.6,297.57 259.5,296.24 282.4,294.91 305.4,293.58 328.3,292.25 351.2,290.92 374.2,289.59 397.1,288.26 420.1,286.93 443.0,285.60 466.0,284.27 466.0,283.27 443.0,284.60 420.0,285.93 397.0,287.26 374.1,288.59 351.2,289.92 328.2,291.25 305.3,292.58 282.4,293.91 259.5,295.24 236.6,296.57 213.6,297.90 190.7,299.23 167.8,300.56 144.8,301.89 121.9,303.22 98.9,304.55 76.0,305.88 53.0,307.21Z" fill="#ff7f0e"/>
<path d="M53.0,309.48 77.8,309.20 101.9,308.39 125.5,307.12 148.5,305.47 171.2,303.48 193.6,301.23 215.7,298.79 237.7,296.22 259.6,293.58 281.4,290.94 303.4,288.37 325.5,285.93 347.9,283.68 370.5,281.70 393.6,280.04 417.2,278.78 441.3,277.97 466.0,277.69 466.0,276.69 441.2,276.97 417.1,277.78 393.5,279.04 370.5,280.70 347.8,282.69 325.4,284.93 303.3,287.37 281.3,289.95 259.4,292.59 237.6,295.23 215.6,297.80 193.5,300.24 171.1,302.49 148.5,304.47 125.4,306.13 101.8,307.39 77.7,308.20 53.0,308.48Z" fill="#2ca02c"/>
<path d="M53.0,310.15 76.0,308.97 99.0,307.78 122.0,306.60 144.9,305.41 167.8,304.23 190.8,303.04 213.7,301.86 236.6,300.67 259.5,299.49 282.4,298.31 305.4,297.12 328.3,295.94 351.2,294.75 374.2,293.57 397.1,292.38 420.1,291.20 443.0,290.02 466.0,288.83 466.0,287.83 443.0,289.02 420.0,290.20 397.0,291.39 374.1,292.57 351.2,293.75 328.2,294.94 305.3,296.12 282.4,297.31 259.5,298.49 236.6,299.68 213.6,300.86 190.7,302.05 167.8,303.23 144.8,304.41 121.9,305.60 98.9,306.78 76.0,307.97 53.0,309.15Z" fill="#ff7f0e"/>
<path d="M53.0,312.58 77.8,312.30 101.9,311.49 125.5,310.23 148.5,308.57 171.2,306.58 193.6,304.33 215.7,301.89 237.7,299.31 259.6,296.67 281.4,294.03 303.4,291.46 325.5,289.02 347.9,286.77 370.5,284.78 393.6,283.13 417.2,281.86 441.3,281.05 466.0,280.77 466.0,279.77 441.2,280.05 417.1,280.86 393.5,282.13 370.5,283.79 347.8,285.77 325.4,288.02 303.3,290.47 281.3,293.04 259.4,295.68 237.6,298.32 215.6,300.90 193.5,303.34 171.1,305.59 148.5,307.57 125.4,309.23 101.8,310.49 77.7,311.30 53.0,311.58Z" fill="#9467bd"/>
<path d="M53.0,315.39 76.0,313.74 99.0,312.08 122.0,310.43 144.9,308.77 167.8,307.12 190.8,305.46 213.7,303.81 236.6,302.15 259.5,300.50 282.5,298.84 305.4,297.19 328.3,295.53 351.2,293.88 374.2,292.22 397.1,290.57 420.1,288.91 443.0,287.26 466.0,285.60 466.0,284.60 443.0,286.26 420.0,287.91 397.0,289.57 374.1,291.22 351.2,292.88 328.2,294.53 305.3,296.19 282.4,297.85 259.5,299.50 236.5,301.16 213.6,302.81 190.7,304.47 167.8,306.12 144.8,307.78 121.9,309.43 98.9,311.09 76.0,312.74 53.0,314.40Z" fill="#8c564b"/>
<path d="M53.0,316.25 76.0,314.96 99.0,313.67 122.0,312.39 144.9,311.10 167.8,309.81 190.8,308.52 213.7,307.23 236.6,305.94 259.5,304.65 282.4,303.36 305.4,302.07 328.3,300.78 351.2,299.49 374.2,298.21 397.1,296.92 420.1,295.63 443.0,294.34 466.0,293.05 466.0,292.05 443.0,293.34 420.0,294.63 397.0,295.92 374.1,297.21 351.2,298.50 328.2,299.79 305.3,301.07 282.4,302.36 259.5,303.65 236.6,304.94 213.6,306.23 190.7,307.52 167.8,308.81 144.8,310.10 121.9,311.39 98.9,312.68 76.0,313.97 53.0,315.25Z" fill="#7f7f7f"/>
<path d="M53.0,319.14 77.8,318.83 101.9,317.97 125.5,316.62 148.5,314.84 171.2,312.72 193.6,310.31 215.7,307.70 237.7,304.94 259.6,302.12 281.4,299.29 303.4,296.54 325.5,293.92 347.9,291.52 370.5,289.40 393.6,287.62 417.2,286.27 441.3,285.41 466.0,285.10 466.0,284.10 441.2,284.41 417.1,285.27 393.5,286.63 370.5,288.40 347.8,290.53 325.4,292.93 303.3,295.55 281.3,298.30 259.4,301.13 237.6,303.95 215.6,306.70 193.5,309.32 171.1,311.72 148.5,313.84 125.4,315.62 101.8,316.97 77.7,317.83 53.0,318.14Z" fill="#8c564b"/>
<path d="M53.0,321.10 77.8,320.77 101.9,319.84 125.5,318.37 148.6,316.44 171.2,314.14 193.6,311.53 215.7,308.70 237.7,305.71 259.6,302.65 281.4,299.59 303.4,296.60 325.5,293.77 347.9,291.17 370.5,288.86 393.6,286.94 417.2,285.47 441.3,284.54 466.0,284.21 466.0,283.21 441.2,283.54 417.1,284.48 393.5,285.94 370.4,287.87 347.8,290.17 325.4,292.78 303.3,295.61 281.3,298.60 259.4,301.66 237.6,304.72 215.6,307.71 193.5,310.54 171.1,313.15 148.5,315.45 125.4,317.37 101.8,318.84 77.7,319.77 53.0,320.10Z" fill="#d62728"/>
<path d="M53.0,321.97 75.8,321.84 98.7,321.47 121.6,320.86 144.5,320.04 167.5,319.01 190.5,317.80 213.5,316.41 236.5,314.87 259.5,313.17 282.6,311.35 305.6,309.42 328.6,307.38 351.6,305.25 374.6,303.05 397.5,300.80 420.4,298.50 443.3,296.17 466.1,293.83 465.9,292.83 443.1,295.17 420.3,297.50 397.4,299.80 374.5,302.06 351.5,304.26 328.5,306.38 305.5,308.42 282.5,310.36 259.5,312.18 236.4,313.87 213.4,315.41 190.4,316.80 167.4,318.01 144.5,319.04 121.5,319.86 98.6,320.47 75.8,320.84 53.0,320.97Z" fill="#d62728"/>
<path d="M53.0,323.37 76.0,321.78 99.0,320.19 122.0,318.60 144.9,317.01 167.8,315.42 190.8,313.83 213.7,312.24 236.6,310.65 259.5,309.06 282.5,307.47 305.4,305.88 328.3,304.29 351.2,302.70 374.2,301.11 397.1,299.52 420.1,297.93 443.0,296.34 466.0,294.75 466.0,293.75 443.0,295.34 420.0,296.93 397.0,298.52 374.1,300.11 351.2,301.70 328.2,303.29 305.3,304.88 282.4,306.47 259.5,308.06 236.5,309.65 213.6,311.24 190.7,312.83 167.8,314.42 144.8,316.01 121.9,317.60 98.9,319.19 76.0,320.78 53.0,322.37Z" fill="#ff7f0e"/>
<path d="M53.0,325.65 77.8,325.30 101.9,324.30 125.5,322.74 148.6,320.69 171.2,318.23 193.6,315.46 215.7,312.44 237.7,309.26 259.6,306.00 281.5,302.74 303.4,299.56 325.5,296.55 347.9,293.77 370.5,291.32 393.6,289.28 417.2,287.71 441.3,286.72 466.0,286.37 466.0,285.37 441.2,285.72 417.1,286.72 393.5,288.28 370.4,290.33 347.8,292.78 325.4,295.56 303.3,298.57 281.3,301.75 259.4,305.01 237.5,308.27 215.6,311.45 193.5,314.47 171.1,317.24 148.5,319.69 125.4,321.74 101.8,323.30 77.7,324.30 53.0,324.65Z" fill="#7f7f7f"/>
<path d="M53.0,319.44 75.8,319.34 98.7,319.05 121.6,318.58 144.5,317.95 167.5,317.15 190.5,316.21 213.5,315.14 236.5,313.94 259.5,312.63 282.6,311.22 305.6,309.72 328.6,308.14 351.6,306.49 374.6,304.79 397.5,303.04 420.4,301.26 443.2,299.46 466.0,297.64 466.0,296.65 443.2,298.46 420.3,300.26 397.4,302.04 374.5,303.79 351.5,305.49 328.5,307.14 305.5,308.72 282.5,310.22 259.5,311.63 236.4,312.94 213.4,314.14 190.4,315.21 167.4,316.15 144.5,316.95 121.5,317.58 98.6,318.05 75.8,318.34 53.0,318.44Z" fill="#9467bd"/>
<path d="M53.0,323.14 75.8,323.04 98.7,322.73 121.6,322.24 144.5,321.58 167.5,320.75 190.5,319.77 213.5,318.65 236.5,317.40 259.5,316.03 282.6,314.56 305.6,312.99 328.6,311.35 351.6,309.63 374.6,307.85 397.5,306.03 420.4,304.17 443.2,302.29 466.0,300.39 466.0,299.40 443.2,301.29 420.3,303.17 397.4,305.03 374.5,306.85 351.5,308.63 328.5,310.35 305.5,312.00 282.5,313.56 259.5,315.03 236.4,316.40 213.4,317.65 190.4,318.77 167.4,319.75 144.5,320.58 121.5,321.24 98.6,321.73 75.8,322.04 53.0,322.14Z" fill="#d62728"/>
<path d="M53.0,325.15 75.8,325.06 98.7,324.79 121.6,324.36 144.5,323.76 167.5,323.03 190.5,322.15 213.5,321.15 236.5,320.04 259.5,318.82 282.6,317.51 305.6,316.12 328.6,314.65 351.6,313.12 374.6,311.54 397.5,309.91 420.4,308.26 443.2,306.58 466.0,304.90 466.0,303.90 443.2,305.59 420.3,307.26 397.4,308.92 374.5,310.54 351.5,312.12 328.5,313.65 305.5,315.12 282.5,316.51 259.5,317.83 236.4,319.04 213.4,320.16 190.4,321.15 167.4,322.03 144.5,322.77 121.5,323.36 98.6,323.79 75.8,324.06 53.0,324.15Z" fill="#9467bd"/>
<path d="M53.0,328.58 75.8,328.48 98.7,328.19 121.6,327.73 144.5,327.10 167.5,326.32 190.5,325.39 213.5,324.33 236.5,323.15 259.5,321.86 282.6,320.47 305.6,318.99 328.6,317.43 351.6,315.81 374.6,314.13 397.5,312.41 420.4,310.65 443.2,308.87 466.0,307.08 466.0,306.09 443.2,307.88 420.3,309.65 397.4,311.41 374.5,313.13 351.5,314.81 328.5,316.43 305.5,317.99 282.5,319.47 259.5,320.86 236.4,322.15 213.4,323.33 190.4,324.39 167.4,325.32 144.5,326.10 121.5,326.73 98.6,327.19 75.8,327.48 53.0,327.58Z" fill="#d62728"/>
<path d="M53.0,332.89 75.8,332.78 98.7,332.46 121.6,331.94 144.5,331.23 167.5,330.35 190.5,329.31 213.5,328.12 236.5,326.79 259.5,325.33 282.6,323.77 305.6,322.11 328.6,320.35 351.6,318.53 374.6,316.64 397.5,314.70 420.4,312.73 443.2,310.73 466.0,308.72 466.0,307.72 443.2,309.73 420.3,311.73 397.4,313.71 374.5,315.64 351.5,317.53 328.5,319.36 305.5,321.11 282.5,322.77 259.5,324.34 236.4,325.79 213.4,327.12 190.4,328.31 167.4,329.35 144.5,330.23 121.5,330.94 98.6,331.46 75.8,331.78 53.0,331.89Z" fill="#d62728"/>
<path d="M53.0,340.31 75.8,340.18 98.7,339.78 121.6,339.14 144.5,338.26 167.5,337.18 190.5,335.89 213.5,334.42 236.5,332.77 259.5,330.98 282.6,329.05 305.6,326.99 328.6,324.83 351.6,322.57 374.6,320.24 397.5,317.85 420.4,315.41 443.3,312.94 466.1,310.45 465.9,309.46 443.1,311.94 420.3,314.41 397.4,316.85 374.5,319.25 351.5,321.58 328.5,323.83 305.5,326.00 282.5,328.05 259.5,329.98 236.4,331.78 213.4,333.42 190.4,334.89 167.4,336.18 144.5,337.26 121.5,338.14 98.6,338.78 75.8,339.18 53.0,339.31Z" fill="#2ca02c"/>
<path d="M53.0,343.60 75.8,343.46 98.7,343.07 121.6,342.44 144.5,341.59 167.5,340.52 190.5,339.25 213.5,337.81 236.5,336.19 259.5,334.43 282.6,332.53 305.6,330.51 328.6,328.39 351.6,326.17 374.6,323.88 397.5,321.53 420.4,319.13 443.3,316.71 466.1,314.27 465.9,313.27 443.1,315.71 420.3,318.14 397.4,320.54 374.5,322.89 351.5,325.18 328.5,327.39 305.5,329.52 282.5,331.54 259.5,333.43 236.4,335.20 213.4,336.81 190.4,338.25 167.4,339.52 144.5,340.59 121.5,341.44 98.6,342.07 75.8,342.46 53.0,342.60Z" fill="#ff7f0e"/>
<path d="M53.0,346.22 75.8,346.09 98.7,345.70 121.6,345.07 144.5,344.21 167.5,343.14 190.5,341.88 213.5,340.44 236.5,338.83 259.5,337.07 282.6,335.18 305.6,333.16 328.6,331.04 351.6,328.83 374.6,326.55 397.5,324.20 420.4,321.81 443.3,319.39 466.1,316.95 465.9,315.96 443.1,318.39 420.3,320.81 397.4,323.20 374.5,325.55 351.5,327.84 328.5,330.05 305.5,332.17 282.5,334.18 259.5,336.07 236.4,337.83 213.4,339.44 190.4,340.88 167.4,342.15 144.5,343.21 121.5,344.07 98.6,344.70 75.8,345.09 53.0,345.22Z" fill="#2ca02c"/>
<path d="M53.0,351.51 75.8,351.36 98.7,350.91 121.6,350.20 144.5,349.23 167.5,348.02 190.5,346.58 213.5,344.94 236.5,343.12 259.5,341.12 282.6,338.97 305.6,336.68 328.6,334.27 351.6,331.76 374.6,329.17 397.5,326.50 420.4,323.79 443.3,321.04 466.1,318.27 465.9,317.28 443.1,320.04 420.3,322.79 397.4,325.51 374.5,328.17 351.5,330.77 328.5,333.28 305.5,335.69 282.5,337.97 259.5,340.12 236.4,342.12 213.4,343.95 190.4,345.58 167.4,347.02 144.5,348.23 121.5,349.20 98.6,349.91 75.8,350.36 53.0,350.51Z" fill="#e377c2"/>
<path d="M53.0,224.30 83.4,224.55 112.7,225.27 140.9,226.39 168.1,227.86 194.3,229.62 219.6,231.61 244.0,233.78 267.5,236.06 290.3,238.40 312.2,240.74 333.5,243.02 354.1,245.19 374.0,247.18 393.4,248.94 412.3,250.41 430.6,251.53 448.5,252.25 466.0,252.50 466.0,251.50 448.5,251.25 430.7,250.53 412.3,249.41 393.5,247.94 374.1,246.18 354.2,244.19 333.6,242.03 312.4,239.74 290.4,237.40 267.6,235.06 244.1,232.78 219.7,230.61 194.4,228.62 168.2,226.86 141.0,225.39 112.7,224.27 83.4,223.55 53.0,223.30Z" fill="#8c564b"/>
<path d="M53.0,225.50 83.4,225.64 112.7,226.05 140.9,226.69 168.1,227.52 194.4,228.52 219.6,229.65 244.0,230.88 267.6,232.17 290.3,233.50 312.3,234.83 333.5,236.12 354.1,237.35 374.1,238.48 393.4,239.48 412.3,240.31 430.6,240.95 448.5,241.36 466.0,241.50 466.0,240.50 448.5,240.36 430.6,239.95 412.3,239.32 393.5,238.48 374.1,237.48 354.2,236.35 333.6,235.12 312.3,233.83 290.4,232.50 267.6,231.17 244.1,229.88 219.7,228.65 194.4,227.52 168.2,226.52 141.0,225.69 112.7,225.05 83.4,224.64 53.0,224.50Z" fill="#9467bd"/>
<path d="M53.0,226.70 83.4,226.84 112.7,227.25 140.9,227.89 168.1,228.73 194.4,229.74 219.6,230.87 244.0,232.11 267.6,233.41 290.3,234.75 312.3,236.09 333.5,237.39 354.1,238.63 374.1,239.76 393.4,240.77 412.3,241.61 430.6,242.25 448.5,242.66 466.0,242.80 466.0,241.80 448.5,241.66 430.6,241.25 412.3,240.61 393.5,239.77 374.1,238.76 354.2,237.63 333.6,236.39 312.3,235.09 290.4,233.75 267.6,232.41 244.1,231.11 219.7,229.87 194.4,228.74 168.2,227.73 141.0,226.89 112.7,226.25 83.4,225.84 53.0,225.70Z" fill="#8c564b"/>
<path d="M53.0,227.90 83.4,228.15 112.7,228.88 140.9,230.02 168.1,231.51 194.3,233.29 219.6,235.31 244.0,237.51 267.5,239.82 290.3,242.20 312.2,244.57 333.5,246.89 354.1,249.08 374.0,251.10 393.4,252.89 412.3,254.38 430.6,255.52 448.5,256.24 466.0,256.50 466.0,255.50 448.5,255.25 430.7,254.52 412.3,253.38 393.5,251.89 374.1,250.11 354.2,248.09 333.6,245.89 312.4,243.58 290.4,241.20 267.6,238.83 244.1,236.51 219.7,234.32 194.4,232.30 168.2,230.51 141.0,229.02 112.7,227.88 83.4,227.16 53.0,226.90Z" fill="#9467bd"/>
<path d="M53.0,229.10 83.4,229.27 112.7,229.76 140.9,230.52 168.1,231.52 194.4,232.72 219.6,234.08 244.0,235.55 267.6,237.11 290.3,238.70 312.3,240.29 333.5,241.85 354.1,243.32 374.1,244.68 393.4,245.88 412.3,246.88 430.6,247.64 448.5,248.13 466.0,248.30 466.0,247.30 448.5,247.13 430.7,246.64 412.3,245.88 393.5,244.88 374.1,243.68 354.2,242.32 333.6,240.85 312.3,239.29 290.4,237.70 267.6,236.11 244.1,234.55 219.7,233.08 194.4,231.72 168.2,230.52 141.0,229.52 112.7,228.76 83.4,228.27 53.0,228.10Z" fill="#e377c2"/>
<path d="M53.1,369.39 75.9,364.23 98.8,359.11 121.7,354.06 144.6,349.10 167.5,344.26 190.5,339.59 213.5,335.10 236.6,330.84 259.6,326.84 282.6,323.12 305.6,319.72 328.6,316.67 351.6,314.00 374.6,311.74 397.5,309.93 420.4,308.60 443.2,307.78 466.0,307.50 466.0,306.50 443.2,306.78 420.3,307.60 397.4,308.94 374.5,310.75 351.5,313.00 328.5,315.67 305.5,318.73 282.5,322.13 259.4,325.85 236.4,329.86 213.4,334.12 190.3,338.61 167.3,343.28 144.4,348.12 121.4,353.08 98.5,358.14 75.7,363.26 52.9,368.41Z" fill="#ff7f0e"/>
<path d="M53.1,369.10 76.1,366.31 99.0,363.53 122.0,360.75 144.9,357.96 167.9,355.18 190.8,352.40 213.7,349.61 236.6,346.83 259.6,344.05 282.5,341.26 305.4,338.48 328.3,335.70 351.2,332.91 374.2,330.13 397.1,327.35 420.1,324.56 443.1,321.78 466.1,319.00 465.9,318.00 442.9,320.79 420.0,323.57 397.0,326.35 374.1,329.14 351.1,331.92 328.2,334.70 305.3,337.49 282.4,340.27 259.4,343.05 236.5,345.84 213.6,348.62 190.7,351.40 167.8,354.19 144.8,356.97 121.9,359.75 98.9,362.54 75.9,365.32 52.9,368.10Z" fill="#1f77b4"/>
<path d="M53.1,369.39 75.9,366.11 98.7,362.90 121.6,359.76 144.5,356.70 167.5,353.70 190.5,350.79 213.5,347.95 236.5,345.18 259.6,342.50 282.6,339.89 305.6,337.36 328.6,334.92 351.6,332.55 374.6,330.27 397.5,328.08 420.4,325.96 443.2,323.94 466.0,322.00 466.0,321.00 443.2,322.94 420.3,324.97 397.4,327.08 374.5,329.28 351.5,331.56 328.5,333.92 305.5,336.37 282.5,338.90 259.4,341.50 236.4,344.19 213.4,346.95 190.4,349.79 167.4,352.71 144.4,355.70 121.5,358.77 98.6,361.91 75.7,365.12 52.9,368.41Z" fill="#2ca02c"/>
</g>
<g clip-path="url(#cb)" fill="none" stroke-linejoin="miter" stroke-miterlimit="4">
<polyline points="526.4,14.6 527.3,18.5 526.5,22.5 527.3,26.4 526.4,30.4 526.4,34.3 526.4,38.2 526.4,42.2 526.4,46.1 526.4,50.1 526.4,54.0 527.3,57.9 527.5,61.9 528.1,65.8 528.1,69.8 528.6,73.7 529.5,77.6 528.7,81.6 528.0,85.5 527.6,89.5 527.5,93.4 528.2,97.3 528.8,101.3 529.3,105.2 530.7,109.2 529.1,113.1 527.4,117.0 529.2,121.0 529.6,124.9 530.0,128.9 529.7,132.8 530.2,136.7 530.5,140.7 531.8,144.6 530.7,148.6 528.6,152.5 527.3,156.4 526.5,160.4 527.7,164.3 529.1,168.3 531.6,172.2 531.7,176.1 531.4,180.1 529.3,184.0 529.7,188.0 528.1,191.9 527.3,195.8 527.3,199.8 527.3,203.7 526.5,207.7 526.5,211.6 526.4,215.5 526.4,219.5 527.3,223.4 528.2,227.4 528.3,231.3 529.4,235.2 530.4,239.2 531.1,243.1 531.6,247.1 531.3,251.0 531.0,254.9 531.1,258.9 531.6,262.8 531.9,266.8 534.6,270.7 534.2,274.6 533.4,278.6 532.3,282.5 531.3,286.5 532.4,290.4 533.4,294.3 533.8,298.3 531.4,302.2 529.3,306.2 528.8,310.1 528.7,314.0 529.3,318.0 534.6,321.9 533.3,325.9 532.5,329.8 531.1,333.7 530.6,337.7 529.5,341.6 527.3,345.6 527.3,349.5 527.3,353.4 527.3,357.4 527.3,361.3 527.3,365.3 527.3,369.2" stroke="#1f77b4" stroke-width="1.6"/>
<polyline points="526.4,14.6 527.3,18.5 526.5,22.5 527.3,26.4 526.5,30.4 526.4,34.3 526.4,38.2 526.4,42.2 526.4,46.1 526.4,50.1 526.4,54.0 527.3,57.9 527.3,61.9 527.4,65.8 527.8,69.8 528.4,73.7 529.3,77.6 528.6,81.6 527.9,85.5 527.4,89.5 527.3,93.4 528.3,97.3 528.6,101.3 528.8,105.2 530.2,109.2 529.8,113.1 528.3,117.0 532.4,121.0 533.9,124.9 532.5,128.9 529.2,132.8 528.1,136.7 529.4,140.7 531.4,144.6 530.7,148.6 528.8,152.5 527.3,156.4 526.4,160.4 527.3,164.3 527.5,168.3 529.1,172.2 530.0,176.1 530.6,180.1 529.2,184.0 530.1,188.0 529.2,191.9 527.7,195.8 527.3,199.8 527.3,203.7 526.5,207.7 526.5,211.6 526.4,215.5 526.4,219.5 527.3,223.4 527.7,227.4 528.4,231.3 529.4,235.2 530.2,239.2 530.8,243.1 531.3,247.1 533.4,251.0 535.0,254.9 534.6,258.9 534.8,262.8 533.0,266.8 535.6,270.7 536.7,274.6 537.6,278.6 537.5,282.5 534.5,286.5 533.9,290.4 532.7,294.3 532.9,298.3 532.6,302.2 532.7,306.2 531.8,310.1 531.4,314.0 529.3,318.0 529.2,321.9 528.7,325.9 533.2,329.8 532.3,333.7 528.6,337.7 527.8,341.6 527.5,345.6 527.4,349.5 528.4,353.4 528.0,357.4 527.6,361.3 527.5,365.3 527.4,369.2" stroke="#ff7f0e" stroke-width="1.6"/>
<polyline points="526.4,14.6 527.9,18.5 526.6,22.5 527.4,26.4 526.5,30.4 526.4,34.3 526.4,38.2 526.4,42.2 526.4,46.1 526.4,50.1 526.4,54.0 527.2,57.9 531.1,61.9 531.3,65.8 528.1,69.8 531.3,73.7 536.0,77.6 535.2,81.6 531.9,85.5 529.8,89.5 528.5,93.4 529.0,97.3 529.3,101.3 533.8,105.2 544.5,109.2 537.3,113.1 530.2,117.0 533.2,121.0 529.2,124.9 537.3,128.9 539.8,132.8 544.4,136.7 542.9,140.7 545.0,144.6 536.0,148.6 528.3,152.5 527.3,156.4 526.5,160.4 531.4,164.3 528.8,168.3 539.8,172.2 551.0,176.1 548.3,180.1 538.4,184.0 539.5,188.0 533.2,191.9 528.7,195.8 527.3,199.8 526.7,203.7 526.5,207.7 526.5,211.6 526.5,215.5 526.4,219.5 527.2,223.4 532.1,227.4 540.0,231.3 542.7,235.2 543.7,239.2 543.8,243.1 543.4,247.1 546.9,251.0 552.9,254.9 553.2,258.9 555.4,262.8 539.7,266.8 552.9,270.7 558.0,274.6 562.2,278.6 563.2,282.5 556.9,286.5 553.9,290.4 548.4,294.3 539.8,298.3 542.6,302.2 546.2,306.2 563.3,310.1 560.6,314.0 564.4,318.0 553.5,321.9 549.1,325.9 546.4,329.8 535.0,333.7 534.0,337.7 532.0,341.6 535.1,345.6 534.2,349.5 532.0,353.4 528.2,357.4 527.8,361.3 527.6,365.3 529.6,369.2" stroke="#2ca02c" stroke-width="1.6"/>
<polyline points="526.4,14.6 527.9,18.5 526.6,22.5 528.4,26.4 526.5,30.4 526.4,34.3 526.4,38.2 526.4,42.2 526.4,46.1 526.4,50.1 526.4,54.0 526.7,57.9 527.7,61.9 534.6,65.8 535.7,69.8 536.5,73.7 538.2,77.6 534.0,81.6 530.7,85.5 528.5,89.5 531.1,93.4 535.6,97.3 529.9,101.3 532.1,105.2 538.5,109.2 538.3,113.1 531.7,117.0 537.9,121.0 535.0,124.9 549.1,128.9 538.1,132.8 533.1,136.7 531.7,140.7 531.4,144.6 529.7,148.6 527.7,152.5 527.5,156.4 526.5,160.4 530.7,164.3 533.0,168.3 537.1,172.2 534.8,176.1 537.9,180.1 535.0,184.0 538.5,188.0 534.4,191.9 530.1,195.8 528.6,199.8 527.7,203.7 526.5,207.7 526.5,211.6 526.5,215.5 526.4,219.5 526.8,223.4 535.5,227.4 538.3,231.3 535.6,235.2 531.5,239.2 536.4,243.1 540.5,247.1 541.8,251.0 544.3,254.9 542.4,258.9 541.3,262.8 547.8,266.8 565.3,270.7 565.3,274.6 559.3,278.6 546.7,282.5 536.7,286.5 536.4,290.4 535.4,294.3 533.3,298.3 542.4,302.2 533.0,306.2 556.4,310.1 554.2,314.0 557.2,318.0 536.4,321.9 558.5,325.9 554.7,329.8 546.6,333.7 544.2,337.7 532.2,341.6 536.9,345.6 528.0,349.5 531.8,353.4 530.6,357.4 529.7,361.3 528.1,365.3 529.9,369.2" stroke="#d62728" stroke-width="1.6"/>
<polyline points="526.4,14.6 527.2,18.5 526.6,22.5 529.2,26.4 526.5,30.4 526.4,34.3 526.4,38.2 526.4,42.2 526.4,46.1 526.4,50.1 526.4,54.0 527.6,57.9 529.8,61.9 529.1,65.8 533.5,69.8 538.7,73.7 538.2,77.6 532.0,81.6 529.3,85.5 530.2,89.5 532.4,93.4 536.1,97.3 534.2,101.3 531.2,105.2 536.6,109.2 536.6,113.1 532.4,117.0 547.0,121.0 541.0,124.9 533.3,128.9 541.8,132.8 544.0,136.7 536.8,140.7 531.5,144.6 530.3,148.6 528.4,152.5 526.9,156.4 526.5,160.4 527.5,164.3 528.3,168.3 531.1,172.2 532.6,176.1 532.9,180.1 530.5,184.0 536.4,188.0 531.6,191.9 528.2,195.8 527.1,199.8 526.6,203.7 526.5,207.7 526.5,211.6 526.5,215.5 526.4,219.5 527.9,223.4 528.2,227.4 534.8,231.3 541.8,235.2 538.7,239.2 535.1,243.1 537.1,247.1 542.6,251.0 551.9,254.9 556.9,258.9 551.0,262.8 542.7,266.8 536.7,270.7 555.1,274.6 565.3,278.6 552.1,282.5 537.2,286.5 545.5,290.4 555.1,294.3 563.2,298.3 552.9,302.2 561.7,306.2 534.2,310.1 533.7,314.0 541.6,318.0 565.3,321.9 536.9,325.9 535.6,329.8 534.4,333.7 548.4,337.7 529.8,341.6 529.1,345.6 528.8,349.5 533.7,353.4 532.1,357.4 530.4,361.3 527.9,365.3 529.3,369.2" stroke="#9467bd" stroke-width="1.6"/>
<polyline points="526.4,14.6 527.7,18.5 526.5,22.5 529.5,26.4 526.5,30.4 526.4,34.3 526.4,38.2 526.4,42.2 526.4,46.1 526.4,50.1 526.4,54.0 526.7,57.9 527.6,61.9 529.6,65.8 531.3,69.8 533.2,73.7 536.4,77.6 534.8,81.6 530.8,85.5 528.1,89.5 529.9,93.4 533.1,97.3 536.3,101.3 538.9,105.2 541.3,109.2 534.6,113.1 528.8,117.0 538.0,121.0 544.7,124.9 553.0,128.9 541.6,132.8 537.0,136.7 532.8,140.7 529.7,144.6 534.7,148.6 534.2,152.5 527.7,156.4 526.5,160.4 527.8,164.3 534.3,168.3 540.1,172.2 538.4,176.1 534.3,180.1 532.9,184.0 536.1,188.0 532.0,191.9 528.7,195.8 527.5,199.8 526.9,203.7 526.5,207.7 526.5,211.6 526.5,215.5 526.4,219.5 526.9,223.4 531.6,227.4 540.6,231.3 548.1,235.2 543.5,239.2 538.3,243.1 533.4,247.1 542.3,251.0 533.4,254.9 539.4,258.9 547.1,262.8 554.5,266.8 558.9,270.7 549.1,274.6 540.3,278.6 532.1,282.5 540.0,286.5 552.1,290.4 565.3,294.3 542.0,298.3 547.9,302.2 541.4,306.2 539.1,310.1 559.1,314.0 562.7,318.0 556.5,321.9 537.7,325.9 550.4,329.8 547.2,333.7 542.9,337.7 530.2,341.6 529.5,345.6 530.4,349.5 529.3,353.4 532.7,357.4 528.4,361.3 529.3,365.3 530.2,369.2" stroke="#8c564b" stroke-width="1.6"/>
<polyline points="526.4,14.6 527.3,18.5 526.5,22.5 527.3,26.4 526.5,30.4 526.4,34.3 526.4,38.2 526.4,42.2 526.4,46.1 526.4,50.1 526.4,54.0 527.3,57.9 527.3,61.9 527.3,65.8 527.6,69.8 528.0,73.7 528.6,77.6 527.8,81.6 527.5,85.5 527.3,89.5 527.3,93.4 527.4,97.3 528.6,101.3 529.7,105.2 531.2,109.2 529.9,113.1 528.0,117.0 530.5,121.0 530.5,124.9 530.3,128.9 528.8,132.8 528.2,136.7 527.7,140.7 529.1,144.6 528.5,148.6 527.4,152.5 527.3,156.4 526.4,160.4 527.3,164.3 527.4,168.3 528.3,172.2 528.4,176.1 529.3,180.1 528.6,184.0 529.5,188.0 528.8,191.9 527.5,195.8 527.3,199.8 527.3,203.7 526.5,207.7 526.5,211.6 526.5,215.5 526.4,219.5 527.3,223.4 528.0,227.4 528.7,231.3 528.6,235.2 532.1,239.2 531.7,243.1 531.2,247.1 532.1,251.0 532.3,254.9 530.9,258.9 529.6,262.8 530.4,266.8 533.3,270.7 533.9,274.6 534.3,278.6 533.7,282.5 533.1,286.5 534.7,290.4 536.3,294.3 535.1,298.3 533.3,302.2 533.4,306.2 532.3,310.1 529.6,314.0 529.9,318.0 531.5,321.9 530.7,325.9 533.7,329.8 527.9,333.7 527.7,337.7 528.3,341.6 527.9,345.6 528.7,349.5 528.1,353.4 527.8,357.4 527.3,361.3 527.3,365.3 527.3,369.2" stroke="#e377c2" stroke-width="1.6"/>
<polyline points="526.4,14.6 527.3,18.5 526.5,22.5 527.3,26.4 526.4,30.4 526.4,34.3 526.4,38.2 526.4,42.2 526.4,46.1 526.4,50.1 526.4,54.0 527.3,57.9 527.3,61.9 528.0,65.8 528.0,69.8 527.9,73.7 527.9,77.6 527.3,81.6 527.6,85.5 528.0,89.5 528.2,93.4 528.5,97.3 528.5,101.3 528.7,105.2 529.5,109.2 528.4,113.1 527.3,117.0 528.4,121.0 528.4,124.9 528.4,128.9 527.7,132.8 527.4,136.7 528.4,140.7 529.9,144.6 529.9,148.6 528.0,152.5 527.3,156.4 526.4,160.4 527.3,164.3 527.5,168.3 528.7,172.2 528.9,176.1 528.6,180.1 527.6,184.0 527.6,188.0 527.3,191.9 527.3,195.8 527.3,199.8 527.3,203.7 526.5,207.7 526.4,211.6 526.4,215.5 526.4,219.5 527.3,223.4 528.6,227.4 529.2,231.3 528.6,235.2 528.6,239.2 528.4,243.1 528.2,247.1 529.0,251.0 530.4,254.9 531.1,258.9 532.2,262.8 534.4,266.8 537.6,270.7 536.6,274.6 535.7,278.6 532.3,282.5 531.9,286.5 533.1,290.4 534.3,294.3 534.9,298.3 534.2,302.2 534.3,306.2 530.4,310.1 530.1,314.0 530.5,318.0 531.7,321.9 530.9,325.9 529.5,329.8 529.1,333.7 530.8,337.7 529.6,341.6 529.0,345.6 527.7,349.5 527.4,353.4 527.3,357.4 527.3,361.3 527.3,365.3 527.3,369.2" stroke="#7f7f7f" stroke-width="1.6"/>
<polyline points="525.7,14.6 532.5,19.1 526.6,22.8 538.7,26.5 526.1,30.5 526.1,56.7 555.4,67.3 555.4,71.7 568.3,78.8 544.3,83.1 550.4,86.9 544.3,90.6 556.4,96.4 562.2,101.9 562.2,105.4 583.2,109.5 580.9,111.3 544.1,116.8 586.1,120.6 583.8,123.5 612.0,127.8 581.2,130.9 579.5,135.5 574.2,139.0 573.6,143.1 582.4,144.9 573.6,148.4 556.7,151.9 539.8,154.3 526.9,157.9 526.3,162.3 552.6,165.8 557.5,164.2 552.6,169.2 595.1,173.3 585.2,180.6 555.6,184.6 565.5,188.5 539.8,194.5 533.8,198.4 531.9,201.8 526.9,206.9 526.3,222.1 539.8,224.7 565.0,228.6 576.9,229.9 589.2,237.3 582.8,241.0 582.8,244.2 576.9,248.4 615.6,255.8 613.1,259.5 625.5,264.0 625.5,267.4 676.1,271.1 661.3,274.8 652.7,278.8 622.3,286.2 650.2,293.3 657.6,297.3 646.5,301.0 653.9,305.2 619.3,312.6 639.0,319.8 606.8,327.3 600.6,331.0 589.4,334.7 582.0,339.2 568.3,341.7 559.7,345.9 559.2,348.3 548.5,353.3 546.0,355.8 541.0,359.0 537.8,364.5 537.8,369.4" stroke="#000" stroke-width="2.0"/>
</g>
<rect x="54.0" y="4.5" width="411.0" height="364.9" fill="none" stroke="#000" stroke-width="0.6"/>
<rect x="518.7" y="4.5" width="165.0" height="364.9" fill="none" stroke="#000" stroke-width="0.6"/>
<path d="M51.7,369.40H54.0 M516.4000000000001,369.40H518.7 M51.7,325.04H54.0 M516.4000000000001,325.04H518.7 M51.7,280.68H54.0 M516.4000000000001,280.68H518.7 M51.7,236.32H54.0 M516.4000000000001,236.32H518.7 M51.7,191.96H54.0 M516.4000000000001,191.96H518.7 M51.7,147.60H54.0 M516.4000000000001,147.60H518.7 M51.7,103.24H54.0 M516.4000000000001,103.24H518.7 M51.7,58.88H54.0 M516.4000000000001,58.88H518.7 M51.7,14.52H54.0 M516.4000000000001,14.52H518.7 M54.00,369.4V371.7 M259.50,369.4V371.7 M465.00,369.4V371.7 M526.44,369.4V371.7 M586.18,369.4V371.7 M645.92,369.4V371.7" stroke="#000" stroke-width="0.6" fill="none"/>
<g opacity="0.999">
<text x="41.94" y="374.70" font-size="14.4" textLength="6.50" lengthAdjust="spacingAndGlyphs">0</text>
<text x="506.23" y="374.70" font-size="14.4" textLength="6.50" lengthAdjust="spacingAndGlyphs">0</text>
<text x="41.94" y="330.34" font-size="14.4" textLength="6.50" lengthAdjust="spacingAndGlyphs">2</text>
<text x="506.23" y="330.34" font-size="14.4" textLength="6.50" lengthAdjust="spacingAndGlyphs">2</text>
<text x="41.94" y="285.98" font-size="14.4" textLength="6.50" lengthAdjust="spacingAndGlyphs">4</text>
<text x="506.23" y="285.98" font-size="14.4" textLength="6.50" lengthAdjust="spacingAndGlyphs">4</text>
<text x="41.94" y="241.62" font-size="14.4" textLength="6.50" lengthAdjust="spacingAndGlyphs">6</text>
<text x="506.23" y="241.62" font-size="14.4" textLength="6.50" lengthAdjust="spacingAndGlyphs">6</text>
<text x="41.94" y="197.26" font-size="14.4" textLength="6.50" lengthAdjust="spacingAndGlyphs">8</text>
<text x="506.23" y="197.26" font-size="14.4" textLength="6.50" lengthAdjust="spacingAndGlyphs">8</text>
<text x="34.06" y="152.90" font-size="14.4" textLength="15.34" lengthAdjust="spacingAndGlyphs">10</text>
<text x="498.05" y="152.90" font-size="14.4" textLength="15.17" lengthAdjust="spacingAndGlyphs">10</text>
<text x="34.06" y="108.54" font-size="14.4" textLength="15.34" lengthAdjust="spacingAndGlyphs">12</text>
<text x="498.05" y="108.54" font-size="14.4" textLength="15.17" lengthAdjust="spacingAndGlyphs">12</text>
<text x="34.06" y="64.18" font-size="14.4" textLength="15.34" lengthAdjust="spacingAndGlyphs">14</text>
<text x="498.05" y="64.18" font-size="14.4" textLength="15.17" lengthAdjust="spacingAndGlyphs">14</text>
<text x="33.76" y="19.82" font-size="14.4" textLength="15.34" lengthAdjust="spacingAndGlyphs">16</text>
<text x="498.05" y="19.82" font-size="14.4" textLength="15.17" lengthAdjust="spacingAndGlyphs">16</text>
<text x="50.81" y="383.46" font-size="14.4" textLength="6.18" lengthAdjust="spacingAndGlyphs">0</text>
<text x="250.04" y="384.26" font-size="14.4" textLength="23.15" lengthAdjust="spacingAndGlyphs"><tspan style="font-style:italic">π</tspan>/2</text>
<text x="461.36" y="384.08" font-size="14.4" textLength="7.77" lengthAdjust="spacingAndGlyphs"><tspan style="font-style:italic">π</tspan></text>
<text x="522.90" y="383.46" font-size="14.4" textLength="6.97" lengthAdjust="spacingAndGlyphs">0</text>
<text x="577.67" y="383.46" font-size="14.4" textLength="16.13" lengthAdjust="spacingAndGlyphs">20</text>
<text x="638.21" y="383.46" font-size="14.4" textLength="16.13" lengthAdjust="spacingAndGlyphs">40</text>
<text x="255.40" y="401.12" font-size="16" textLength="7.04" lengthAdjust="spacingAndGlyphs">q</text>
<path d="M598.3,389.6h6.8v1.3h-6.8z M599.2,393.8h4.8v1.2h-4.8z M598.3,399.0h6.8v1.3h-6.8z" fill="#000"/>
<text transform="translate(25.8,186.1) rotate(-90)" font-size="15" text-anchor="middle" textLength="54" lengthAdjust="spacingAndGlyphs"><tspan style="font-style:italic">ω</tspan> (THz)</text>
<text x="0.77" y="13.80" font-size="18" textLength="23.10" lengthAdjust="spacingAndGlyphs">(a)</text>
<text x="470.78" y="13.80" font-size="18" textLength="23.83" lengthAdjust="spacingAndGlyphs">(b)</text>
</g>
<rect x="556.4" y="9.6" width="121.10000000000002" height="145.70000000000002" rx="3" ry="3" fill="#fff" fill-opacity="0.8" stroke="#ccc" stroke-opacity="0.8" stroke-width="0.7"/>
<line x1="560.3" x2="582.9" y1="18.60" y2="18.60" stroke="#1f77b4" stroke-width="1.6" stroke-linecap="round"/>
<g opacity="0.999"><text x="591.55" y="22.20" font-size="10" textLength="9.90" lengthAdjust="spacingAndGlyphs" style="font-style:italic">m</text><text x="604.28" y="22.20" font-size="10" textLength="8.06" lengthAdjust="spacingAndGlyphs">=</text><text x="615.22" y="22.20" font-size="10" textLength="5.59" lengthAdjust="spacingAndGlyphs">0</text><text x="621.42" y="22.20" font-size="10" textLength="4.70" lengthAdjust="spacingAndGlyphs">,</text><text x="627.96" y="22.20" font-size="10" textLength="7.17" lengthAdjust="spacingAndGlyphs">Π</text><text x="635.91" y="23.70" font-size="7.5" textLength="3.90" lengthAdjust="spacingAndGlyphs" style="font-style:italic">v</text><text x="643.38" y="22.20" font-size="10" textLength="8.06" lengthAdjust="spacingAndGlyphs">=</text><text x="656.42" y="22.20" font-size="10" textLength="7.91" lengthAdjust="spacingAndGlyphs">−</text><text x="667.36" y="22.20" font-size="10" textLength="6.23" lengthAdjust="spacingAndGlyphs">1</text></g>
<line x1="560.3" x2="582.9" y1="34.42" y2="34.42" stroke="#ff7f0e" stroke-width="1.6" stroke-linecap="round"/>
<g opacity="0.999"><text x="591.55" y="38.02" font-size="10" textLength="9.90" lengthAdjust="spacingAndGlyphs" style="font-style:italic">m</text><text x="604.28" y="38.02" font-size="10" textLength="8.06" lengthAdjust="spacingAndGlyphs">=</text><text x="615.22" y="38.02" font-size="10" textLength="5.59" lengthAdjust="spacingAndGlyphs">0</text><text x="621.42" y="38.02" font-size="10" textLength="4.70" lengthAdjust="spacingAndGlyphs">,</text><text x="627.96" y="38.02" font-size="10" textLength="7.17" lengthAdjust="spacingAndGlyphs">Π</text><text x="635.91" y="39.52" font-size="7.5" textLength="3.90" lengthAdjust="spacingAndGlyphs" style="font-style:italic">v</text><text x="643.38" y="38.02" font-size="10" textLength="8.06" lengthAdjust="spacingAndGlyphs">=</text><text x="654.36" y="38.02" font-size="10" textLength="6.23" lengthAdjust="spacingAndGlyphs">1</text></g>
<line x1="560.3" x2="582.9" y1="50.24" y2="50.24" stroke="#2ca02c" stroke-width="1.6" stroke-linecap="round"/>
<g opacity="0.999"><text x="591.55" y="53.84" font-size="10" textLength="9.90" lengthAdjust="spacingAndGlyphs" style="font-style:italic">m</text><text x="604.28" y="53.84" font-size="10" textLength="8.06" lengthAdjust="spacingAndGlyphs">=</text><text x="614.76" y="53.84" font-size="10" textLength="6.23" lengthAdjust="spacingAndGlyphs">1</text></g>
<line x1="560.3" x2="582.9" y1="66.06" y2="66.06" stroke="#d62728" stroke-width="1.6" stroke-linecap="round"/>
<g opacity="0.999"><text x="591.55" y="69.66" font-size="10" textLength="9.90" lengthAdjust="spacingAndGlyphs" style="font-style:italic">m</text><text x="604.28" y="69.66" font-size="10" textLength="8.06" lengthAdjust="spacingAndGlyphs">=</text><text x="615.07" y="69.66" font-size="10" textLength="5.89" lengthAdjust="spacingAndGlyphs">2</text></g>
<line x1="560.3" x2="582.9" y1="81.88" y2="81.88" stroke="#9467bd" stroke-width="1.6" stroke-linecap="round"/>
<g opacity="0.999"><text x="591.55" y="85.48" font-size="10" textLength="9.90" lengthAdjust="spacingAndGlyphs" style="font-style:italic">m</text><text x="604.28" y="85.48" font-size="10" textLength="8.06" lengthAdjust="spacingAndGlyphs">=</text><text x="615.21" y="85.48" font-size="10" textLength="5.74" lengthAdjust="spacingAndGlyphs">3</text></g>
<line x1="560.3" x2="582.9" y1="97.70" y2="97.70" stroke="#8c564b" stroke-width="1.6" stroke-linecap="round"/>
<g opacity="0.999"><text x="591.55" y="101.30" font-size="10" textLength="9.90" lengthAdjust="spacingAndGlyphs" style="font-style:italic">m</text><text x="604.28" y="101.30" font-size="10" textLength="8.06" lengthAdjust="spacingAndGlyphs">=</text><text x="615.48" y="101.30" font-size="10" textLength="5.19" lengthAdjust="spacingAndGlyphs">4</text></g>
<line x1="560.3" x2="582.9" y1="113.52" y2="113.52" stroke="#e377c2" stroke-width="1.6" stroke-linecap="round"/>
<g opacity="0.999"><text x="591.55" y="117.12" font-size="10" textLength="9.90" lengthAdjust="spacingAndGlyphs" style="font-style:italic">m</text><text x="604.28" y="117.12" font-size="10" textLength="8.06" lengthAdjust="spacingAndGlyphs">=</text><text x="615.22" y="117.12" font-size="10" textLength="5.59" lengthAdjust="spacingAndGlyphs">5</text><text x="621.42" y="117.12" font-size="10" textLength="4.70" lengthAdjust="spacingAndGlyphs">,</text><text x="627.96" y="117.12" font-size="10" textLength="7.17" lengthAdjust="spacingAndGlyphs">Π</text><text x="635.91" y="118.62" font-size="7.5" textLength="3.90" lengthAdjust="spacingAndGlyphs" style="font-style:italic">v</text><text x="643.38" y="117.12" font-size="10" textLength="8.06" lengthAdjust="spacingAndGlyphs">=</text><text x="656.42" y="117.12" font-size="10" textLength="7.91" lengthAdjust="spacingAndGlyphs">−</text><text x="667.36" y="117.12" font-size="10" textLength="6.23" lengthAdjust="spacingAndGlyphs">1</text></g>
<line x1="560.3" x2="582.9" y1="129.34" y2="129.34" stroke="#7f7f7f" stroke-width="1.6" stroke-linecap="round"/>
<g opacity="0.999"><text x="591.55" y="132.94" font-size="10" textLength="9.90" lengthAdjust="spacingAndGlyphs" style="font-style:italic">m</text><text x="604.28" y="132.94" font-size="10" textLength="8.06" lengthAdjust="spacingAndGlyphs">=</text><text x="615.22" y="132.94" font-size="10" textLength="5.59" lengthAdjust="spacingAndGlyphs">5</text><text x="621.42" y="132.94" font-size="10" textLength="4.70" lengthAdjust="spacingAndGlyphs">,</text><text x="627.96" y="132.94" font-size="10" textLength="7.17" lengthAdjust="spacingAndGlyphs">Π</text><text x="635.91" y="134.44" font-size="7.5" textLength="3.90" lengthAdjust="spacingAndGlyphs" style="font-style:italic">v</text><text x="643.38" y="132.94" font-size="10" textLength="8.06" lengthAdjust="spacingAndGlyphs">=</text><text x="654.36" y="132.94" font-size="10" textLength="6.23" lengthAdjust="spacingAndGlyphs">1</text></g>
<line x1="560.3" x2="582.9" y1="145.16" y2="145.16" stroke="#000" stroke-width="1.6" stroke-linecap="round"/>
<g opacity="0.999"><text x="591.15" y="148.76" font-size="10" textLength="25.09" lengthAdjust="spacingAndGlyphs">Total</text></g>
</svg></body></html>
